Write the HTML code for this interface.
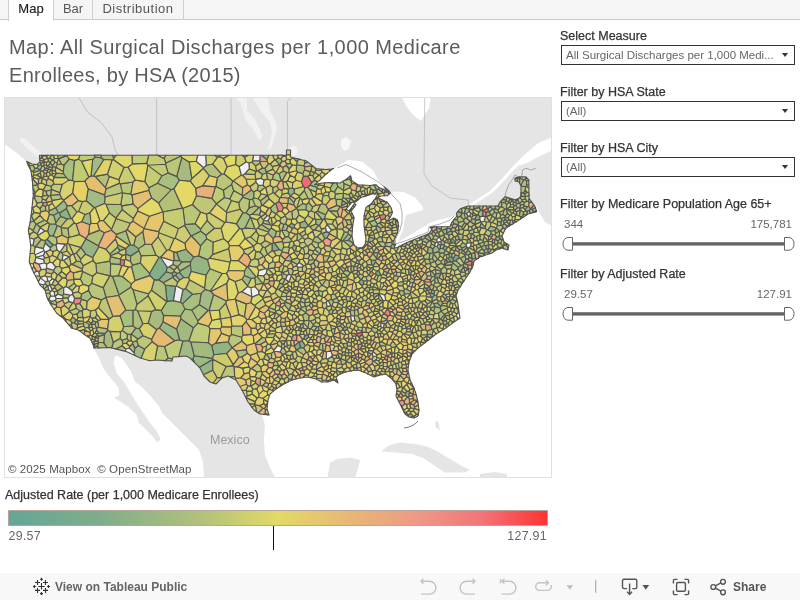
<!DOCTYPE html>
<html><head><meta charset="utf-8">
<style>
*{margin:0;padding:0;box-sizing:border-box}
html,body{width:800px;height:600px;overflow:hidden;background:#fff;font-family:"Liberation Sans",Arial,sans-serif}
.a{position:absolute;white-space:nowrap}
#tabs{position:absolute;left:0;top:0;width:800px;height:20px;background:#f5f5f5;border-bottom:1px solid #cbcbcb}
.tab{position:absolute;top:0;height:20px;border-right:1px solid #cfcfcf;font-size:13px;color:#555;line-height:18.8px;text-align:center}
#t1{left:8px;width:46px;background:#fff;border-left:1px solid #cfcfcf;height:21px;color:#222;-webkit-text-stroke:0.15px #222}
#t2{left:54px;width:39px}
#t3{left:93px;width:91px}
.title{left:9px;font-size:20px;letter-spacing:0.3px;color:#5c5c5c;line-height:28px}
.lbl{font-size:12.5px;color:#333;left:560px;-webkit-text-stroke:0.25px #333}
.dd{position:absolute;left:561px;width:234px;height:20px;border:1px solid #333;background:#fff}
.dd span{position:absolute;left:4px;top:2px;font-size:11.5px;color:#666;line-height:14px}
.dd i{position:absolute;right:6px;top:7px;width:0;height:0;border-left:3.5px solid transparent;border-right:3.5px solid transparent;border-top:4px solid #333}
.val{font-size:11.5px;color:#666}
#tb{position:absolute;left:0;top:573px;width:800px;height:27px;background:#f8f8f8}
</style></head><body>
<div id="tabs"></div>
<div class="tab" id="t1">Map</div>
<div class="tab" id="t2">Bar</div>
<div class="tab" id="t3" style="letter-spacing:0.5px">Distribution</div>

<div class="a title" style="top:33px;letter-spacing:0.41px">Map: All Surgical Discharges per 1,000 Medicare</div>
<div class="a title" style="top:61px">Enrollees, by HSA (2015)</div>

<svg class="a" style="left:0;top:0" width="800" height="600" viewBox="0 0 800 600">
<rect x="4" y="97" width="548" height="381" fill="#e5e5e5"/>
<polygon fill="#ffffff"  points="4,143.4 10,148 18,154 24,159 26.6,161.3 40,172 45,200 42,230 42,260 52,285 62,303 75,320 90,331 93.7,348.2 98.3,356.5 103.8,369.3 111,378.5 118.5,387.6 119.4,395 113.9,397.7 120.3,401.4 129.5,407.8 136.8,415 138.6,422.4 146,429.7 153.3,437 157,442.6 160.6,439.8 157,431.6 149.6,422.4 142.3,411.4 135,400.4 129.5,391.3 124,382 116.6,373 113.9,363.8 114.8,356.5 116.6,355.6 122,358.3 131,371 135,382 140.4,385.8 149.6,395 158.8,406 162.4,413.3 169.7,420.6 182.6,433.4 191.7,442.6 199,450 203,462 204,478 4,478"/>
<polygon fill="#ffffff"  points="552,226 545,222 540,214 536,206 520,215 500,232 480,252 455,275 440,310 405,340 398,380 380,365 340,362 300,368 262,392 262,415 265,425 264,440 265,455 270,467.5 275,478 552,478"/>
<polygon fill="#ffffff"  points="452,219 460,210 470,204 490,191 501.5,179 508,172 514,165 523.5,155.4 538,143.3 552,137.3 552,150.5 540,156 528,162.6 518,166 510,174 503.5,181.5 492,193 472,206 462,212 454,221"/>
<polygon fill="#ffffff"  points="402,97 431,97 429,108 421,121 413,115 406,106"/>
<polygon fill="#f1f1f1"  points="252.6,98 268,98 270,111 276.5,123 276.5,131 271,149 268,149 272,131 270,123 261,111"/>
<polygon fill="#f1f1f1"  points="235,98 247,98 247,111 255,119 260,130 262.4,136 261,139.5 258,139.5 257,136 253.7,130 245,119 243,111 240,102"/>
<polygon fill="#f1f1f1"  points="289.5,148 294,145 298,150 296,155 291,155"/>
<polygon fill="#f1f1f1"  points="21,137 25,139 33,146 41,153 41,158 36,156 28,149 20,141"/>
<polygon fill="#e5e5e5"  points="327.5,478 330,462.5 337.5,459 350,457.5 360,460 357.5,470 355,478"/>
<polygon fill="#e5e5e5"  points="382.5,450 390,445 400,442.5 415,444 425,446 435,450 447.5,457.5 460,465 470,470 465,472.5 445,472.5 435,466 425,459 412.5,454 395,452.5 382.5,451.5"/>
<polygon fill="#e5e5e5"  points="480,474 495,472 507,474 507,478 480,478"/>
<polygon fill="#e5e5e5"  points="435,422 438,421 440,430 436,428"/>
<polygon fill="#ffffff"  points="314.5,185 319,181 325,175 331,170 340,165 348,160 362,161.5 373,170.5 379,181 386,189 388,192 385,190 379,187.7 376,184.7 370,185.5 358,184.7 352,181 350.5,175.7 346,179.5 340,183 329.5,182.5 322,183"/>
<polygon fill="#ffffff"  points="354,203 361,197.5 372,194 378,194 375,199 371,204 366,207.5 364,216 364,225 365,232.5 366,239 365,245 362.5,247.5 357.5,248 354,245 352,236 352.5,227.5 354,217.5 351,211 356,205"/>
<polygon fill="#ffffff"  points="346,209 352,202 355,203 349,211"/>
<polygon fill="#ffffff"  points="387.5,195.6 392,191.7 403,191.7 415,197.5 423,207 423,210 406,215 404.5,221 403,230 399.5,238 397,244.5 394,244 394,240 397.5,232.5 398.75,226 397.5,220 393.75,218 390,220 387.5,221 390,217.5 392.5,212.5 391,207.5 387.5,202.5 382.5,200 377.5,197.5 381,196"/>
<polygon fill="#ffffff"  points="394,247 397,242.5 405,238 415,232 424,226.5 428,225 432,229 429,233.6 418,238 406,243 396,248"/>
<polygon fill="#ffffff"  points="427,224 438,220 450,217.5 456,213 457,216 452,222 450,226.7 440,226.7 429,227"/>
<polyline fill="none" stroke="#b4b4b4" stroke-width="0.7"  points="156.6,97 156.6,155"/>
<polyline fill="none" stroke="#b4b4b4" stroke-width="0.7"  points="231,97 231,155"/>
<polyline fill="none" stroke="#b4b4b4" stroke-width="0.7"  points="290.6,97.5 287.4,101.5 287.4,150"/>
<polyline fill="none" stroke="#b4b4b4" stroke-width="0.7" stroke-linejoin="round" points="424.6,97 424.6,119 424,174 432,186 450,198 468,200 469,206"/>
<polyline fill="none" stroke="#a8a8a8" stroke-width="0.6" stroke-linejoin="round" points="78.75,97.5 87.5,112 101.5,123 112,137 115.5,151 119,155"/>
<polyline fill="none" stroke="#8a8a8a" stroke-width="0.7" stroke-linejoin="round" points="337,168 346,164.5 362,172 379,182.5 388,190 393,196 400,203.5 402,212 402,222 400,230 396,238 395,244 405,241 418,236 428,232 429,227 440,224 450,220 455,215"/>
<polyline fill="none" stroke="#8a8a8a" stroke-width="0.7" stroke-linejoin="round" points="500,203.3 505,196.7 505.8,192.5 508.3,185.8 515,175 517.5,176.7 521.7,176.7 522.5,170 525.8,168.3 530.8,170 535.8,168.3"/>
<polygon fill="#f6f6f6"  points="341,140 346,137 351,141 349,149 344,151 341,146"/>
<g stroke="#525252" stroke-width="1.15" stroke-linejoin="round">
<path fill="#72a890" d="M456 260.6l3.4 -2.8l-.8 -2l-3.3 -1.1l-2.6 4l.8 2.7zM427.1 288.5l-2.8 -1.1l-1.1 1.4l.9 2.5l1.4 .4l1.6 -1.4zM434.9 275.3l-.4 1.4l.8 1.2l1.9 .4l2 -.5l2.1 -4.8l-.3 -.3l-4.9 1z"/>
<path fill="#78a890" d="M308.6 337.1l-.4 -2.1l-1 -.3l-2.2 .6l-1.5 3.7l2.2 .7zM376.3 271.1l-.9 2.5l.9 1.2l1.9 1l2.6 -.5l0 0l-2 -5.2zM344.6 326.9l-1.6 1.8l-.3 1.1l1.9 1.1l2.8 -1.1l.4 -2l-1.4 -1.3zM362 285.9l1.5 -1.6l.5 -3.1l-2.4 -1.8l-1.1 .3l-2 2.6zM412.1 271.4l-2.5 -2.9l-1.4 .8l.7 5.4l1.1 .1zM294.7 225.3l-3.1 -2.3l-3.3 2.9l4.2 2.6l2 -.8z"/>
<path fill="#78ae90" d="M445.1 259.5l-1 5.7l.1 .1l3.7 -3.2l-2 -2.7zM217.5 157.4l2.4 -.7l.2 -1.5l-5.8 0z"/>
<path fill="#7eae8a" d="M431.9 297.9l2.9 -2.7l-.6 -1l-3.1 -1.5l-1.3 .5l-.2 .3l1.6 3.9zM475.9 220.4l3.9 -.8l.3 -2.8l-2 -2.2l-1.1 .3l-.2 .2l-2 4zM445.9 250.5l1.7 -3.3l-3.1 -1.4l-1.8 2.4l2.6 2.5zM375.6 260.4l-4.7 -.6l.8 5.1l1.4 1.1l2.6 -4.1zM294.5 345.7l-.2 .5l2 4.1l.4 -.2l3.9 -2.4l-1.3 -5.7l-.5 -.1zM428.1 234.6l.1 0l.6 -.7l0 -.2l-1.3 .5zM167 301.6l6.5 -1l2.3 -14.2l-10.4 -1.4zM430.6 289.3l-1.3 -3l-.2 0l-2 2.2l0 1.8l1.4 .4zM45 240.5l.2 2.7l5.1 4.5l3 -2.7l-6.3 -5.7z"/>
<path fill="#84ae8a" d="M495.3 239.1l0 0l2.4 2.3l2.7 -2.5l-1.3 -2.5l-2.7 .2zM285.3 382.9l.2 .4l2.9 -1.5l-.1 -.1zM301.2 331.3l.2 -3.1l-1.6 -1l-.6 .2l-.7 2.8l2.3 1.4zM272 250.8l1.4 .6l6.2 -1.6l-5.2 -6.9l-1 -.2l-1.3 .9zM300.6 347.7l3.2 .3l1.7 -2.5l-3.6 -5.1l-2.6 1.6zM434.7 291.1l-2.1 -1.4l-.8 .2l-.7 2.8l3.1 1.5zM160.6 257.2l-1.6 .2l-9.4 15.9l.3 2.3l4.3 4.3l4.4 .2l7.6 -8.3l1.1 -4.6zM372.9 295.8l1.3 2.2l4.6 -3.5l.3 -.6l.1 -.7l0 -.2l-5.3 .6z"/>
<path fill="#8aae8a" d="M125.8 254.3l4.9 1.8l8.2 -5.3l-.2 -2.2l-5 -3.5l-3.1 -.3l-1.6 .5l-3.3 3.1l0 .1zM104.5 334.6l.6 -1.2l-6.7 -.7l-1.8 1.1l.6 1.8l1.9 .9z"/>
<path fill="#8ab484" d="M173.2 276.5l2.5 -.9l1.3 -2.4l-2.8 -1.7l-2.6 1.7zM59.5 213.1l1.2 3.4l6.6 2.6l3.9 -.6l-4.7 -9.9zM436.7 227.7l-.5 1.3l1.3 3.4l1.2 .1l2.8 -2.1l-.4 -1.2z"/>
<path fill="#8ab48a" d="M408.8 396.8l.7 -4.7l-.5 -1.2l-2 .2l-1.6 2.3l-.1 2l2.1 1.9l.8 .1zM34.9 168.2l-1.8 3.5l.3 1.1l6.9 -2.3l0 -.2l-2.9 -2.4zM514.1 220.4l-1.5 .1l.3 3.3l3 -1.7zM413.3 416l-2.6 -2.7l-2.4 2l-.1 1.1l.8 .6l1.8 .4zM489.2 248.5l-.6 -3.7l-.1 -.1l-2.9 1.1l.6 3l1.9 .4zM521 196.4l4.1 .3l.3 -.5l-.6 -2.3l-1.3 -1.1l-2.3 -.1l-.2 3.2l0 .1l0 0z"/>
<path fill="#90b484" d="M446.6 327.5l2.9 -2.1l-1.3 -1.8l-.7 -.1l-2.6 1zM451.9 262.1l.9 .3l.7 -1l-.8 -2.7l-.7 -.9l-2.5 -1l-1.7 1.6zM468.3 255l3 -1.4l-3.3 -4l-2.5 3.8l0 1.3zM432.7 249l-2.4 -2.1l-2.3 .5l-.6 5.4l0 .1l2.3 .6l3.6 -.5zM289.6 188.5l-1.2 .9l-.2 3.5l2.1 3.1l.2 -.1l3.9 -2.9l-.2 -4l-1.9 -1.2zM267 159.9l2 -4.7l-7.6 0zM183 289.4l-2.7 12.9l2.2 1.6l10.3 -9.7l-7.2 -5.6zM213.8 354.7l12.9 -1.2l5.5 -5.7l-3.9 -6l-12.5 1.3l-4.2 2.3zM527.4 192.5l-2.1 -2.4l-1.8 2.7l1.3 1.1zM304.9 220.8l-5.3 2.3l.6 4.3l5.2 .9l3.1 -2.5l0 -.1zM381.1 321.7l-.3 .3l.2 .4l3.2 1.9l1.8 -.6l1.7 -1.9l.1 -.8l-.7 -1zM324.7 238.6l2.2 -.6l2.5 -4.3l-.2 -1.1l-2.4 -1l-4.7 1.9zM446.4 233.7l2.3 1.6l3.5 -1.2l.4 -2.1l-1.3 -1.2l-4.6 2.3zM446.9 258.5l-1 .9l2 2.7l4 0l-4.1 -3.7zM496.3 227.8l0 0l-1.8 2.6l1.1 3.1l4.1 -2.2l.1 -.2zM447 228.4l-5.4 2.1l2.8 3.8l2 -.6l.3 -.6zM479 207.6l1.5 2.5l1.5 0l1.9 -4.1l-5 0z"/>
<path fill="#96b484" d="M457.9 217.3l2.8 -.9l1.5 -3.2l-.1 -.1l-4.1 -1.7l-1.6 2l-.1 .6l.7 2l0 0zM341.3 206.1l5.5 -2.9l-4.5 -3.1zM470.2 221.5l4.2 3l.5 0l1 -4.1l-1.1 -1.3l-2.8 -.4zM279.7 164.9l2.4 -3.5l-1 -2.6l-3 -.9l-3 2l4.5 5zM92.7 257.7l6.3 -11l-.5 -1l-12.6 -7l-5 8.7l0 .2l4.7 6.6zM425.3 236.7l2.8 -2.1l-.6 -.4l-3.2 1.3zM368.4 241.8l.1 .1l.7 .1l3.3 -.7l2.6 -2.6l-6.1 -2zM471.9 262.1l-.3 2.6l1.6 .2l.5 -2.6zM179.6 272.6l4.2 5l4.9 .2l2.5 -6.3l-.8 -6.8l-10.6 6.2zM190.4 264.7l.8 6.8l14.8 3.7l4.1 -6.4l-2.5 -9.2l-9 -3.7l-4.8 1.1l-3.2 4.6zM166.2 271.8l-7.6 8.3l4.7 2.7l9.5 -5.2l.4 -1.1l-1.6 -3.3zM428.2 234.6l-.1 0l-2.8 2.1l-.3 1.2l4.5 3.1l1.2 -.2l.4 -.4l.3 -.5zM190.6 261.6l3.2 -4.6l-7.9 -7.7l-9.4 2.8l3.1 8.6l2.3 1.4zM502 239.7l1.4 .5l-.6 -1.8zM534.6 211.7l.3 .5l1.8 -.5l-.5 -1.4zM432.8 335.7l-.6 -.9l-4.9 -.8l-.3 .6l.1 1.5l0 .1l3.1 1.9zM125.7 248.4l-7.7 -3.6l-.6 2.3l2.5 3.8l5.8 -2.4zM292.5 157.6l4.4 4.2l2 -2.7l-6.4 -1.6zM92.7 320.4l-1.4 3.2l.7 .6l2.8 .3l1.2 -2.6zM199.2 367.2l.8 .8l3.2 6.5l.4 .2l9.3 -4.5l-.3 -10.8zM452 253.6l-2.5 -.7l-.8 1.2l.8 2.7l2.5 1zM175.7 275.6l4.1 4.5l4 -2.5l-4.2 -5l-2.6 .6z"/>
<path fill="#9cb484" d="M294.3 244.7l-2.4 3.1l2.6 3.8l1.3 -.8l.8 -4.5zM374.8 193.9l2.2 -1.8l-.1 -2l-.5 -.2l-3.6 .2l0 2.7z"/>
<path fill="#9cba84" d="M463.5 266.4l-.4 -1.5l-2.1 .4l-2.9 2l-.5 2l2.9 2.6l.2 0l2.8 -4.5zM478.6 212.3l-.5 2.3l2 2.2l2.9 -.7l-.1 -5.5l-.9 -.5l-1.5 0zM280.4 379.4l1.8 -.8l-.4 -3.1l-2.6 -1.9l-1.6 1l.3 2.2zM351.6 236l-3.1 -2l-5.9 7l.8 .1l5.3 -1zM49.5 224l-1.9 7.2l2 4.7l3.8 0l3.9 -10.1l-1.9 -1.9zM48.4 211.7l.9 2.7l4.3 .8l4.7 -2.8l-2.6 -4.5l-.4 -.1l-6 3zM509.4 224.4l-.4 .3l-.2 .5l.5 .8l3.4 -2zM451.3 230.8l-.4 -1.8l-3.5 -1.3l-.4 .7l-.3 4.7zM348.7 194.5l1.8 3.5l.4 .3l.3 0l2.1 -1.5l.4 -.8l-2.7 -3.7zM461.8 249.3l.7 1l1.1 .3l3.7 -3.1l-.9 -1.2l-4.6 1.5zM420.7 248.2l-.7 -3.5l-2.9 -1.2l-.7 1l2.2 3.1l1.7 .7zM496.9 213.2l1.9 -.8l-.6 -2.4l-3.3 -1.4l-1.1 .8l.6 3zM433.9 303.6l.8 2.6l.4 .5l5.3 1.4l.5 -1.6l-3.5 -3.7zM432 301.6l4.7 -2.1l.8 -3l-1 -1l-1.7 -.3l-2.9 2.7l0 3.5zM348.7 240.1l-5.3 1l7 5.8l2.9 -2.2l-.2 -1.6zM163.2 321.8l-3.9 6.3l15.3 12.6l5.2 -.8l-3.2 -11zM453.7 285.9l3.9 -1.9l-.4 -2.7l-3.5 .4l-1 1.2l.1 2.4zM95.1 337.4l2.9 1l1.1 -1.9l-1.9 -.9l-2.3 1.5zM462.6 239l.9 -3.5l-.8 -1.2l-3.7 -.4l-1.1 .5l-.6 1l2.2 3.9l1.7 .7l.6 .1zM479.7 226.7l1.5 1.2l4.4 .9l-.3 -1.7l-4 -4.1zM430.7 227.2l.6 .9l3.4 -1.3l-3.9 .2zM458.9 230.1l4.3 -.9l-1.6 -2.4l-3.4 -1.6zM346.6 348.1l1.1 -1.8l-.6 -3.1l-4.5 .4l1.7 4.1l1.9 .5zM348.8 202.4l2.1 -4.1l-.4 -.3l-5.8 .2zM452.9 221.4l.8 2.5l4.3 .8l.7 -2.1l-1.6 -3.2l-3.2 .3l-.6 .7zM527.4 206.5l-2.2 3.3l.1 1.1l1.8 .5l2.2 -1l1.4 -1.6l0 0l-2 -2.6zM71.4 324.5l-2.5 .4l2.8 3.4l.9 .2zM529.3 210.4l.7 3.1l2.1 -.6l1.2 -1.9l-1.3 -1.6l-1.3 -.6zM517.9 200l-1.7 .5l-.5 1.9l1 1.6l2.7 -1zM432.7 249l.6 4l.1 .1l5.2 -1.2l.6 -2.4l-2.2 -3l-1.8 -.3zM486.2 248.8l-2.2 2l.3 2.4l3.8 -.7l0 -3.3zM471.8 258.4l.7 .9l3 -1l-.6 -6.1l-3.5 1.4zM283.5 286l0 -.9l-.8 -.9l-3 -1.3l-3.1 6.3l2.1 .3zM534.6 211.7l-1.3 -.7l-1.2 1.9l2.8 -.7zM81.7 221.8l8 2.9l1.4 -1.2l-1.1 -10.7l-5.1 1.7zM72.4 317.1l-2.1 3.1l1.5 3.1l2.2 -.5l2.7 -2.8zM439.2 249.5l-.6 2.4l1.2 1.1l3.8 .2l1.7 -2.5l-2.6 -2.5l-2.5 .5zM58.3 212.4l-4.7 2.8l2.2 7.7l4.9 -6.4l-1.2 -3.4zM212.6 359.4l0 -.1l0 -.9l-18.5 -2.7l-1.1 3.2l1.8 3.9l4.4 4.4zM505.3 217.1l3.1 1.1l1.3 -3.1l-2.5 -1.8l-2 2.7l0 .9zM484 254.6l-.9 1.4l1.9 -.7zM444.6 314.9l.7 .9l3.9 -.2l.7 -.7l-1.3 -2.9l-.3 -.1l-4 2.3zM457.4 301.5l-.9 -3.6l.2 3.4zM485.6 245.8l-1.4 -.5l-2.8 1.5l.5 2.1l2.1 1.9l2.2 -2zM67.2 205.5l-3.4 -5l-8.1 7.4l2.6 4.5l1.2 .7l7 -4.5zM318.5 225.6l1.1 -.2l3.7 -6l-1.6 -.4l-6 .4l0 4.6zM395.2 245.2l-2.7 -1l-2.2 2.7l.8 1.2l2.9 .6l.5 -1.5l-.5 -.2l1.1 -1.7zM476.8 215.1l.2 -.2l-3.8 -2.5l-1 1.2l.9 2.1zM501.8 239.7l.2 0l.8 -1.3l-.8 -2.4l.2 -.5l-2.9 .7l-.2 .2l1.3 2.5zM449.2 244.1l3.6 -1.4l-2.1 -2.7l-1.5 3.9zM193 358.9l-1.5 .6l3.3 3.3zM439.2 249.5l1 -.8l.6 -3.7l-2.6 -.7l-1.2 2.2z"/>
<path fill="#a2ba7e" d="M516.7 204l-1 -1.6l-2.4 0l-.3 1.8l1.4 1.6l1.5 -.2zM452.6 232l2.4 -.6l.7 -1.5l-.3 -1.8l-3 -.8l-1.5 1.7l.4 1.8zM468.4 238.9l-1 1.1l-.4 3.3l3.9 -.5l.2 -.2l-1.6 -3.6zM494.9 208.6l3.3 1.4l2 -2.8l-2.7 -1.2l-1.6 0zM417.5 241.2l-2.6 -1.8l-.6 .1l-1 .5l-1.6 2.2l1.5 2.4l3.1 0l.1 -.1l.7 -1zM358.1 275.6l1.9 -1.3l-1.1 -3.3l-.9 -.2l-1.7 3.2zM428.8 233.9l2.8 .1l1.6 -2.7l-1.6 -1.6l-2.6 3.9l-.2 .1zM353.7 270.7l.6 -4.5l-3.1 -.6l-.5 .4l.5 6.5l.7 0zM193.5 327.8l-12.6 -9.1l-4.3 10.2l3.2 11l3 1.4l6.2 -.6zM274.9 236.8l1.7 -5.4l-5.3 -3.3l-1.9 1.7l-1.2 2.2l-.1 1.4l5.1 5.2zM501.9 220.3l1.6 .8l1.5 -1.2l.3 -2.8l-.1 -.2l-4.1 1.6zM425 237.9l-3.1 2.1l.5 1l4.5 2l2.6 -2zM389.2 212.8l-1.6 2.4l2.2 2.5l.2 -.2l2.5 -5l-.2 -.6zM34.4 198.1l.9 -2.3l-.4 -1.8l-1.7 -.6l.1 1.6l-.4 3.7zM424.3 235.5l-3.3 1.3l.3 3l.6 .2l3.1 -2.1l.3 -1.2zM332.3 313.7l1.1 -3.2l-2.2 -1.3l-2.4 1.7l.6 3.3l2.3 0zM523.1 207.7l2.1 2.1l2.2 -3.3l-3.1 -.6zM459 233.9l-.1 -3.8l-3.2 -.2l-.7 1.5l2.9 3zM52.8 160.1l-3.1 -2.3l-2 .5l.6 3.1l1.8 1.1zM342.6 241l5.9 -7l-.7 -1.7l-3.5 -.5l-3.7 8.7l.9 .6zM341.2 266.5l-1.9 .8l4.1 4.7l2 -1.6l-.2 -1.6zM200.6 229l-5.4 -5.4l-10.3 .9l-.4 1.1l6.5 10.4l.4 0l9.4 -4.8zM208.5 342.8l-17.9 -1l3.5 13.9l18.5 2.7l1.2 -3.7l-2.2 -9.3zM445 299.1l1.4 -.7l.4 -1.7l-1.3 -2l-2.1 -.9l-1.2 2zM500.8 221.5l.1 3.7l1.4 .5l1.8 -1.7l.2 -.7l-.8 -2.2l-1.6 -.8zM442.3 302l-1.2 -1.5l-2.9 .7l-.8 1.6l3.5 3.7l1 -1.4l.6 -1.7zM376.4 189.9l.5 .2l1.3 -.8l1 -1.5l-.2 -.1l-3 -3l-1.8 .2zM50.1 163l-1.8 2.5l1 1.5l3.1 .5l.7 -.8l-.4 -1.2zM254 191.7l-2.8 -1.7l-8.4 6.1l0 1.1l6.8 2.6l2.9 -.6l1.5 -1.2zM465.5 253.4l-1.9 -2.8l-1.1 -.3l-1.2 2.4l3.8 2.3l.4 -.3zM251.4 278.5l-7 -3l-2.5 3.7l5.6 6.9zM489.4 212l-.8 -.5l-2.7 1.1l-.1 3.8l.9 .2l4 -1.7z"/>
<path fill="#a2ba84" d="M210.4 291l-5.4 -1.6l-3.9 3.9l-1.8 11.4l8.9 5.8l.9 0l4.6 -16l-2.7 -3zM376.2 228.9l1.9 3.7l.3 .1l2.5 -1.5l-.1 -2.9l-4 -2.7l-.5 .5zM466.5 213.6l2.6 -2l.5 -2.2l-.1 -.2l-2.9 -1l-.9 .6l-1.7 4.2l.2 .1zM144.8 349.2l-6.3 -3.7l-3.4 2.6l-1.1 4.7l.9 2.8l5.1 2.4l1.1 .3zM364.3 289.1l.1 .4l4.1 2.7l1.5 -2.4l-.4 -2l-2.8 -.6zM443.6 253.2l1.2 1.6l1.3 .3l2.6 -1l.8 -1.2l-.1 -.2l-3.5 -2.2l-.6 .2zM428.9 259.4l1.6 4.2l4.1 -2l-2 -2.9l-3.4 .5zM368.5 241.9l-.1 -.1l-2.7 -.8l-.7 3.8l1 .3l1.7 -.6zM504.1 224l-1.8 1.7l.7 2.3l2.5 1.1l.5 -1.1l.3 -.2l1 -2.2zM143.2 335.8l-3.7 -7.1l-3.8 -.6l-4.4 6l6.5 5.1zM134 352.8l1.1 -4.7l-2.6 -4.7l-2.9 3.1l-.4 1.7zM266.5 172l-1.5 -3.8l-2.6 -.3l-4.9 2.9l5 3.7l3.8 -1.5l.2 -.5zM442.7 240.4l-1.3 .1l-.7 .8l.7 3.2l2.8 .4l.7 -2.3l-.4 -1zM505 202.6l1.2 -1.8l-.2 -1l-3.7 -.2l-1.6 1.7l1 1.3zM527.4 214.3l-4.2 .5l-1.4 2.1l1.1 .5l4.5 -3zM392.1 226.7l-2.5 -2.7l-2.2 2.9l4.4 2.4l.6 -1.2zM254.7 278l1.2 -1.4l-8.2 -10.1l-.8 .3l-2.4 4.2l-.1 4.5l7 3zM193 358.9l1.1 -3.2l-3.5 -13.9l-1.6 -1.1l-6.2 .6l-4.1 15.3l7.3 -.6l4 2l1.5 1.5zM403.5 290.4l.9 3.8l6.1 -.7l.5 -1.2l-.2 -.4l-4.3 -3.2l-2 .4zM460.3 258.1l3.6 5.7l.3 -.2l1.9 -4.8l-1.4 -3zM101 157.8l-5.8 -.9l-2.5 2.4l-1.8 17l2.7 -.3l10.3 -16.5zM104.6 194.9l-16.5 -6.1l-1.9 12l8.1 6.9l.9 -.1l9.4 -4.2l.6 -6.4zM496.3 227.8l-5.7 -1.7l-3 3.7l3 1.7l3.9 -1.1zM468.9 257.7l2.9 .7l-.4 -4.8l-.1 0l-3 1.4zM532 209.4l1.3 1.6l1.3 .7l1.6 -1.4l-.9 -2.8z"/>
<path fill="#a8ba7e" d="M314.8 172.5l-4.2 -1.4l-.8 .5l-.1 3.5l3.1 .6zM527.1 201.2l-1.8 -2.5l-3.5 1l.1 1.6l2.5 1.3zM440.8 271.1l.4 -1.6l-4.4 -3.6l-1.7 1.8l-.2 1.5l.4 .5zM176.5 252.1l-2.9 -.2l.4 8.5l5.6 .3zM516.2 200.5l1.7 -.5l.7 -1.5l-3.4 1.4zM456.1 246.2l3.5 3.9l2.2 -.8l0 -1.5l-1.7 -2.1l-4 .2zM404.3 294.8l.1 -.6l-.9 -3.8l-3.7 .4l-1 2.1l2.6 3.1zM489 252.8l-.9 -.3l-3.8 .7l-.3 .7l0 .7l1 .7l4.7 -1.5zM377.4 223.7l-.6 1.9l4 2.7l3.1 -1.3l-4.1 -4.2zM463.2 229.2l.1 0l3.4 -5.3l-2.1 -1.2l-3 4.1zM346.8 307.4l-1 -.2l-.1 .1l.7 4.6l3.6 -.5l.5 -1.1l-.1 -.2zM286.5 230.2l1.7 -4.3l-2.5 -2.1l-1.9 .5l-1.8 6.2zM113.4 342.3l-3.3 -10.9l-2.2 -1.3l-2.8 3.3l-.6 1.2l-.8 8.2l3.3 4.8l3 -.1l1.8 .5zM179.4 180.3l10.9 1.1l1.6 -2.9l-2.7 -16.6l-7.4 -4.4l-5.1 18.9zM148.2 323.2l8.5 6.5l2.6 -1.6l3.9 -6.3l.4 -6.4l-2.4 -5l-5.4 -.8l-4.3 1.8z"/>
<path fill="#a8c07e" d="M451.2 268.6l.4 .4l3.1 1.9l2.9 -1.6l.5 -2l-5.3 -4.3l-.9 1.9zM54 177.4l12.3 .2l-2.6 -3.8l-7.1 -.7l-.3 .2zM317.2 236.6l-2.5 .4l-1.8 3.3l.1 1l5.4 2l4.2 -2.1zM40.3 170.3l1.9 -4.3l-1.3 -1.3l-2.7 .8l-.8 2.4zM389.6 224l2.5 2.7l1.4 -2.3l-1.1 -2.7l-2.3 1.2l-.5 1zM519.5 216.1l1.3 1.1l1 -.3l1.4 -2.1l.4 -2.7l-3.5 -2.4l-.2 .4zM506.4 209.1l.8 4.2l2.5 1.8l1.2 -.1l1.4 -1.9l-4.1 -3.5l-1.5 -.6l-.2 0zM520 208.5l3.1 -.8l1.2 -1.8l-.5 -1.4l-3.4 .1l-.6 3.7zM46.3 168.1l1.9 .6l1.1 -1.7l-1 -1.5l-1 .1zM185 309l-2.5 -5.1l-2.2 -1.6l-6.8 -1.7l-6.5 1l-.3 .2l-5.5 8.6l2.4 5l16.9 .8zM131.4 283.9l-8.7 -7.2l-4.2 -1.1l-6.1 .7l6.6 18.7l11.8 -7.8zM246.4 349.6l-10.6 1.4l2.8 6.3l3.4 -.3l5.3 -3.6zM120.4 259l-9.9 -2.4l-1 4.5l1.1 2.8l9.6 .7l.5 -5.1zM292.1 288.6l0 .2l5 1.8l1 -4l-3.7 -.1zM406.7 242.9l-.1 -.2l-.6 .3l-1.1 .5l1.6 .5zM354.1 201.6l-2.9 -3.3l-.3 0l-2.1 4.1l0 .1l.2 .2l2.2 .2l.8 -.9l1.9 .6zM87.2 301.3l4.8 -4.4l-3.4 -6.7l-7 3.9l-1 4.1l.9 1.2zM63.3 171.7l.4 2.1l2.6 3.8l2.3 2.5l4 .5l2 -20.2l-5.3 -1.4l-5.4 6.2zM149.6 273.3l-9.2 -10.4l-7.9 2.2l-1.1 1.4l3.6 14.1l14.9 -5zM185 309l6.8 1.3l7.5 -5.6l1.8 -11.4l-8.3 .9l-10.3 9.7zM497.6 221.9l-.6 2.8l.3 .8l3.6 -.3l-.1 -3.7zM292.7 165.2l-2.3 -2l-3.7 .7l-.6 1.6l3.2 3.5zM385.7 345.8l.6 -1.2l-4.8 -3l-1.7 .4l-.6 .6l.9 3.3l.2 .1zM429.6 293.5l.2 -.3l-1.3 -2.5l-1.4 -.4l-1.6 1.4l1.3 2.7zM130.6 244.8l-4.7 -14l-9.8 3.6l.1 1.8l12.8 9.1zM308.7 202.5l-2.4 2l-.4 5.2l2.8 2.2l2.8 -1l1.2 -4.1zM505.6 245l2.8 2.8l0 0l.6 -2.8l-2 -1.2zM500.2 207.2l1.7 -.3l-.2 -4.3l-1 -1.3l-.7 .7l-2 4l-.5 0zM484 253.9l-6.4 -1.5l0 0l1.5 3.5l3.1 .4l.9 -.3l.9 -1.4zM468.1 258.9l1.2 2.2l2.3 .3l.9 -2.1l-.7 -.9l-2.9 -.7zM309 260.2l-1.3 3.7l2.8 .9l3.3 -2.1l1.2 -2.7l-1 -.5zM302.4 315.2l1.7 5.8l4.6 -.8l.7 -4.5l-3.6 -3.1l-.1 0zM452.8 263l5.3 4.3l2.9 -2l-5 -4.7l-2.5 .8l-.7 1zM488.1 252.5l.9 .3l2.8 -3.4l-2.6 -.9l-1.1 .7zM455.2 243.4l.6 1.2l5.4 -4.6l-1.7 -.7l-3.3 .9l-.9 1.6zM191.4 236l9.2 9.9l6.1 -7.1l-.6 -3.5l-5.3 -4.1zM500.9 243.3l-2.9 -.7l-1.5 1.8l1.7 3l1.2 .5l3.3 -1.5l.2 -.4zM337.8 186.5l-1 -3.7l-2 0l-2.1 .9l-2.6 4.3l.8 2.9l3.6 1.4zM429.8 325.1l1.1 .9l3.6 -3.4l-1.7 -3.1l-2.8 2.6zM462.1 213.1l-.4 -4.7l-1.7 .6l-2 2.4zM179.8 270.9l10.6 -6.2l.2 -3.1l-8.7 .5l-4.5 4.6l-.1 .2zM76.9 314.1l1.1 3.5l4.8 -.2l-.5 -6.8l-2.5 .3zM123.6 326.7l9.5 -.7l0 -15.7l-7.4 -.3l-5.7 5.6zM361.6 279.4l2.1 -3l-1 -2.1l-2.7 0l-1.9 1.3l0 .7l2.4 3.4zM447.9 262.1l-3.7 3.2l.1 .3l7.6 -.7l.9 -1.9l0 -.6l-.9 -.3zM411.3 278.3l-2.9 2.5l2 1.7l2.5 .3l1 -.4l.6 -2.3l-.3 -.6zM318.5 183.9l-4 1.1l3.4 -3.1l-.1 -.3l-3.5 -1.3l-2.6 2.2l-1.6 2.8l6.7 2.2l1.9 -2.8zM262.8 283.5l-5.8 -7.3l-1.1 .4l-1.2 1.4l1 6.8zM424.4 342.9l-3.4 -1l-.8 .2l.6 3.8l3.2 -2.4zM310.2 274.9l.1 1.3l2.8 2.5l3 -2l-2.3 -2.8zM403.5 283.6l-.7 -2.3l-5 1.4l.1 2.9l5 .4zM245.1 228.1l5.3 -11.1l-.7 -1.7l-3.7 -2.5l-3.1 -.2l-6.6 11.3l3.2 4.5l2.1 .9zM285.1 259.3l0 1l6.4 1.1l.1 -.2l.4 -1.6l-2.4 -4.9zM379.4 250.8l-3.1 -3.3l-2.6 4.2l-.2 .9l4.3 .4l.7 -.3zM372.3 226.5l4 -.4l.5 -.5l.6 -1.9l-2.7 -3.6l-5.7 1.8zM466.1 258.8l-1.9 4.8l.7 .1l4.4 -2.6l-1.2 -2.2zM353.9 217.2l-1.7 -3.7l-2.3 .6l2.4 4.1l.4 -.1zM452.4 227.3l3 .8l2.7 -3.1l-.1 -.3l-4.3 -.8l-1.4 1.4zM452 238.6l3.3 3.2l.9 -1.6l-1.1 -3.6l-1.2 -.1zM438.3 313.2l1.2 6l.8 .1l4.3 -4.4l-.3 -.7l-3.2 -3.1zM132.8 342l-.3 1.4l2.6 4.7l3.4 -2.6l-1.8 -5zM338.4 302.9l-.1 0l-1.8 4.1l5.4 1.5l1.1 -1.5l-.7 -1.6zM284.7 289.4l-1.8 2.5l3.7 1.8l3 -2.3zM500.4 231l2.6 -3l-.7 -2.3l-1.4 -.5l-3.6 .3l-1 2.3l3.5 3.3zM437.5 232.4l-1.9 1l-.4 2l3.7 1.7l.3 -.1l.4 -.6l-.9 -3.9zM109.7 254.1l.7 1.6l7.8 -2.8l1.7 -2l-2.5 -3.8zM315.8 212.2l5.9 6.8l1.6 .4l1 -.3l.4 -.6l1 -3.8l-8.2 -3.6zM338.8 301.2l-1.9 -3.5l0 0l-4.5 2.3l1.1 2.2l4.8 .7l.1 0zM331.9 305.8l-.7 3.4l2.2 1.3l2.3 -1.2l0 -1.6l-3.7 -2zM276.3 213.9l2.1 -2.8l-2.5 -7.5l-1.4 .2l-4.2 4.2l1.2 3.2l4.5 2.8zM168 172.9l-6.1 2.8l-4.5 7.5l13.8 6.6l2.8 -.9l5.4 -8.6l-2.7 -3.9zM433.1 329.5l-1.4 -.5l-4.4 2l0 3l4.9 .8l1.1 -4.2zM371.6 328.8l-.1 1.6l3.3 2.5l1.7 -.4l1.6 -2.4l-.8 -1.6l-4.8 -1.4zM455.4 250.5l3.3 1.6l.9 -2l-3.5 -3.9zM474.3 232.2l-.5 -2.4l-1.6 -.4l-3.2 1.6l.5 2.3l1.5 .8l1.9 -.1zM285.3 301.9l-.5 1.1l-.2 2.1l4.1 4.9l.3 -.1l2.5 -4.5l-.3 -1zM452.8 242.7l2.4 .7l.1 -1.6l-3.3 -3.2l-1.5 .6l.2 .8zM452.7 282.9l-2.8 -.7l-1.4 1.3l1 2.3l2.5 0l.8 -.5zM429.7 253.5l-.5 5.7l3.4 -.5l.9 -4.7l-.1 -.9l-.1 -.1zM383.6 193.2l1.4 -1.1l.2 -2l-.2 -.1l-2.3 -.9l-.4 2.8l.4 .8zM515.9 205.6l-1.5 .2l-1 1.6l.5 2.6l.1 .2l.6 0l3.3 -2.4zM362.9 338.8l.8 -1.6l-1.5 -2.9l-3.2 2.9l.3 2.2zM301.7 297.4l-.6 .7l-.9 3.5l4.3 1.4l.2 -.2l1 -3.3zM468.4 273.6l-2.7 .1l-.9 2l1.5 1.8l2.2 -3.3zM481.2 246.7l-2.2 -3l-.3 -.2l-2.4 1.7l.5 3.5zM31.5 215.8l2.8 -3.4l-1.7 -4.6l-.6 -.2l-.3 2.4l-.7 5.6zM530.7 208.8l0 0l1.3 .6l3.3 -1.9l-.3 -.8l-1.3 -1.8zM302.8 203.4l-5.8 4.2l-.8 .9l1.8 1.7l7.9 -.5l.4 -5.2zM505 219.9l2.6 .8l1.4 -1.1l-.6 -1.4l-3.1 -1.1zM467.9 269.3l.5 -.4l-.7 -3.9l-2.8 -1.3l-.7 -.1l-.3 .2l-.8 1.1l.4 1.5zM433.3 231.3l-.1 0l-1.6 2.7l2 2.6l1.6 -1.2l.4 -2z"/>
<path fill="#aec07e" d="M435.2 235.4l-1.6 1.2l-1 2.4l3.9 1l2.4 -2.9zM523.6 179.9l-4 -2.1l0 5.5l1.2 2.4zM488.3 241.3l-.2 -.4l-.1 0l-4 1.1l.2 3.3l1.4 .5l2.9 -1.1zM348 301.4l2.2 0l.4 -4.4l-4.7 -.8l.3 3.3l1.4 1.7zM400.5 258.7l.4 -1.9l-2 -3.7l-2.5 -.6l-1.2 1.1l2.8 7.3zM126.3 343.2l2.5 -2.5l-1.7 -2.2l-5.1 1.8l1 3.5zM442 226.7l-2 0l-3.7 .1l.4 .9l4.4 1.5zM421.8 254.2l-2.7 -.9l-2.8 1.7l0 .6l1.5 1.3l5.5 -1.1zM370.6 268.1l-1.4 2.2l1.6 1.5l.9 -.2l1.8 -2.5l-.5 -1.7zM345.6 360.4l-4.5 -1.6l-.6 .2l-.1 .2l1 4.8l1.2 .9l3 -1.6l.8 -1.4l-.2 -.8zM193.5 327.8l4.5 -4.7l-.1 -2.1l-6.1 -10.7l-6.8 -1.3l-4.5 7.2l.4 2.5zM450.7 240l-.2 -.8l-1.1 -.5l-1.1 .5l-.7 3.6l1.6 1.1zM304.7 169.8l-.1 -2.9l-.7 -1.1l-7.1 -1l-.4 .4l0 5.5l1 1.4l5.3 1.6zM381.5 332.8l0 -.7l-2.1 -2l-1.3 0l-1.6 2.4l1.6 1.2l2.4 -.1zM431.3 228.1l-.6 -.9l-.6 -.2l-.1 0l1.3 1.3zM375.2 204.6l-1.6 -3.9l-2.6 3.3l-.1 .1zM294 202.8l1.7 -3.9l-5.2 -3l-.2 .1l-1 1.6zM473.1 215.7l-.9 -2.1l-1.5 .1l-1.1 2.3l2.2 1.7zM411.6 242.2l.1 0l1.6 -2.2l-3.4 1.4zM34.9 194l.4 -1.1l-2.4 -5.2l.3 5.7zM269.5 277.8l3.3 -.7l.5 -2.7l-4.6 .9zM35.6 246.9l5.7 -7.3l-3 -3.1l-4.2 2.6l-1.1 6.3l2.2 1.7zM479.1 255.9l-1.1 2.4l2 -1.3l2.2 -.7zM492 216.1l3.6 2.2l.5 0l.8 -5.1l-2.5 -.8l-2.9 2.9zM449.9 301l2.6 -1.8l.6 -1.9l-3 -1.7l-1 1.4zM358.9 260.6l-1.5 -.5l-1.9 2.7l.1 .4l3.8 .8zM419.8 317.7l.5 -1.2l-1.6 -4.2l-.7 -.3l-2.4 1.3l1.7 3.9l2.1 .8zM494.9 208.6l1 -2.6l-5.3 0l-.1 .8l2.2 2.3l1.1 .3zM294 205.1l0 -2.3l-4.7 -5.2l-1.1 .7l-.3 5.2zM502.7 246.4l-3.3 1.5l0 1l2.6 -.9l1.7 .6zM286.5 352.2l-2.6 -4.5l-2.2 .4l-1.4 3.8l2 2.7l2.9 -.7zM122.3 209.7l-.2 -3.8l-1.3 -1.4l-14.8 -.1l3.4 8.5l6.5 5.3zM442.7 248.2l1.8 -2.4l-.3 -.9l-2.8 -.4l-.6 .5l-.6 3.7zM433.5 254l4.2 5.3l.3 -.1l1.9 -2.9l-.1 -3.3l-1.2 -1.1l-5.2 1.2zM466.9 218.1l1.3 -2l-1.7 -2.5l-2.3 -.5l1.1 5.4zM373.5 252.6l-.5 .5l-.1 .6l3.9 5.2l1 -5.9zM437.6 242l-1.1 -2l-3.9 -1l-1.2 .9l-.3 .5l4.2 2.7zM429.8 314.3l-.6 -3l-2.4 -.3l-1.3 .8l2.3 3.8zM323.1 350.8l-.5 -7l-2.1 -.5l-1.7 3.9l.2 2.3zM506 199.8l1.2 -2.4l-1.6 -.5l-.8 .1l-2.5 2.6zM181.9 262.1l-2.3 -1.4l-5.6 -.3l-.7 .6l-.5 3.4l4.6 2.3zM377.4 203.8l-1 1.1l3.7 3.2l3.1 -1.2l0 -1.5l-2.5 -2.8zM172.8 277.6l4.9 4.8l2.1 -2.3l-4.1 -4.5l-2.5 .9zM474.9 224.5l-.5 0l-2.9 2.1l.7 2.8l1.6 .4l2.7 -2.7l-1.5 -2.5zM29.3 165.4l0 0l-.3 -2.9l-2.4 -1.2l1.4 3.7l.4 .7zM319.4 295.4l-1.1 -5l-3.9 1.3l-.3 1.5l2.5 3.4zM516.7 204l-.8 1.6l2 2.2l1.9 .5l.6 -3.7l-.8 -1.5l-.2 -.1zM412.6 254.1l1.9 -.8l.1 -.6l-1.9 -2.9l-1.4 0l-1.4 2.3zM260.9 210.5l-.9 -3.2l-1 .1l-6.9 6.9l7.5 .9zM448.3 239.2l-1.3 -.1l-2.5 2.5l.4 1l2.7 .2zM40.9 177.7l.6 -.1l-1 -5.1l-4 2.5zM357.1 184.9l.1 .3l3.8 2.3l1.6 -.8l.3 -1.7l-4.9 -.3l-.4 -.2zM516.8 211.7l-2.2 -1.5l-.6 0l-.9 2.6l3.3 2.5l.4 0zM266.2 354l3.6 4.9l1.7 -.6l.2 -5.2zM383.1 241.6l-1.3 -4.5l-2.3 -.5l-2.8 2.3l1.1 3.3zM521.2 192.7l2.3 .1l1.8 -2.7l.3 -3.3l-4.6 -.7l0 6.4zM57.8 294.2l4.9 1.5l.9 -1.9l.2 -6.2l-1.1 -.3l-5.2 3.7zM423.7 258.4l.7 1l4.5 0l.3 -.2l.5 -5.7l-2.3 -.6l-3.9 3zM433.6 311.2l1.5 -4.5l-.4 -.5l-4.2 2.1l.3 1.5zM518.4 177.9l.8 -.7l0 0l-.2 -.2l0 0l-4 1l0 1.2zM76.7 320l-2.7 2.8l3.5 2.2l.8 -.9l-.3 -3.5l-.8 -.7zM57.8 158.4l.9 .5l8 -3.3l-.1 -.4l-8.9 0zM261.6 224.6l-2.2 1.2l-1.9 2.5l10.7 3.7l1.2 -2.2zM48.2 168.7l.2 .4l2.6 1.3l.8 -.3l.6 -2.6l-3.1 -.5zM339 216.8l-1.6 -5.7l-8.3 -.5l7.7 6.8zM433.3 231.3l2.3 2.1l1.9 -1l-1.3 -3.4zM197.9 321l10.3 -10.5l-8.9 -5.8l-7.5 5.6zM332.7 183.7l2.1 -.9l-5.3 -.3l-.3 0zM139.5 328.7l3.4 -4.9l-5.2 -13l-2.3 -1.2l-2.3 .7l0 15.7l2.6 2.1zM356.6 250.5l.3 .1l3.2 -2.4l-.3 -.4l-2.3 .2l-1.7 -1.5zM407 391.1l-3.5 -3.6l-.7 .1l-1.2 3.9l3.8 1.9zM504.3 223.3l2.9 -1.3l.4 -1.3l-2.6 -.8l-1.5 1.2zM42.9 204.8l-3.2 3.7l1.4 3.4l4.8 -1.1l-.5 -4.3zM469.1 211.6l1.6 2.1l1.5 -.1l1 -1.2l0 -3l-3.6 0zM464.2 213.1l-.2 -.1l-1.8 .2l-1.5 3.2l2.9 3.4l1.7 -1.3zM364.2 215.3l-.2 .7l0 3.6l1.8 -.6l-.1 -2.9zM322 169.7l1.6 -.4l-1.7 -.1zM525.6 186.8l.6 -.2l.5 -1.1l-.2 -4.8l-1.3 -1.3l-1.6 .5l-2.8 5.8l.2 .3l0 .1zM174.2 271.5l.1 -1.5l-5.1 -3.3l-1.9 .5l-1.1 4.6l5.4 1.4zM440.4 308.1l-5.3 -1.4l-1.5 4.5l1.5 2.5l3.2 -.5l2.8 -2.1l0 -.1zM463.6 219.8l-.2 1.4l1.2 1.5l2.1 1.2l.7 .1l2.7 -2.5l-3.2 -3.4l-1.6 .4zM492.7 209.1l-2.2 -2.3l-2.8 1.8l.9 2.9l.8 .5zM325.5 174.2l0 .4l2 -1.7zM334.3 334.2l1 -5.9l-3.8 1l-.3 1.5l2.2 4.1zM372.8 190.1l3.6 -.2l-2.2 -5l-4.1 .6l-.5 1.6l1 1.7zM516.2 200.5l-1 -.6l-.2 .1l-1.6 -.6l-1 .9l0 .3l.9 1.8l2.4 0zM484 250.8l-2.1 -1.9l-4.3 3.5l6.4 1.5l.3 -.7z"/>
<path fill="#b4c078" d="M38.4 179.3l-.1 4.6l3.3 -.9l.8 -4.4l-.4 -.8l-.5 -.2l-.6 .1zM351.8 225l-1.3 -5.1l-5.1 -.2l2.2 4.8zM473.6 208.9l5.4 -1.3l-.1 -1.6l-5 0zM296.7 350.1l6.9 4.8l2.9 -2.6l-2.7 -4.3l-3.2 -.3zM141.3 255.9l-2.4 -5.1l-8.2 5.3l-.2 5.5l2 3.5l7.9 -2.2zM92 324.2l-.7 -.6l0 0l-1.9 1.1l-1 2.5l3.8 .3zM395.3 219.5l.6 5.2l1.2 1.3l1.3 -.4l.2 -.3l-.6 -2.8zM416.9 343.4l-3.4 -.5l-2.5 1.1l2 3l4.4 .7zM341.5 277.6l-.6 .8l-.2 .6l2.8 2.1l4 -1.4l.7 -1l-.5 -1.9zM441.4 240.5l1.3 -.1l1.7 -3.7l-.2 -2l-4.6 1.7l-.4 .6zM478.2 241.3l1.7 -1.7l.5 -5l-.4 -.2l-3.7 2l1.1 4.5zM499.1 236.4l.2 -.2l.4 -4.9l-4.1 2.2l-.3 1.7l1.1 1.4zM512.4 200.6l0 -.3l-2.7 -1.2l-1.2 2.7l.3 .8l1.1 .4zM285.6 279.3l1.8 -4l-5.3 -2.1l-.1 0l-.5 1.3l.9 3.8l2.6 1.1zM363.5 250.4l-1.2 1.8l2 3.2l2.9 -.3l.3 -2.1l-2.6 -2.6zM506.6 204.7l-1.6 -2.1l-3.3 0l.2 4.3l3.1 2.2l1.4 0l.1 -.1zM494.4 212.4l-.6 -3l-1.1 -.3l-3.3 2.9l1.3 2.9l.8 .4zM354.2 315.8l.4 -.2l-.1 -5.5l-4 .2l-.5 1.1l1.1 4.6zM278.8 365.9l-1.8 -4.3l-2.1 -.8l-1.5 2.3l.2 2.4l5 .4zM394.7 353.1l-.4 -.2l-2.3 .1l-.3 .2l.1 3.4l3 .8zM507.3 225.6l-1 2.2l3 -1.8l-.5 -.8zM434.9 275.3l-3.2 -4.3l-.9 0l-.1 .1l-.2 4.7l1.5 .8l2.5 .1zM300.7 308.4l.1 .8l4.9 3.4l.1 0l.8 -1.9l-.6 -4l-.8 -.7l-3.9 1.5zM148.9 187.7l-.2 2.6l2.9 7.7l6.9 5l12.7 -13.2l-13.8 -6.6zM369.1 298.4l-1.3 0l-2.2 2.4l.8 1.4l3.6 1.4l1.4 -.7l0 -2.6zM452.3 225.3l1.4 -1.4l-.8 -2.5l-.5 .2l-.4 .4l-1.2 2.8zM43.3 248.6l1.9 -5.4l-.2 -2.7l-3.7 -.9l-5.7 7.3zM421.2 331.3l1.3 -1.2l-2.4 -4.6l-1.9 .4l-.1 4.6zM103.7 342.8l-4.8 -.5l-.4 .5l-1.2 3.3l1.3 1.8l8.4 -.3zM515 179.2l0 1.8l1.9 .5l1.5 -3.6zM458.7 222.6l4.7 -1.4l.2 -1.4l-2.9 -3.4l-2.8 .9l-.8 2.1zM525.3 210.9l-1.7 1.2l-.4 2.7l4.2 -.5l-.3 -2.9zM115.6 348.9l9.8 2.5l.4 -2.4l-3.7 -3.2zM384.4 195.8l3.1 -.2l1.3 -1.2l-.2 -2.7l-.7 .1l.1 .2l-.2 -.2l-2.8 .3l-1.4 1.1zM505 209.1l-.4 .3l-2 5.2l2.6 1.4l2 -2.7l-.8 -4.2zM47.5 195.5l-1.5 -4.2l-2.8 -1.8l-.2 .1l-.3 6.5zM366.4 271.7l2.3 3.5l.4 0l1.7 -3.4l-1.6 -1.5l-1.7 .1zM331.2 299.2l-3.1 1.6l2.8 4.8l1 .2l.1 -.1l1.5 -3.5l-1.1 -2.2zM171.2 189.8l-12.7 13.2l4.3 8.7l.4 .3l19.4 -3.9l-8.6 -19.2zM434.3 286.1l-.7 -1.1l-2.1 -.5l-2.2 1.8l1.3 3l1.2 .6l.8 -.2zM392.8 278.6l1.6 2.3l2.2 .4l2.1 -4.4l-2.6 -1.3l-1.7 .2zM105.5 187.9l3.9 -11.3l-2 -2.5l-12.4 2.3zM459.4 286.4l-4.5 1.5l-.2 1.9l3.2 .4l.1 -.2l2.2 -3.2zM284 343.9l-1.9 0l-1.2 3.1l.8 1.1l2.2 -.4l1.3 -1.1zM291.7 241l-.7 -1.9l-2.5 -2.7l-3.4 .5l-2.5 2.6l-.5 1.9l1.1 1.5l6.6 -.6zM444.8 254.8l-1.2 -1.6l-3.8 -.2l.1 3.3l3.2 1.7zM317.5 211.1l8.2 3.6l2.7 -4.5l-.1 -1.1l-2.4 -4.1l-3.4 -1.5l-2.2 1.2zM442.8 320.6l-2.5 -1.3l-.8 -.1l-.1 .1l-.9 2.5l2.6 2.4l2.1 -.5l.1 -2.3zM254.9 228.8l-4 -11.2l-.5 -.6l-5.3 11.1zM62.7 295.7l.1 2.4l5.3 -.1l2.4 -2.8l-6.9 -1.4zM360.1 196.4l-.7 -.1l-1.3 .8l-.9 2.4l.9 .3l2.9 -2.3zM513.4 207.4l1 -1.6l-1.4 -1.6l-2.3 .3l-1 2.5zM442.3 273.3l1.3 6.4l1.2 -.2l1.7 -3.3l-.6 -2.8zM484.2 245.3l-.2 -3.3l-.3 -.2l-4.7 1.9l2.2 3l.2 .1zM504.6 209.4l-5.4 3.2l1.4 2.5l2 -.5zM354.7 320.5l2.6 2.1l2.2 -1.2l.5 -1.9l-2.1 -3.8l-3.3 -.1l-.4 .2zM298.1 233.3l-.6 .6l-.7 6.3l1.5 .4l4.3 -3l-.2 -1l-3 -2.9zM508.4 247.8l-1.2 1.9l.8 .3l.4 -2.2zM76.3 261.2l-4.5 3.2l10.4 4.6l1.3 -3.4l-3 -4.2zM449.3 245.2l6 .8l.7 -.2l-.2 -1.2l-.6 -1.2l-2.4 -.7l-3.6 1.4zM130.5 261.6l.2 -5.5l-4.9 -1.8l-.2 .3l0 4.8zM473.4 238.9l1.6 -2.5l-2.1 -2.4l-1.9 .1l-.2 4zM354.3 183.6l2.8 1.3l.5 -.4l-2.8 -1.8zM399.1 395.3l-2.7 -2l-.4 2.7l1.1 2.1l2.1 -1.6zM60.7 216.5l-4.9 6.4l-.4 1l1.9 1.9l3.4 1.2l6.6 -7.9zM500 217.6l-3.4 .9l1 3.4l3.2 -.4l1.1 -1.2l-.8 -1.8zM255.6 344.3l4.9 .3l5.5 -3.4l-.5 -3l-3.1 -.9l-7.4 6.4zM268.9 279.5l-4 -.4l-1.7 4.5l.3 .5l.6 .2l4.5 -.9l1 -2.7zM291.4 296.3l-.2 .1l-1.2 2.9l1.6 3.9l3.6 -3.2l-.4 -2.3zM145.1 244.2l-2.2 -12.8l-7.1 5.4l-2.1 8.3l5 3.5zM50.9 301.4l.1 2l5.5 1.9l.3 -2.3l-1.3 -2.8zM310.5 264.8l1.2 3.9l.1 .2l1.9 .3l2.1 -2l-2 -4.5zM291.6 261.2l5.6 3.4l2 -2.1l.7 -2.7l-2.5 -1.9l-5.4 1.7zM447.2 308.5l.9 -1.1l-1.2 -1.2l-5 -1.1l-1 1.4l-.5 1.6l.7 2.9zM48 286l1.8 -1l.3 -.3l-.7 -3.3l-1.6 -.7l-2.5 1.2l-.2 2.1l2.4 1.9zM424.4 260.1l1.6 4l4.4 -.4l.1 -.1l-1.6 -4.2l-4.5 0zM297.4 256.5l2.6 -3.5l-.5 -1.4l-3.7 -.8l-1.3 .8l-.5 .8zM118.6 295.5l.4 -.5l-6.6 -18.7l-2 -.7l-.7 .3l-6.5 11.7l2.8 9.9l0 0zM268.1 414.9l.9 .1l-.3 -1l-.8 .5zM342.1 199.2l-6.2 .2l.7 6l3.8 1.5l.5 0l.4 -.8l1 -6zM478.5 232.4l.5 .4l2.2 -4.9l-1.5 -1.2l-3.1 .4zM503.8 245.4l1.8 -.4l1.4 -1.2l-3 -1.8l0 -.1zM110.6 263.9l-1.1 -2.8l-13.7 2.4l.9 9.3l13 3.1l.7 -.3zM99.6 230.1l-11.1 4.3l-2.6 4.1l0 .2l12.6 7l6 -12.9zM52.4 167.5l-.6 2.6l.4 .4l2.9 .6l1.1 -3.6l-.4 -.5l-2.7 -.3zM323.2 255.7l.7 6.4l2.5 -.4l3.4 -5.6l-.2 -.3zM303.5 331.5l-2.3 -.2l-.4 .3l-1.2 3.2l4.4 -.5zM113.5 159.5l.3 -1.2l-1.3 -3.1l-11.5 0l0 2.6l2.9 1.7l8.2 .5zM61.1 227.5l.9 7.8l6.2 3l1 -.8l-1.1 -9.1zM450.5 248.9l.1 .4l4.1 1.8l.7 -.6l.7 -4.3l0 -.3l-.1 -.1l-.7 .2zM353.5 273.7l2.8 .3l1.7 -3.2l-.8 -.8l-3.5 .7l-1.8 1.8zM508.5 201.8l-2.3 -1l-1.2 1.8l1.6 2.1l2.2 -2.1zM57.5 291l5.2 -3.7l-4.2 -3.5l-3.5 2l-.5 2l3 3.2zM249.7 215.3l2.4 -1l6.9 -6.9l-3.7 -1.6l-6.2 2.1l-3.1 4.9zM456.2 240.2l3.3 -.9l-2.2 -3.9l-2.2 1.2zM354.5 310.1l.1 5.5l3.3 .1l1 -1.2l-1.2 -5l-2.9 .2zM384.1 271.1l-1.4 3.1l3.7 1.5l1 -3.1zM395.1 363.4l-1.8 -2.4l-2.2 -.3l-.8 .6l.7 3.7l1.4 .7z"/>
<path fill="#b4c07e" d="M443.2 323.7l.8 .6l.9 .2l2.6 -1l-1.3 -3.1l-2.9 1zM41.2 155.2l-1.8 0l.4 4.3l2.3 -2.3l.1 -.8zM158.6 280.1l-4.4 -.2l-2.8 10.3l15.3 11.6l.3 -.2l-1.6 -16.6l-2.1 -2.2zM33.1 171.7l1.8 -3.5l-1.7 -2.7l-3.9 -.1l0 0l.8 3.3l.7 1.3l.1 .6zM471 234.1l-1.5 -.8l-3 2.3l1.9 3.3l1.1 .1l1.3 -.9zM440.9 261.4l.5 2.1l2.7 1.7l1 -5.7l-1.6 -.6zM312.8 230.4l1.9 -.5l3.8 -4.3l-2.8 -1.6l-6 2.6zM370.6 286.6l-1 1.2l.4 2l2.9 -.2l.1 -2.5zM508.4 247.8l-2.8 -2.8l-1.8 .4l-.9 .6l-.2 .4l1 2.2l3.5 1.1zM520.4 204.6l3.4 -.1l.6 -1.9l-2.5 -1.3l-2.3 1.8zM98.4 332.7l6.7 .7l2.8 -3.3l-.4 -1.2l-8.7 -1.6l-2.2 .6l-.1 2.2zM338.2 353.1l-.7 1.3l2.4 4.2l.6 .4l.6 -.2l1.1 -3.4l-.7 -1.2zM283.3 171l-4.3 2.7l2.2 7.2l.9 .2l4.7 -8.5zM466.6 208.2l2.9 1l.5 -3.2l-2 0l-1.6 .6zM391.7 242l-5.8 .9l-.7 .5l-.1 2.7l5.2 .8l2.2 -2.7zM461.8 247.8l4.6 -1.5l-.3 -1.9l-3.4 -1.7l-2.6 3zM375.1 238.7l.2 -.1l-1.3 -3.8l-5.4 .8l.4 1.1zM438 259.2l-.3 .1l-2.7 2.4l1.8 3.7l4.6 -1.9l-.5 -2.1zM217.3 177.7l4.3 -3.5l-8.9 -10.2l-6.4 1.2l-2.7 2.4l-.2 .7l6 7.5zM341.5 354.2l.7 1.2l2.8 -.4l.7 -2.3l-.4 -1.1l-2.8 .3zM40.4 227.8l-.1 -.5l-3.8 -3.3l-.5 -.1l-2.9 6.6l.3 1.2l3.9 2.4zM289.7 321.3l.6 -.9l-3 -3.7l-2.3 1.6l.3 3.4zM452.9 303.7l1.7 -.1l1.7 -2.1l-3.8 -2.3l-2.6 1.8l0 0l-.1 .2l.9 1.6zM493.1 239.2l-1.3 2.6l.8 1.1l1.6 0l1.1 -3.8l0 0zM46.5 268.1l-.7 1l.5 3.6l5.4 1l2.2 -1.8l-.2 -1.7zM262.6 205.4l6.5 -6.4l-1.1 -3.5l-.4 -.2l-7.3 5.4l1.5 4.8z"/>
<path fill="#b4c678" d="M289.5 232.9l-3 -2.7l-4.5 .3l-.2 .2l3.3 6.2l3.4 -.5zM314.5 330.7l2.7 -3.8l-4.1 -1.3l-2.2 3l2.9 2.4zM265 240.6l-4.4 3.4l2.1 3l2.4 .7l6.3 -4.1zM252.8 160.8l-1 1.3l3.9 4l4.4 -2.8l.2 -1.8l-.5 -.8zM267.2 334.8l-.8 2.5l7.1 .5l1.7 -3l.2 -1.3l-6.9 .5zM83.4 323.8l.3 2.2l1.3 2l3.1 -.5l.3 -.3l1 -2.5l-3.4 -2.6l-2.2 .4zM284.2 265.9l-1.5 -1.5l-.4 0l-3.2 3.1l0 3.5l2.7 1.7zM132.9 289.5l4.1 15l11.3 -8.6l.3 -2.2zM441.2 269.5l-.4 1.6l.2 1.6l.3 .3l1 .3l3.6 .1l.4 -.3l.9 -3.7l-2.9 -3zM272.4 179.3l7.4 2.2l1.4 -.6l-2.2 -7.2l-3 -1.2l-.5 0l-2.2 2.5zM337.8 186.5l5.7 4.1l.7 -7.1l-1.3 -2.2l-2.9 1.7l-3.2 -.2zM429.6 307.3l2.7 -5.2l-.3 -.5l-.1 -.2l-.5 .1l-3.9 2.2l-1.1 2.4l.1 .2l.5 .5zM438.8 283l2 1.3l.5 -.4l1.6 -3.9l-3.7 -2.2l-2 .5zM44.3 220.2l-7.8 3.8l3.8 3.3l7.8 -4.5l-1 -1.6zM317.4 188.6l-.6 -1.1l-6.7 -2.2l-2.8 1.9l2.5 2.4l6.2 2.4zM257.2 190.3l2.8 1.4l5.2 -4.3l-2.2 -2l-4.7 -.3zM324.5 338.4l2.1 -2.5l-4.3 -2.1l-2 3.5l.8 1.2zM521.8 216.9l-1 .3l-.7 2.1l0 0l2.8 -1.9zM301.4 328.2l1.8 -.5l-.2 -4.4l-2.1 .9l-1.1 3zM198.6 255.9l9 3.7l2.2 -1.4l3 -3.8l.5 -12.2l-6.6 -3.4l-6.1 7.1zM352.7 218.1l1 1.1l.3 -1.7l-.1 -.3zM416.3 244.6l-3.1 0l-.6 .9l1.4 3.1l1 -.2zM350.4 272.8l-2.4 -2l-2.6 -.4l-2 1.6l-.1 1l4.4 3.7zM53.3 245l2.8 -.2l1.1 -1.4l-.8 -5.8l-3 -1.7l-3.8 0l-2.6 3.4zM318.5 246.9l-3.2 1.4l-.3 1.5l4.9 4.1l.2 -.1l1.2 -4.6zM88.1 320.7l-2.1 1.4l3.4 2.6l1.9 -1.1zM292.2 274.5l1.3 -3.6l-1.4 -2l-4 -.7l-.3 2.2l1.4 4.1l2 .7zM283.8 224.3l-3.1 -1.6l-2 3.6l1.5 4.5l.1 0l1.5 -.1l.2 -.2zM453.5 312l3.5 2l1.5 -1.2l-.2 -2.2l-1.4 -2.7l-.1 0l-2.4 .6zM433.9 303.6l-1.6 -1.5l-2.7 5.2l.9 1l4.2 -2.1zM168.1 358l-3 2.6l6.9 .4l.5 -2.1zM224.3 197.7l5.5 1.3l4 -8.3l-2.1 -6.3l-8.4 5.8zM469.2 273l.2 0l.6 -1l1.7 -3.5l-3.3 .4l-.5 .4l0 0zM448.4 246.9l2.1 2l4.8 -2.9l-6 -.8zM469.5 209.2l.1 .2l3.6 0l.2 -.1l.2 -.4l.3 -2.9l-3.9 0zM378.2 189.3l4.1 2.6l.4 -2.8l-3.5 -1.3zM520.1 197.6l.9 -1.2l0 -.4l-1.4 1.7zM431.3 243.9l-1 3l2.4 2.1l2.5 -2.8l-.3 -.6zM274.4 242.9l5.2 6.9l2.3 1.1l1.9 -4.2l-.6 -3.8l-1.1 -1.5z"/>
<path fill="#bac678" d="M41.6 202.2l1 1.2l4.3 -1.2l-.9 -2l-3.5 -1.3zM71.2 218.5l.7 .3l5.1 -6.8l-5.2 -6.4l-4.6 -.1l-.7 3.1zM395.2 245.2l.5 -.7l0 -.2l-1.7 -.3l0 -3.7l-1.9 .8l-.4 .9l.8 2.2l2.7 1zM290.9 329.2l2.5 .5l.3 -.1l-1 -3.9l-3.2 -.7l-.8 .8zM94 344.3l.5 -2.5l-2.7 -.1l0 .2l1.2 2.4zM133.1 326l-9.5 .7l-1.4 3.9l5.1 3.7l3.6 0l.4 -.2l4.4 -6zM510.7 220.2l-1.7 -.6l-1.4 1.1l-.4 1.3l1.8 2.7l.4 -.3zM348 342.1l-.6 .3l-.3 .8l.6 3.1l3.6 -.2l.1 -3.9zM449.9 273.7l1.1 1.1l2.6 .9l.8 -.4l.2 -.3l.1 -4.1l-3.1 -1.9zM355.7 305.3l-1.5 2.3l.6 2.1l2.9 -.2l1.8 -1.6zM298 210.2l-1.8 -1.7l0 0l-4.5 2.7l.9 7.7l3.4 .3l3.1 -4.1zM381 255.6l-.2 -.6l-2.3 -2.3l-.7 .3l-1 5.9l0 .2l1.2 -.1zM285.7 223.8l1.5 -4.8l-2.3 -3.1l-3.8 2l-1.5 3l1.1 1.8l3.1 1.6zM133 182l-12.7 1.9l2.1 8.9l.2 .2l8.3 1.1zM299.4 233.7l3 2.9l3.6 -2.7l-1.1 -3.6zM271.7 225.8l.7 -.7l-1 -7.3l-1.6 -.6l-1.9 3.4l2.3 4.1zM274.9 236.8l4.8 -.3l.6 -5.7l-.1 0l-3.6 .6zM177.4 266.7l-4.6 -2.3l-3.6 2.3l5.1 3.3l3 -3.1zM346.8 203.2l.9 .1l1.1 -.8l0 -.1l-4.1 -4.2l-1.5 -.5l-1.1 1.5l.2 .9zM379.3 265.7l-3.6 -3.8l-2.6 4.1l.1 .6l6.1 .1zM469.2 273l-.8 .6l.1 .6l.9 -1.2zM260.9 210.5l-1.3 4.7l1 1.7l.3 .1l4.7 -3.2l-.1 -.2zM399 326.2l.6 -3.3l-3.4 -.6l-1.5 .9l0 .3l.9 1.7l2.4 1.4zM479 207.6l-5.4 1.3l-.2 .4l5.2 3l1.9 -2.2zM287.2 377l1.5 2l3.1 .3l1.2 -4.8l-.4 -.9l-3.4 .9l-1.9 2.1zM285 279.4l-2.6 -1.1l-3.5 3l.8 1.6l3 1.3zM479.9 239.6l3.2 .9l1.4 -3.5l-.5 -2.7l-3.6 .3zM85.6 254.2l-4.7 -6.6l-4.8 5.4l4.6 6.4zM49.8 293.3l.8 -1.9l-2 -1.9l-3.6 .7l.8 2.9zM62 198.7l-2.1 -4.3l-8.9 .9l-.6 .7l1.8 4.6zM261.6 224.6l7.8 5.2l1.9 -1.7l.4 -2.3l-1.5 -1.1l-7.3 -1.6zM432 276.6l-1.8 3.4l.6 2l4.1 -2.9l.4 -1.2l-.8 -1.2zM156.1 255.3l-4.5 -11l-6.5 -.1l-6.4 4.4l.2 2.2l2.4 5.1zM53.6 215.2l-4.3 -.8l-2.2 6.8l1 1.6l1.4 1.2l5.9 -.1l.4 -1zM369.4 194l.7 .5l.3 -.1l2.4 -1.6l0 -2.7l-2.2 -1.3zM63.2 254.7l-1.3 -1.9l-1.7 -.9l-.5 0l-2.6 5.8l.1 .5l3.4 2.5l1.5 -.4zM164.6 346.5l-7.1 -.7l-2.6 14.3l1.1 -.1l9.1 .6l3 -2.6zM349.3 229.9l-1.5 2.4l.7 1.7l3.1 2l.4 -.1l.3 -4.5zM101.3 299.9l4.7 -2.4l-2.8 -9.9l-11.3 -4.3l-3.2 2.9l-.1 4l3.4 6.7zM260 252.1l3.7 4.4l.6 .2l3.3 -2.3l-2.5 -6.7l-2.4 -.7zM456.9 307.9l1.4 2.7l.5 -.2l-.5 -3.8zM435.1 283l-.2 -3.9l-4.1 2.9l-.1 .3l.8 2.2l2.1 .5zM350.5 186.3l-6.3 -2.8l-.7 7.1l.2 .2l6.6 -3.3zM444.6 314.9l-4.3 4.4l2.5 1.3l2.6 -4.4l-.1 -.4zM446.2 320.4l1.3 3.1l.7 .1l2.2 -3.1l-.3 -.9l-3.2 -.5zM432.8 335.7l-2.6 2.4l.2 .4l3.1 -2.5zM336.9 297.7l-1.8 -3.3l-2.2 -.3l-2 1l.3 4.1l1.2 .8zM387.6 215.2l-1.6 .4l-1.2 3.2l1.3 1.9l1.7 -.1l2 -2.9zM61.6 271.4l.3 -3.1l-2.5 -2l-3.9 .6l-1.8 3.3l.2 1.7l3.4 2.8l1.4 -.2zM280 341l2.1 2.9l1.9 0l2 -3.5zM351.6 236l-2.9 4.1l4.4 3l.3 -.7l-1.4 -6.4l0 -.1zM148.8 360.5l1.2 .3l3.4 -.5zM58.7 159.1l2.8 5.2l2.4 .9l5.4 -6.2l-2.6 -3.4l-8 3.3zM206.1 235.3l8.5 -7l-7.5 -8l-6.5 8.7l.2 2.2zM398.3 298.4l0 .1l.3 3.5l3.3 0l1.2 -1.9l-2.7 -2.3zM343.2 197.7l.2 -4.4l0 -.1l-8 .7l-.7 4.4l1.2 1.1l6.2 -.2zM327.2 288.2l2.1 -1.7l0 -5.9l-3.3 -1.1l-3.9 5.8zM273.1 169.4l-.4 -2.8l-2.5 -2.8l-1.6 -.2l-3.6 4.6l1.5 3.8zM229.5 336.5l-1.2 5.3l3.9 6l.1 0l9.7 -6.8l-.3 -3.7l-10.2 -2.9zM382.3 191.9l-4.1 -2.6l-1.3 .8l.1 2l1.9 2.2l3.8 -1.6zM460.7 271.9l-.2 0l-.5 2l1.4 3l3.4 -1.2l.9 -2l-.8 -1.4zM351.7 209.9l-1.6 .7l-1.2 2.8l1 .7l2.3 -.6l-1.2 -2.5l.9 -1.1zM326.3 344.9l-1.2 -1.6l-2.5 .5l.5 7l.1 .1l.9 .3l.9 0zM48.9 299.1l1.9 -3.2l-1 -2.6l-4 -.2l.9 3.6l1.2 2.5zM362.8 270.2l.9 1.5l2.7 0l1.1 -1.3l-.8 -3.5l-2.6 .9zM35.3 192.9l3.6 -3.8l-1.3 -4.4l-4.9 .9l.2 2.1zM370.1 194.5l-.7 -.5l-2.1 .1l-1.6 .9l-.1 0l-.1 1.1l4.6 -1.5zM33.8 221.1l0 -.3l-2.3 -5l-.5 -.2l-.9 6.7zM265.7 353.9l-2.1 4.8l4.8 2.4l1.4 -2.2l-3.6 -4.9zM383.6 362.6l-.9 -.8l-3 1.3l-1 1.7l.7 .9l3.6 0zM392.4 221.7l1.7 -2.6l-1.5 -.5l-2.6 1.4l-1.5 .6l1.6 2.3zM414.4 303.2l1.9 4.5l.9 .2l.8 -.4l2.7 -6.1l-1.4 -1.5zM71.9 290.8l4.6 -5l-2.3 -2.7l-5.9 4.6zM311.5 198.7l2.1 -1.6l-3.8 -7.5l-2.5 -2.4l-2.4 .4l-.6 2.9l3.9 7.9l1.2 .9zM334.2 362l0 -2.6l-2.3 -3.2l-4.4 3l.8 2l4.7 1.1zM491.4 233.6l-.8 -2.1l-3 -1.7l-1 .2l-2.1 3.9l3.9 2.4l.8 -.1zM412.4 320.4l1.1 .1l2 -2.9l-3.1 -2l-.4 0l-1.7 3.2zM367 340.7l-3.2 -.2l-.7 2.2l1.7 1.2l2.3 -1zM302.1 199.9l6.1 -1.5l-3.9 -7.9l-5.1 5.5l-.1 1l.8 1.3zM54.9 162.1l-2.2 3.4l.4 1.2l2.7 .3l1.8 -2.8l-.7 -1.2zM492 216.1l-2.6 5.6l1.3 1.1l1.6 -.4l3.3 -4.1zM96.6 327.9l2.2 -.6l-1 -6.1l-1.8 .7l-1.2 2.6l1.7 3.3zM434.6 261.6l.4 .1l2.7 -2.4l-4.2 -5.3l-.9 4.7zM223.3 190.2l8.4 -5.8l1.2 -3.4l-8.8 -7.3l-2.5 .5l-4.3 3.5l-1.4 8.9zM195.2 223.6l5.5 -11.3l-8.3 -7.8l-9.5 3.7l2 16.3zM98 341.4l-2.4 -.5l0 0l-1.1 .9l-.5 2.5l.4 .3l4.1 -1.8l.4 -.5zM529.3 210.4l-2.2 1l.3 2.9l0 .1l.6 -.4l2 -.5zM241.7 337.3l1.3 -2.2l-.6 -9.2l-10.4 .1l-.7 .9l.2 7.5zM322.8 291.6l-4.4 -1.3l-.1 .1l1.1 5l2.7 1.5zM438.2 244.3l2.6 .7l.6 -.5l-.7 -3.2l-2.7 .9zM365.7 216.1l.1 2.9l1.3 .8l4 -3.3l-3 -4.9zM76.2 308.2l-6.8 2.8l0 .5l3.3 3.2l4.2 -.6l2.9 -3.2zM405.5 247.3l-1.3 2.5l.2 .8l2.7 1.4l.7 -3.3zM501.8 239.7l-1.4 -.8l-2.7 2.5l.3 1.2l2.9 .7zM405.5 269.4l-1.2 -.7l-1.4 -.1l-1.8 2l-.4 1.6l.2 .7l5 .9zM289.6 248.2l-1 -1.2l-4.8 -.3l-1.9 4.2l.3 1.1l6.1 1.4zM327.7 268.2l1.1 4.3l2.5 .9l1.5 -1.7l-1 -5l-1.2 -.2zM131.4 341.1l-.5 -6.8l-3.6 0l-.2 4.2l1.7 2.2zM276.9 186.2l-4.2 1l.2 5.6l1.8 .7l4.2 -4.2zM361 191.5l-1 -.6l-2.4 .8l1.8 4.6l.7 .1l2.2 -2.3zM435.9 323.3l1.2 4.5l1.9 -.4l2.1 -3.2l-2.6 -2.4zM293.7 358.8l-1.3 -5.4l-2 2.3l-.4 3.9zM82.3 310.6l1.5 -1l-4 -6.2l-4.4 .9l.8 3.9l3.6 2.7zM119.6 183.1l-13.7 5.9l-1.3 5.9l.6 2.1l17.2 -4.2l-2.1 -8.9zM503.8 245.4l.2 -3.5l-.6 -1.7l-1.4 -.5l-.2 0l-.9 3.6l2 2.7zM447.2 269.4l4 -.8l.7 -3.7l-7.6 .7l0 .8zM366.4 368.9l2.1 3l3.8 -1.1l-3.3 -5zM458.3 310.6l.2 2.2l0 0l.6 -.2l-.1 -.6l-.2 -1.6zM414.5 321.2l1.3 4.1l.7 0l1.7 -5.2zM210.1 268.8l-4.1 6.4l-1.5 12.9l.5 1.3l5.4 1.6l12 -17.5zM474.1 240.8l3.3 .1l-1.1 -4.5l-1.3 0l-1.6 2.5zM246 212.8l3.1 -4.9l.5 -8.1l-6.8 -2.6l-4.2 5.4l1.4 6.7l2.9 3.3zM181.8 157.5l-.6 -1.5l-15.4 7l-.3 1.3l2.5 8.6l8.7 3.5zM318.7 326.6l.8 -.8l.2 -.3l-.4 -2.1l-3.2 -1.2l-3.1 2.3l.1 1.1l4.1 1.3zM35.3 195.8l-.9 2.3l2.5 5l4.7 -.9l.9 -3.3l-.6 -2.1zM225.9 303.2l.7 -2.3l-12.9 -6.4l-4.6 16l.4 .2l9.9 -.5zM91.9 283.3l.9 -7l-10.1 -4.9l-2.4 7.7l2.8 5.3l5.6 1.8zM434.5 322.6l-3.6 3.4l.8 3l1.4 .5l3.9 -1.6l.1 -.1l-1.2 -4.5zM298.7 307.8l-2.5 1.3l-.3 2.1l2.6 1.4l2.3 -3.4l-.1 -.8zM55.4 279.5l-.9 .1l-2.6 5l3.1 1.2l3.5 -2l-.2 -1.1zM395.9 224.7l-.6 -5.2l-.4 -.8l-.8 .4l-1.7 2.6l1.1 2.7zM475.2 251.8l2.4 .6l0 0l4.3 -3.5l-.5 -2.1l-.2 -.1l-4.4 2l-1.6 3zM317.9 330.9l.9 -1l-.1 -3.3l-1.5 .3l-2.7 3.8zM268.7 307.5l-.3 1.8l1.3 2.5l5.3 .9l.5 -.1l.1 0l.1 -1.4l-.7 -1.6zM53 251.7l4.1 -1.7l-1 -5.2l-2.8 .2l-3 2.7l-.3 2zM385 192.1l2.8 -.3l-2.6 -1.7zM487.4 208.5l.3 .1l2.8 -1.8l.1 -.8l-4.9 0zM329.7 171.1l1.3 -1.1l2.6 -1.4l-2.6 .4l-2.1 .2zM381.1 246.2l3.3 .9l.7 -1l.1 -2.7l-2.1 -1.8l-5.3 .6l0 .3zM299.2 275.6l-.7 -2.8l-4.1 2.1l1.8 1.8zM122.1 345.8l.9 -2l-1 -3.5l-1.7 -2.1l-6.9 4.1l-1.6 5.7l3.8 .9zM371.5 227.4l.8 -.9l-3.3 -4.6l-.4 -.1l-3 5.3l.3 .4zM130.8 287.2l-11.8 7.8l-.4 .5l7.1 14.5l7.4 .3l2.3 -.7l1.6 -5.1l-4.1 -15zM471.5 226.6l-2.8 -.2l-.7 3.7l1 .9l3.2 -1.6zM310.2 321l2.8 3.5l3.1 -2.3l-1 -2.9zM496.5 244.4l1.5 -1.8l-.3 -1.2l-2.4 -2.3l-1.1 3.8l1.7 1.5z"/>
<path fill="#c0c678" d="M313.8 262.7l2 4.5l2 -.2l1.6 -4.8l-3.7 -2.4l-.7 .2zM350.5 198l-1.8 -3.5l-5.3 -1.2l-.2 4.4l1.5 .5zM395.1 347l1.3 -.8l.1 -.6l-3.7 -4.6l-2.8 4.2l1.7 2.4zM394 248.7l2.4 3.7l2.3 -5.7l-2.7 1.3l-1.5 -.8zM291.7 211.2l-2.3 .3l-4.3 3.4l-.2 1l2.3 3.1l4.2 .6l1.2 -.7zM450.1 319.6l.3 .9l2 1.2l2.2 -.4l-.9 -4.3l-3.3 1.8zM220.8 377.3l-.6 .3l.9 1.3l.9 -.9l2.7 -.9zM262.9 408.4l-3.1 -2.8l-4.6 -.9l0 .3l1.3 6.7l1.9 1.2zM261 367l-3.7 -3.2l-6 4.7l5.5 3.5l4.6 -.7zM267.8 387.8l.8 -4.3l-3.1 -1.1l-2.9 3.1zM106 297.5l0 0l-4.7 2.4l-3 7.8l10.8 11.3l3.9 -2.6zM471.6 264.7l-.2 .3l.4 3.5l1.2 -2.5l.2 -1.1zM306.8 245.8l1.1 .2l3.7 -2.4l1.4 -2.3l-.1 -1l-4.5 -2.5l-3.9 1.7l-.1 2.7zM515.9 222.1l.1 -.1l4.1 -2.7l0 0l-5.2 .4l-.8 .7zM181.2 155.2l-15.3 0l-1.9 3.2l1.8 4.6l15.4 -7zM426.5 278.6l1.1 -2.6l-1.9 -2.7l-.7 -.4l-.5 0l-3.3 4.8l-.2 1.6l.6 .8l2.4 1.1zM310.9 328.6l2.2 -3l-.1 -1.1l-2.8 -3.5l-1.1 -.5l-1.2 7.5l.1 .1l2.1 .6zM255.3 205.8l-2.8 -6.6l-2.9 .6l-.5 8.1zM382.7 274.2l-1.9 1.1l0 0l.8 2.1l4.7 1.5l.6 -1.5l-.5 -1.7zM136.7 340.5l1.8 5l6.3 3.7l7.6 -7.5l-.7 -2.4l-8.5 -3.5l-5.4 3.4zM429.3 268.5l-2.4 -.1l-1.9 4.5l.7 .4l5 -2.2l.1 -.1zM263.5 220.8l-.1 -.8l-2.5 -3l-.3 -.1l-3.4 2.9l2.2 6l2.2 -1.2l1.3 -1.5zM445.4 316.2l1.5 2.9l3.2 .5l.3 -.8l-1.2 -3.2l-3.9 .2zM418 307.5l-.8 .4l.8 4.1l.7 .3l1.7 -.7l1.5 -3zM37.6 184.7l.1 -.2l-4.6 -5.3l-.8 1.1l.2 1.4l.2 3.9zM298 281.8l2.9 -3l-.4 -1.9l-1.3 -1.3l-3 1.1l-.6 4.4zM354.2 368l2.5 .2l.1 -4.7l-4.9 2.3l0 .2zM457.1 219.4l.8 -2.1l-.9 -1.3l-3.1 3.7zM268.6 163.6l-1.6 -2.3l-6.7 .2l-.2 1.8l2.3 4.6l2.6 .3zM360.3 267.6l1.1 2.2l1.4 .4l1.3 -2.4l-2.2 -3.3l-.9 .2zM234.7 376.6l-.5 -9.7l-1 -1.3l-7.1 1l-5.3 10.7l3.9 -.2l3.3 -1.1l1.7 .8zM71.8 323.3l-.4 1.2l1.2 4l2.9 .8l1.3 -.1l.6 -1.1l.1 -3.1l-3.5 -2.2zM346.8 203.2l-5.5 2.9l-.4 .8l.9 .9l5.6 -1.7l.3 -2.8zM53.7 155.8l-2.4 -.6l-1.6 2.6l3.1 2.3l.8 -.2l.9 -1.4zM361.9 264.5l3.1 -3.1l-2.1 -2.3l-.8 -.2l-3.2 1.7l.5 3.4l0 .1l1.6 .6zM78.3 324.1l5.1 -.3l.4 -1.3l-.6 -1.1l-5.2 -.8zM286.6 346.5l2.5 3l2.3 -4.2l-.5 -.5l-3.6 .6zM274 318.2l2 .7l3.6 -3.6l-4 -2.7l-.1 0zM309 260.2l5 -.7l-2.8 -4.1l-1.6 -.4l-1.5 3.8zM185.6 288.6l7.2 5.6l8.3 -.9l3.9 -3.9l-.5 -1.3l-14.9 -8.4zM421.5 324.2l-1.4 1.3l2.4 4.6l3.3 -.3l-.3 -5l-.8 -1.2zM441.6 230.5l-.1 -.1l-2.8 2.1l.9 3.9l4.6 -1.7l.2 -.4zM463.6 250.6l1.9 2.8l2.5 -3.8l-.1 -1.7l-.6 -.4zM494.2 242.9l-1.6 0l-1.1 2.2l1.5 1.9l2.9 -2.6zM461.6 226.8l3 -4.1l-1.2 -1.5l-4.7 1.4l-.7 2.1l.1 .3l.1 .2zM265.1 247.7l2.5 6.7l.1 0l4.3 -3.6l.1 -7.2l-.7 0zM260 207.3l1.8 -1.8l-1.5 -4.8l-2.1 -2l-4.2 -.7l-1.5 1.2l2.8 6.6l3.7 1.6zM60.7 227l-3.4 -1.2l-3.9 10.1l3 1.7l5.6 -2.3l-.9 -7.8zM449.8 301.2l.1 -.2l-3.5 -2.6l-1.4 .7l-.3 1.3l3.3 1.5zM449.9 282.2l-.6 -2.5l-3.5 .4l1.1 3.2l1.6 .2zM495.6 233.5l-1.1 -3.1l-3.9 1.1l.8 2.1l1.4 1.2l2.5 .4zM353.1 243.1l.2 1.6l.7 .3l-.6 -2.6zM476.3 258.7l-.8 -.4l-3 1l-.9 2.1l.3 .7l1.8 .2l.3 -1.3l2.4 -1.6zM345.8 226.8l-2 .3l-1.5 2l2 2.7l3.5 .5l1.5 -2.4l.1 -.4zM434.9 279.1l.2 3.9l3.7 0l-1.6 -4.7l-1.9 -.4zM306.8 269l-1.2 -3.9l-2.2 .7l-.9 1.1l-.1 4.3l2.7 1.4l.3 0zM94.1 333.4l-2.3 2.5l.2 .2l2.9 1l2.3 -1.5l-.6 -1.8l-1.8 -.6zM116 218.5l-4.5 10.9l0 .9l4.6 4.1l9.8 -3.6l1.4 -1.3l3.1 -6.3zM335.3 328.3l1.2 -1.3l-6.4 -2.3l1.4 4.6zM424.6 283.6l-.3 3.8l2.8 1.1l2 -2.2zM437.2 289.7l-.2 -2.3l-2.7 -1.3l-1.7 3.6l2.1 1.4zM313 241.3l-1.4 2.3l3.7 4.7l3.2 -1.4l-.1 -3.6zM288.6 247l1 1.2l2.3 -.4l2.4 -3.1l-.9 -2.9l-1.7 -.8l-1.9 1.3zM322.1 233.5l4.7 -1.9l-1.4 -3.9l-3.9 1.4l-.8 2.7l.5 1.2zM519.2 177.2l0 0l.4 .6l4 2.1l1.6 -.5l.6 -2.1l-.7 -.4l-3.1 -.2l-2.6 .3zM362.7 326.8l-.3 .4l-.5 4.2l.3 .9l0 .1l4.3 -.1l-.5 -4.4zM260 252.1l-4.1 -.7l-1.4 7.3l3.6 .9l5.6 -3.1zM506 199.8l.2 1l2.3 1l1.2 -2.7l-.6 -1.1l-1.9 -.6zM309.8 171.6l-5.1 -1.8l-2 3.9l.8 2.6l4.3 .1l1.9 -1.3zM33.1 230.5l2.9 -6.6l-2.2 -2.8l-3.7 1.2l-.1 .7l-1.2 5.1zM526.5 180.7l.2 4.8l2.1 -1.2l0 -3.7zM301.5 248.1l1.7 -.2l3.6 -2.1l-2.4 -3.6l-4.3 .6l-.9 3.4zM331.8 249.3l.1 -.8l-2.1 -2.5l-4.5 -.6l-1.6 2.4l2.6 3.8l3.7 0zM305.2 306l.8 .7l3.4 -1.2l1.4 -2.8l-.7 -.8l-5.4 .9l-.2 .2zM48.5 178.4l-2 2.2l0 4.5l4.8 1.1l2.8 -2.2l-1.2 -3.3zM398.4 225.6l-1.3 .4l-.6 1l.8 3.2l.5 .6l.9 -4.8zM216.5 204.1l0 -.4l-4.6 -5.3l-15.4 -2.7l-4.1 8.8l8.3 7.8l5.8 2l3.2 -1.4zM329.1 210.6l8.3 .5l3 -4.2l-3.8 -1.5l-8.3 3.7l.1 1.1zM337.9 274.4l-.2 -.1l-5.5 2.2l4 1.8l1.8 -2.7zM452.4 227.3l-.1 -2l-1.5 -.5l-.8 1.9l-2.9 0l.3 1l3.5 1.3zM165.4 285l10.4 1.4l.6 -.3l1.3 -3.7l-4.9 -4.8l-9.5 5.2zM312 166.1l-1.4 5l4.2 1.4l.3 -.1l.7 -2.4l-.6 -2.1l-2.7 -2.1zM317.9 255.5l2 -1.6l-4.9 -4.1l-1.7 1.1l0 2.5zM528.6 195.7l.4 .4l-.1 -2.1zM355.6 257.2l.7 -.6l-.5 -5.5l-1.4 .2l-1.7 2.1l2.7 3.8zM337.2 229.3l5.1 -.2l1.5 -2l-1.3 -5.5l-4.8 3.7l-1.1 3.3zM46.5 185.1l-.5 .2l-2.8 4.2l2.8 1.8l5.3 -1.3l.2 -.4l-.2 -3.4zM446.2 320.4l.7 -1.3l-1.5 -2.9l-2.6 4.4l.5 .8zM454.7 289.8l-1.1 1.2l0 .2l2.9 2.3l.3 0l1.1 -3.3zM404.9 243.5l-2.3 1.2l-.5 1.3l3.2 .6l1.3 -2.2l-.1 -.4zM98 338.4l0 3l.9 .9l4.8 .5l.8 -8.2l-5.4 1.9zM266.3 173l1.2 6.1l2.9 1.5l2 -1.3l.9 -4.3l-6.8 -2.5zM392.1 233.6l-.3 .7l3.4 3l2.1 -4.4zM526.7 185.5l-.5 1.1l2.7 1.5l-.1 -3.8zM377.6 302.1l.9 3l.2 .1l4.6 -4l.1 -.3l-.1 -.1l-2.8 -.4zM367.4 281l3 -.1l1.4 -2.4l-.7 -1.9l-2 -1.4l-.4 0l-2.7 1.6l1 3.9zM349 202.7l1.1 1.6l1.1 -1.4zM307.9 328l1.2 -7.5l-.4 -.3l-4.6 .8l-.1 0l-.5 1.8zM381.9 201.2l4.7 .9l-4.1 -2.1l-.2 -.1zM311.2 255.4l2.1 -2l0 -2.5l-4.2 -1.3l-1.2 3.8l1.7 1.6zM423.3 338.6l3.8 -2.5l-.1 -1.5l-5.9 .2l-.9 1.2l2.4 2.5zM453.7 281.7l-1.6 -3.1l-2.4 .7l-.4 .4l.6 2.5l2.8 .7zM420.3 239.9l1 -.1l-.3 -3l-2.3 .9zM289.3 169l-3.2 -3.5l-3.6 1.9l.8 3.6l3.5 1.6l1.9 -.1zM304.8 162.9l-.9 2.9l.7 1.1l7.4 -.8l.5 -.3l-4.7 -3.7zM79.5 330.9l4.6 3.4l.8 -4l-.2 -.9zM285.3 301.6l-5 -3.5l-1 2.3l1.6 3.4l3.9 -.8l.5 -1.1zM380.8 275.3l-2.6 .5l-1.5 4.6l.8 1.2l2.3 0l1.8 -4.2zM434.8 295.2l1.7 .3l2.3 -4.3l-1.6 -1.5l-2.5 1.4l-.5 3.1z"/>
<path fill="#c0cc72" d="M356.3 330.9l1.8 -1.2l0 -2.7l-2.2 -1.6l-.7 .3l-1.7 3.6zM47.5 285.9l-2.4 -1.9l-2 .7l.5 3.9l.6 .6zM452.1 278.6l1.5 -2.9l-2.6 -.9l-2.3 2.1l1 2.4zM449.4 252.7l.1 .2l2.5 .7l2 -.5l.7 -2l-4.1 -1.8zM310.8 281.6l-.6 .1l-1.5 1.1l-.1 1.2l1.1 1.7l4.4 -.7l.6 -.7l0 0zM68.7 266.6l.4 .1l2 -2.2l-1.5 -7.7l-.3 0l-6 3.6zM302.4 271.2l.1 -4.3l-4.7 .4l-.1 2.9l1.1 1.3zM270.2 224.7l-2.3 -4.1l-4.4 .2l-.6 2.3zM336.8 324.8l.1 2.1l.3 .1l3.2 -1.1l1.2 -1.9l-1.8 -1.8zM524.3 205.9l3.1 .6l1.3 -.3l.5 -3.8l-.9 -.9l-1.2 -.3l-2.7 1.4l-.6 1.9zM366.8 287.2l2.8 .6l1 -1.2l-.4 -1.8l-2.9 .2zM508.2 209.6l5.7 .4l-.5 -2.6l-3.7 -.4l-3 2zM366.4 302.2l-1.1 3.4l3.7 .4l1 -2.4zM352.1 183.8l-2.2 -4.7l-4.6 .8l-2.4 1.4l1.3 2.2l6.3 2.8zM361.9 331.4l.5 -4.2l-4.3 -.2l0 2.7zM333.7 258.3l-3.9 -2.2l-3.4 5.6l1.8 .6l5.9 -1.9zM55.8 167l.4 .5l7.1 4.2l.6 -6.5l-2.4 -.9l-3.9 -.1zM231.7 184.4l2.1 6.3l8.6 4.7l.3 -7.6l-9.4 -6.9l-.4 .1zM292.6 363.3l3 5.7l0 -.1l2.9 -6.2l-2.3 -1.6zM410.8 291.9l.8 -5.1l-3.1 -.6l-.5 .2l-1.5 2.3zM418.1 415.4l.5 -2.7l-1.3 1.5zM78.4 159.1l3.3 2.3l11 -2.1l2.5 -2.4l-1.1 -1.7l-14.3 0zM396.5 227l.6 -1l-1.2 -1.3l-2.4 -.3l-1.4 2.3l.3 1.4zM320.7 315l-2 -2.1l-4.8 2.4l1.8 2.8l3.6 -.5zM326.4 358.5l-3.9 .5l-2.7 3l.9 1.2l6.8 -.2l.8 -1.8l-.8 -2zM74.6 160.4l-2 20.2l1.7 1l10.6 -.4l4.1 -4.2l-7.3 -15.6l-3.3 -2.3zM255 174.5l1 -3.1l-6.7 -2.7l-4.7 5.4zM366.5 295.6l-2.4 -.2l-2 2l1.3 3.1l2.2 .3l2.2 -2.4zM345.9 296.2l-1.5 -.5l-2.7 1.8l-.1 2.1l1.2 .5l3.4 -.6l-.3 -3.3zM379.9 216.9l0 -1.2l-.8 -.8l-5 2.3l.7 2.7zM369.6 344.1l2 1.9l2.8 -4.4l-.8 -1.1l-1.9 -.2zM387.2 234l-1.7 -3.1l-.1 0l-2.3 .8l-.5 4.3zM391.1 262.3l2.8 -2.6l-1.8 -4l-3.9 3.4l2.1 3.2zM329.8 256.1l3.9 2.2l2.8 -3.8l-4.7 -5.2l-1.8 2.3l-.4 4.2zM449.4 238.7l-.7 -3.4l-2.3 -1.6l-2 .6l-.2 .4l.2 2l2.6 2.4l1.3 .1zM274.3 268.1l.8 -.9l.3 -4.6l-2.4 -1.2l-4.1 2.3l-.7 4.8zM438.8 291.2l1.8 .1l1.3 -4.4l-1.2 -2.1l-3.7 2.6l.2 2.3zM373.7 286.6l-.7 .5l-.1 2.5l.4 .4l5.6 -.3l-.3 -.4zM282 273.2l.1 0l5.7 -2.8l.3 -2.2l-1 -1.6l-2.9 -.7l-2.4 6.8zM211.9 198.4l4.6 5.3l7.8 -6l-1 -7.5l-7.4 -3.6l-.5 .3zM317.2 236.6l5.4 4.6l.4 0l1.7 -2.6l-2.6 -5.1l-.9 -.5zM446.9 306.2l1.2 1.2l.9 -.1l1.7 -4.5l-.9 -1.6l-1.8 .7l-1.2 1.4zM321.5 229.1l-1.9 -3.7l-1.1 .2l-3.8 4.3l6 1.9zM45.2 168.5l-1.6 -2.5l-1.4 0l-1.9 4.3l0 .2l.6 .7l1.7 .1l2.3 -1.8zM505.2 216.9l0 -.9l-2.6 -1.4l-2 .5l-.6 2.5l1.1 .9z"/>
<path fill="#c0cc78" d="M432.6 239l1 -2.4l-2 -2.6l-2.8 -.1l-.6 .7l3.2 5.3zM352.1 226.3l-2.7 3.2l-.1 .4l3 1.5l.2 -3.9l.1 -.4zM343.7 190.8l-.2 -.2l-5.7 -4.1l-3.3 5.8l.9 1.6l8 -.7zM132.1 194.9l-1.2 -.8l-8.3 -1.1l-1.8 11.5l1.3 1.4l11.2 -1.8zM305.2 306l-.7 -3l-4.3 -1.4l-.8 .5l1.9 5.4zM466.5 235.6l3 -2.3l-.5 -2.3l-1 -.9l-4.1 0l-1.2 4.2l.8 1.2zM408.6 245l1.5 1.9l2.5 -1.4l.6 -.9l-1.5 -2.4l-.1 0zM319 280.6l2.5 4.7l.6 0l3.9 -5.8l-.4 -.4l-6.5 1.4zM122 340.3l5.1 -1.8l.2 -4.2l-5.1 -3.7l-1.7 1.2l-.2 6.4zM210 328.6l-1.4 -2.3l-10.6 -3.2l-4.5 4.7l-4.5 12.9l1.6 1.1l17.9 1zM290.3 196l-2.1 -3.1l-6.1 1.4l-1.4 3.2l7.5 .8l1.1 -.7zM478.7 243.5l.3 .2l4.7 -1.9l-.6 -1.3l-3.2 -.9l-1.7 1.7zM177 273.2l2.6 -.6l.2 -1.7l-2.5 -4l-3 3.1l-.1 1.5zM409.2 410.3l-3.5 2.1l2.6 2.9l2.4 -2l.2 -1.4zM244.2 253l3.8 2.1l6.3 -5.5l-.7 -3.3l-.2 -.1l-10.1 3.4zM452 238.6l1.9 -2.1l-1.7 -2.4l-3.5 1.2l.7 3.4l1.1 .5zM436.8 265.4l-1.8 -3.7l-.4 -.1l-4.1 2l-.1 .1l.5 2.3l4.2 1.7l1.7 -1.8zM120.2 264.6l-9.6 -.7l-.2 11.7l2 .7l6.1 -.7l3.3 -9.8zM474.4 224.5l-4.2 -3l-.1 0l-2.7 2.5l1.3 2.4l2.8 .2zM350.9 356.8l1.2 4.3l1.5 -.3l1.1 -2.5l-3.5 -1.7zM406.7 315.3l-.6 -.3l-1.7 1.3l.7 3.1l.7 .6l2.9 -1.3zM307.9 253.4l1.2 -3.8l-1.2 -3.6l-1.1 -.2l-3.6 2.1l1.6 6.3zM182.8 341.3l-3 -1.4l-5.2 .8l-10 5.8l3.5 11.5l4.4 .9l.5 -1.9l5.7 -.4zM51.3 186.2l.2 3.4l8.4 3.1l2.5 -8.3l-8.3 -.4zM353 205.7l-1.6 2.1l.3 2.1l.2 0l2.5 -3l-1.2 -1.3zM462.7 242.7l3.4 1.7l.9 -1.1l.4 -3.3l-4.8 -1l-.8 1.1zM92 336.1l.1 2.6l3.5 2.2l0 0l-.5 -3.5l-.2 -.3zM413.2 394.7l-.1 -.3l-3.6 -2.3l-.7 4.7l3.8 -1.2zM231.6 200.7l-1.8 -1.7l-5.5 -1.3l-7.8 6l0 .4l9.7 8zM405.3 246.6l-3.2 -.6l-1.4 .5l1 2.3l2.5 1l1.3 -2.5zM385.5 372l-.1 -1.5l-2.1 -2.4l-1.7 .9l.2 2.3l3.5 .9zM461.1 277.8l-3 1.7l-.3 .9l3.7 2.3l2.2 -1.8zM491.4 233.6l-2.2 2.6l2.3 1.4l1.3 -2.8zM50.4 196l.6 -.7l.3 -5.3l-5.3 1.3l1.5 4.2l1.4 .5zM452.9 303.7l-2.2 -.9l-1.7 4.5l1.9 .9l1.6 -.3zM412.2 332.6l2.3 5.1l1 .4l1.7 -.1l1.4 -1.6l-2.7 -4.4zM148.9 155.2l-17 0l.4 8.9l14.5 -.7zM459.4 257.8l-3.4 2.8l5 4.7l2.1 -.4l.8 -1.1l-3.6 -5.7z"/>
<path fill="#c6cc72" d="M467.9 269.3l0 0l-4.4 -2.9l0 1l1.6 4.1zM401.3 381.9l-4.1 -.7l-.4 .2l.1 .6l3.1 5l1.8 0zM387.6 210.4l1.6 2.4l3.1 -.9l-1.3 -4.4l-1.4 -2l-1.8 1.9zM297.2 264.6l-5.6 -3.4l-.1 .2l-.5 1l2.3 4.7l3.8 -1.2zM310.8 302.7l-1.4 2.8l2.2 2.9l1.7 -2.5l-1.8 -3.2zM376.9 198.4l.2 -.5l-1 -.7l-1.1 1.8l-.7 .9zM365.8 188.5l-3.2 -1.8l-1.6 .8l-1 3.4l1 .6l3.3 -.8zM309.3 334.2l.8 -5.5l-2.1 -.6l-1.9 1.2l-.3 .5l1.4 4.9l1 .3zM29.3 165.4l-.9 .3l1.7 3zM491.6 238.3l-3.2 2l-.3 .6l.2 .4l3.5 .5l1.3 -2.6zM250.6 236.8l-5.4 1.7l8.2 7.7l.2 .1l3.5 -3.2l-.1 -.4zM485.2 216.6l-1 4.7l2.2 1l2.9 -.7l-2.6 -5l-.9 -.2zM528.6 195.7l-3.2 .5l-.3 .5l.2 2l1.8 2.5l1.2 .3l.9 -2.9l-.2 -.3l0 -2.2zM420.9 264.2l3.8 2.1l.3 -.1l1 -2.1l-1.6 -4zM371.2 229.9l1.1 1.5l.5 .1l3.4 -2.6l.1 -2.8l-4 .4l-.8 .9zM59.9 194.4l0 -1.7l-8.4 -3.1l-.2 .4l-.3 5.3zM382.1 268.7l1.5 1.1l3.9 -1.8l-.9 -2.9l-1.2 -.5l-.3 0zM161.9 175.7l-14.1 -10.3l-3 16.2l4.1 6.1l8.5 -4.5zM320.7 231.8l-6 -1.9l-1.9 .5l-.2 .9l2.1 5.7l2.5 -.4l4 -3.6zM433.9 315.1l1.2 -1.4l-1.5 -2.5l-2.8 -1.4l-1.6 1.5l.6 3zM359.4 196.3l-1.8 -4.6l-.9 -.1l-1.8 3.6l3.2 1.9zM378.8 294.5l-.3 4.1l2 1.8l2.8 .4l-4.2 -6.9zM402.1 329l4.2 -.9l.1 -.7l-1.5 -3.1l-2.2 .9l-1.1 1.6zM402.5 364.7l-1.4 -2.4l-1.8 -.3l-1.1 .9l.9 5.4l2.6 -.6zM365.4 317.2l-3 -4.1l-3.5 1.4l-1 1.2l2.1 3.8l4.9 -1.4zM418.6 247.6l-2.2 -3.1l-.1 .1l-1.3 3.8l.9 .6zM292.6 373.6l1.7 -3.7l-4.8 -2.1l-3.3 .5l-.2 .4l3.2 5.8zM393 368.6l-.6 -2.9l-1.4 -.7l-3.2 1.7l1.7 2zM373 361.2l-1.1 2.6l2.8 2.8l3.8 -1.8l-4.4 -3.7zM95 346.7l-.6 -2.1l-.4 -.3l-1 0l.3 .7l.7 3l.3 0zM396.1 275.6l2.6 1.3l1.6 -.6l.6 -3.4l-.2 -.7l-3.9 -.1zM461.8 249.3l-2.2 .8l-.9 2l.6 1.3l2 -.7l1.2 -2.4zM400.2 375.7l-.3 .1l-2.7 5.4l4.1 .7l2.6 -1.5l0 -1.2zM40.6 277.9l.1 -.5l-1.2 -1.6l-4 .2l2.9 5.7zM67.1 251.2l-.3 -7.4l-1.5 .6l-5.1 7.5l1.7 .9zM374.7 220.1l.1 -.2l-.7 -2.7l-.3 -.4l-2.7 -.3l-4 3.3l1.5 2l.4 .1zM286.7 163.9l3.7 -.7l-.2 -3.4l-3.5 -.8l-1.7 2.4zM302.4 236.6l.2 1l1.9 1.9l3.9 -1.7l-.5 -3l-1.9 -.9zM296.2 361.1l2.3 1.6l2.2 -.4l1.5 -4.8l-4.8 -1.8l-2 3.7zM261.4 371.3l-4.6 .7l-1.6 4.6l1.5 1.8l3.6 -.1l1.9 -4l-.1 -2.3zM51.3 155.2l2.4 .6l.4 -.6l-2.8 0zM441.1 311.1l3.2 3.1l4 -2.3l-1.1 -3.4l-6.1 2.5zM292.4 353.4l.6 -1.3l-3.6 -1.5l-2.9 1.6l-1.3 1.7l1.3 1.2l3.9 .6zM43.2 177l3.8 -1l-.8 -2.5l-2 -.6zM449.5 256.8l-.8 -2.7l-2.6 1l.8 3.4l.9 -.1zM311.7 309.2l-.1 -.8l-2.2 -2.9l-3.4 1.2l.6 4zM293.7 329.6l1.1 .3l2.2 -3.3l-1.2 -3.1l-3.1 2.2zM320.7 363.2l-.9 -1.2l-.7 -.1l-.3 .2l-2 2.3l-.6 4.9l.3 .3l5.6 -3.1zM345.4 270.4l2.6 .4l0 -4.2l-1 -.3l-1.8 2.5zM426.9 243l-4.5 -2l-.2 2.2l.6 1.2l3.3 1.3zM317 303l1.2 -1.9l-2 -2.6l-2.4 .1l-1.3 3.7zM336.9 370.3l-.7 1.1l1.5 4.3l2.3 -1.7l.4 -.1l-.8 -2zM414.9 308.3l1.4 -.6l-1.9 -4.5l-1.5 -.1l-.4 .2l-.4 4zM350.1 258.9l-1.5 -3.4l-1.7 -.8l-1.4 .3l-1.8 5.4zM355.5 262.8l-4.6 -2.8l-.4 1.2l.7 4.4l3.1 .6l.3 -.1l1 -2.9zM86.6 308.9l.6 -7.6l-5.7 -1.9l-1.7 4l4 6.2zM258.8 235.2l-2.7 -4.3l-5.5 5.9l6.4 5.9zM137.9 210.9l.1 -2.3l-4.7 -4.5l-11.2 1.8l.2 3.8l11.1 8.9zM72.5 294.4l2.2 4l5.9 -.2l1 -4.1l-3.3 -2.3l-5.5 1.1zM146.8 163.4l1 1.9l17.7 -1l.3 -1.3l-1.8 -4.6l-6.3 -3.2l-8.8 0zM297.4 355.7l-1.8 -4.5l-2.6 .9l-.6 1.3l1.3 5.4l1.7 .6zM284.8 322.3l.5 -.6l-.3 -3.4l-3.6 -.3l-1.1 3.7l.5 .5zM475 236.4l1.3 0l3.7 -2l-1 -1.6l-.5 -.4l-4.2 -.2l-1.4 1.8zM411.4 325.4l-1.5 3.4l2 3.5l.1 .1l1.9 -6.2zM426.9 320.2l3.4 -1.4l-2.6 -2.9l-1.6 1l-.2 .6zM458.1 225l-2.7 3.1l.3 1.8l3.2 .2l0 0l-.7 -4.9zM471.4 265l-3.7 0l.7 3.9l3.3 -.4l.1 0zM435.3 243.1l-4.2 -2.7l-.4 .4l.6 3.1l3.6 1.7zM282.8 181.6l.9 6.8l4.7 1l1.2 -.9l-3.7 -6.9zM265.4 405.1l.3 1.1l1.6 .1l.4 -3.5zM41.6 202.2l-4.7 .9l-.6 2.7l3.4 2.7l3.2 -3.7l-.3 -1.4zM288.7 379l-1.5 -2l-3.4 1.9l1.1 3.9l.4 .1l3 -1.2zM422.5 303.8l3.9 2.3l1.1 -2.4l-2.8 -3.1l-3.8 .9zM323.5 330.1l-4 -4.3l-.8 .8l.1 3.3l3.4 1.8zM517.9 200l1.5 3l.2 .1l2.3 -1.8l-.1 -1.6l-1.7 -2.1l-.5 .1l-.6 .6l-.4 .2zM53.6 159.9l-.8 .2l-2.7 2.4l0 .5l2.6 2.5l2.2 -3.4zM514 210.2l-.1 -.2l-5.7 -.4l4.1 3.5l.8 -.3zM365.6 227.1l-1.4 -.3l.5 3.8l1.5 -1.4l-.3 -1.7zM366.9 347.3l1.6 -3.2l-1.4 -1.2l-2.3 1l0 2.5l1 1.2zM374 234.8l.4 -1l-1.6 -2.3l-.5 -.1l-3.8 4l.1 .2zM514.6 210.2l2.2 1.5l3.1 -1.6l.2 -.4l-.1 -1.2l-.2 -.2l-1.9 -.5zM465.1 255l-.4 .8l1.4 3l2 .1l.8 -1.2l-.6 -2.7l-2.8 -.3zM294.4 193l4.8 3l5.1 -5.5l.6 -2.9l-1.4 -1.1l-9.3 2.5zM168 172.9l-2.5 -8.6l-17.7 1l0 .1l14.1 10.3zM379.2 342.6l-2.7 .2l-2.3 6.2l0 0l2.5 .2l3.4 -3.3zM486.6 230l1 -.2l3 -3.7l.1 -3.3l-1.3 -1.1l-.1 -.1l-2.9 .7l-1.1 4.8l.3 1.7zM281.9 250.9l-2.3 -1.1l-6.2 1.6l2.9 4.1l3.4 .4l.9 -.9l1.6 -3zM395.5 363.6l.8 5l1.2 .6l.8 -.3l.8 -.6l-.9 -5.4zM396.3 368.6l-3 .2l-.7 2.6l2.1 3.3l1.8 -.6l1 -4.9zM95.6 309.7l-5.1 1.3l-.4 5.2l.1 .5l1.9 1.7l3.4 -.5l1.4 -3.6zM347 249.5l3.1 -1.5l.3 -1.1l-7 -5.8l-.8 -.1l-1.1 .1l.5 6.8zM407.6 359.8l1.2 3.5l0 0l.2 -1.3l.8 -2.2zM376.8 259.1l0 -.2l-3.9 -5.2l-3.3 4.2l-.1 1.2l1.4 .7l4.7 .6zM396.9 382l-.1 -.6l-3 -.5l-.1 .3l2.3 2.8l.2 1.4zM238.6 202.6l4.2 -5.4l0 -1.1l-.4 -.7l-8.6 -4.7l-4 8.3l1.8 1.7zM33.8 220.8l0 .3l2.2 2.8l.5 .1l7.8 -3.8l-4.2 -4.9zM296.9 161.8l-.1 3l7.1 1l.9 -2.9l-.5 -2.5l-1.8 -.4l-3.6 -.9zM346 288.2l-.2 -.3l-3.4 -1l-3.7 4.4l0 .3l1.3 1.6l3.1 .5zM363.7 337.2l-.8 1.6l.9 1.7l3.2 .2l.6 -.8l-.7 -2.9zM437 287.4l3.7 -2.6l.1 -.5l-2 -1.3l-3.7 0l-1.5 2l.7 1.1zM352.1 226.3l.2 -.8l-.5 -.5l-4.2 -.5l-1.8 2.3l3.6 2.7zM44.3 161.9l-.5 -.5l-.1 .1l-2.8 2.2l0 1l1.3 1.3l1.4 0l.4 -.5zM408.7 318.7l-2.9 1.3l-.7 3l.2 .6l3.4 -.2l.9 -4.5zM184.5 225.6l.4 -1.1l-2 -16.3l-.3 -.1l-19.4 3.9l.4 9.3l14.8 7.4zM435.3 269.7l-.4 -.5l-3.2 1.8l3.2 4.3l1.2 -1.6zM270.1 331.1l5.4 -.2l-.1 -1.9l-4.6 -2.9l-2 2.6zM461.3 252.7l-2 .7l-.7 2.4l.8 2l.9 .3l4.4 -2.3l.4 -.8zM401.3 316.3l.1 -.1l.5 -4.3l-4.8 .2l-1.1 2.5zM267.9 414.5l.8 -.5l-1.5 -4.5l-2 .2l.1 4zM250.9 260.2l-2.5 5.7l8.6 1.5l2.4 -2.8l-1.3 -5l-3.6 -.9zM292.1 288.8l0 -.2l-.7 -1.5l-3.2 -1.5l-.8 1.7l3 3.6zM323 195.5l5.6 .3l.8 -3.7l-3.6 -.4l-3.1 2.7z"/>
<path fill="#cccc6c" d="M345.4 219.7l5.1 .2l1.8 -1.7l-2.4 -4.1l-1 -.7l-.8 .2l-4.7 4.9l.1 .2zM355.5 303.6l-4 -1.1l-.4 2.8l.4 .7l2.7 1.6l1.5 -2.3zM421.5 324.2l3.2 -.6l0 -.1l-2 -4.6l-2.9 -1.2l-.4 .3l-.4 1.4zM309.3 334.2l-1.1 .8l.4 2.1l1.8 1.5l3.2 -3.8zM212.8 254.4l-3 3.8l20.1 4l1.1 -1.7l-2.2 -12zM268.1 233.4l.1 -1.4l-10.7 -3.7l-1.4 1.1l0 1.5l2.7 4.3l5.7 1.1zM474.4 250.6l.8 1.1l1.6 -3l-.5 -3.5l-2 -.3l-1.1 1.4zM384 328.5l2.4 -1.4l-.4 -3.4l-1.8 .6l-1 3.5zM328.6 195.8l-5.6 -.3l-1.1 6.3l.6 1.7l3.4 1.5l4.6 -5.6zM367.2 327.4l-1.2 .5l.5 4.4l1.9 .8l3.1 -2.7l.1 -1.6zM351.3 356.4l.3 -3.6l-2.8 -.3l-.6 .5l.4 2.7l1.8 1.1l.5 0l.3 -.2zM279.9 165.3l-3.9 7.2l3 1.2l4.3 -2.7l-.8 -3.6zM363.4 300.5l-1.3 -3.1l-.8 -.2l-3.8 2.7l.3 .8l4 1.4zM295.2 300l4 2.1l.2 0l.8 -.5l.9 -3.5l-4.8 -1.9l-1.5 1.5zM220.3 318.6l.4 .4l10.2 -1.7l.2 -.3l-5.2 -13.8l-6.5 7zM464.8 275.7l-3.4 1.2l-.3 .9l2.6 3.1l.3 .1l2 -3l.3 -.5zM315 249.8l.3 -1.5l-3.7 -4.7l-3.7 2.4l1.2 3.6l4.2 1.3zM332.4 224.2l1.7 -4.3l-9.4 -1.4l-.4 .6l2.7 4.9zM235.5 164.5l3.6 2.2l7.1 -4.7l-1.6 -4.8l-2.3 -2l-6.2 0zM304.8 254.2l-1.6 -6.3l-1.7 .2l-2 3.5l.5 1.4l4 1.9zM359.4 264l-3.8 -.8l-1 2.9l2.1 .9l2.7 -2.9zM404.2 307.8l0 1.1l3.8 0l1.5 -1.2l-1 -3.2zM469 247.7l-1.1 .2l.1 1.7l3.3 4l.1 0l3.5 -1.4l.3 -.4l0 -.1l-.8 -1.1zM385.4 264.6l.4 -4.6l-2.9 0l-1.5 .9l0 2l3.7 1.7zM364 281.2l3 -.5l-1 -3.9l-2.3 -.4l-2.1 3zM344.8 335.2l1 -.8l-1.2 -3.5l-1.9 -1.1l-2.9 1.8l-.2 .5l.3 .4zM303.8 348l2.7 4.3l1 .2l1.6 -.8l1.1 -5.6l-2.7 -1.8l-2 1.2zM242.9 212.6l-2.9 -3.3l-13.4 3.4l-.8 9.3l10.5 1.9zM493.7 249.8l.6 1.5l1.7 -1.3l3.4 -1.1l0 -1l-1.2 -.5zM357.5 299.9l3.8 -2.7l-2.5 -2.8l-1.8 .2l-1 3.8zM519.5 216.1l.4 -6l-3.1 1.6l0 3.6zM383.8 214.3l-.6 -2.3l-3.6 -1.3l-1.6 1.4l1.1 2.8l.8 .8zM375.9 299.8l-1.7 -1.4l-2.8 1.9l0 2.6l1.9 1.2l2.9 -2.8zM353.3 196.8l-2.1 1.5l2.9 3.3l2.6 -1.4l.2 -.5zM289.5 232.9l1.1 -.7l1.9 -3.7l-4.2 -2.6l-.1 0l-1.7 4.3zM217.2 377.6l-4.3 -7.4l-9.3 4.5l.2 .9l.2 .4l6 6l3.2 1.1zM50.5 175l1.2 -.1l.7 -1.1l-.2 -3.3l-.4 -.4l-.8 .3l-1.9 1.8zM400.8 392.2l.8 -.7l1.2 -3.9l-1 -.6l-1.8 0l-3.2 1.7l0 0l.2 1.3l-.1 .9zM71.2 218.5l-3.9 .6l-6.6 7.9l.4 .5l7 .9l6.3 -5.6l-2.5 -4zM346.4 361.9l4.1 1.2l1.6 -2l-1.2 -4.3l-.5 0l-4.2 4.3zM399.7 343l.7 -.1l1 -1.4l.7 -2.4l-.5 -2.5l-2.7 .4l-1.4 2.8zM323.7 247.8l1.6 -2.4l-2.3 -4.2l-.4 0l-4.2 2.1l.1 3.6l2.8 2.3zM490.7 214.9l-4 1.7l2.6 5l.1 .1l2.6 -5.6l-.5 -.8zM314.4 179.5l4.4 -4.5l-3.7 -2.6l-.3 .1l-2 3.2zM349.9 179.1l.9 -2.4l-.3 -1l-4.5 3.8l-.7 .4zM362.2 287.3l2.1 1.8l2.5 -1.9l.5 -2.2l-.5 -1l-3.3 .3l-1.5 1.6zM217.2 377.6l-4 5.5l2.8 .9l5.1 -5.1l-.9 -1.3zM64.2 305.5l4.5 3.6l4.2 -6.6l-3.9 -.9l-4.6 2.1zM452.7 258.7l2.6 -4l-1.3 -1.6l-2 .5l0 4.2zM402.9 286l-5 -.4l-1.1 1.9l3 3.3l3.7 -.4l1 -1.3zM373.3 304.1l.9 1.7l.6 .4l3.7 -1.1l-.9 -3l-1.4 -.8zM427.5 303.7l3.9 -2.2l-5.2 -2.2l-1.5 1.3zM303.5 258.2l4.6 .6l1.5 -3.8l-1.7 -1.6l-3.1 .8l-.8 .7zM300.4 370.7l2.7 -.5l-.5 -3.3l-4.2 2.3zM65.9 278.1l.6 -2.9l-4.9 -3.8l-2.9 3.1l3.6 3.6zM233.3 364.6l-6.6 -11.1l-12.9 1.2l-1.2 3.7l0 .9l13.5 7.3l7.1 -1zM68.3 287.7l5.9 -4.6l-.5 -3.6l-6.4 .7l-1.5 6.6zM500.2 207.2l-2 2.8l.6 2.4l.4 .2l5.4 -3.2l.4 -.3l-3.1 -2.2zM429.5 241l-2.6 2l-.8 2.7l.1 .4l1.8 1.3l2.3 -.5l1 -3l-.6 -3.1zM403.3 310.7l1.9 1.9l3.8 -.9l-1 -2.8l-3.8 0l-.8 1.2zM343.3 273l.1 -1l-4.1 -4.7l-.2 -.1l.6 6.5l1.9 .3zM523.6 212.1l1.7 -1.2l-.1 -1.1l-2.1 -2.1l-3.1 .8l.1 1.2zM309.1 320.5l1.1 .5l4.9 -1.7l.6 -1.2l-1.8 -2.8l-1.4 -.8l-3.1 1.2l-.7 4.5zM322.5 380.2l-.8 -2.2l-4.9 .4l-.4 .8l5.4 2.7zM373.5 246.1l1.8 -.3l.2 -.7l-3 -3.8l-3.3 .7zM116.5 155.2l-4 0l1.3 3.1zM313.3 305.9l4 .3l-.3 -3.2l-4.5 -.7l-1 .4zM285.6 279.3l-.6 .1l-2.3 4.8l.8 .9l4.2 -1.7l.9 -1.6z"/>
<path fill="#cccc72" d="M371.8 247.3l-.1 .6l2 3.8l2.6 -4.2l0 -.2l-1 -1.5l-1.8 .3zM155.8 309.6l-7.5 -13.7l-11.3 8.6l-1.6 5.1l2.3 1.2l13.8 .6zM339.8 321.9l.9 -2.3l-.3 -.3l-3.8 -1.2l.6 2.9zM272.9 192.8l-4.9 2.7l1.1 3.5l5.4 4.8l1.4 -.2l2.8 -1.9l1.1 -3.5l-5.1 -4.7zM300.9 290l-2.9 .9l3.5 3.3l1.1 .4l.3 -.3l.1 -2.1zM135.3 180l-7.2 -12.8l-4.1 .1l-5.2 12.4l.8 3.4l.7 .8l12.7 -1.9zM90.5 330.8l-.8 1.7l.6 2.8l1.5 .6l2.3 -2.5l-1.4 -3.7zM174.3 238.6l-15.4 -5.9l-.9 4.1l8.8 13.7l2.6 -.8zM294.8 311.5l-5.8 -1.6l-.3 .1l-1.2 1.8l.2 .6l4.5 2.9l2 -1zM325.5 174.2l-3.6 -2.2l-2.4 3l2 3.5l3.5 -3.5l.5 -.4zM377.4 203.8l3.3 -1.2l.2 -.5l-2.4 -4.1l-.7 -.3l-.7 .2l-.2 .5zM326.7 290.1l.5 -1.9l-5.1 -2.9l-.6 0l-2.7 2.5l-.4 2.5l4.4 1.3zM384.1 329.4l3.3 3.4l1.9 -1.4l.6 -3.8l-3.5 -.5l-2.4 1.4zM343.5 281.1l-1.3 5.5l.2 .3l3.4 1l1.6 -2.4l.1 -5.8zM309.2 273.8l-3.7 -1.1l-.2 6.2l3.6 -.9l1.4 -1.8l-.1 -1.3zM299.6 374.9l-.7 -.3l-3.5 1.9l.6 2.5l4 -1l.4 0zM221.2 228.4l3.7 -5.9l-15.2 -9.6l-3.2 1.4l.6 6l7.5 8zM406.7 242.9l-.2 1.1l.1 .4l2 .6l3 -2.8l-1.7 -.8l-2.1 .9zM278 155.2l-5.6 0l2.2 4.7l.5 0l3 -2zM462.1 213.1l.1 .1l1.8 -.2l1.7 -4.2l-2.7 -.9l-1.3 .5zM44.4 263l2.4 1.3l3.1 -2l-.6 -5.2l-4.9 .9l-.9 1.6zM489.2 236.2l-.8 .1l0 4l3.2 -2l-.1 -.7zM403.1 300.1l1.4 -.2l1.2 -2.3l-1.4 -2.8l-2.9 1.2l-1 1.8zM311.5 210.9l-2.8 1l-.9 3.5l5.7 3.8l1.1 -.2l0 -6.6zM404.4 250.6l-1.8 2l2.4 2.8l2.2 -3.2l-.1 -.2zM280.7 203l2.6 4.7l3.5 .2l1 -4.4zM238.6 202.6l-7 -1.9l-5.4 11.4l.4 .6l13.4 -3.4zM212.6 359.3l0 .1l.3 10.8l4.3 7.4l3 0l.6 -.3l5.3 -10.7zM411.9 298l-1.4 -4.3l-3.5 3.9l2.4 1.7zM364.9 250.4l2.6 2.6l2.6 -1.2l-.9 -2.4l-1.4 -.8zM137.7 310.8l5.2 13l5.3 -.6l3.3 -11.8zM340.8 249.8l-.3 3.7l5 1.5l1.4 -.3l.1 -5.2l-5 -1.6zM377.5 281.6l-.8 -1.2l-2.7 -1.6l-2.2 -.3l-1.4 2.4l.8 1.9l3.1 1.3l2.1 -.9zM281.4 326.4l1.3 5.9l.7 0l3.2 -3.7l.3 -2.1l-.8 -.4zM48.3 176.9l-1.3 -.9l-3.8 1l-1.2 .8l.4 .8l4.1 2l2 -2.2zM444.3 265.6l-.1 -.3l-.1 -.1l-2.7 -1.7l-4.6 1.9l0 .5l4.4 3.6l3.1 -3.1zM257.5 170.8l-1 .1l-.5 .5l-1 3.1l.7 4.5l.3 .4l5.1 -1l1.4 -3.9zM299.1 197l-3.4 1.9l-1.7 3.9l0 2.3l2.2 3.4l0 0l.8 -.9l2.9 -9.3zM270.5 296.4l1.6 3.6l.3 .3l6.1 -3.5l-3.4 -4.1l-3.7 1.6zM268 195.5l4.9 -2.7l-.2 -5.6l-2.6 -2l-4.5 2.3l2 7.8l0 0zM387.7 316.3l-3.2 -2.6l-.5 0l-2.5 2.1l.4 1.2l5.1 2.8zM264.5 408.5l.7 1.2l2 -.2l-.2 -.5l.3 -2.7l-1.6 -.1zM361.8 302.1l-4 -1.4l-1.1 2.2l4.6 3.2zM95.2 156.9l5.8 .9l0 -2.6l-6.9 0zM364.4 359.9l1.1 2l4.4 -3.2l-1 -1.7l-1 -.5l-2 .2zM250 186.5l1.2 3.5l2.8 1.7l3.2 -1.4l1.1 -5.2l-2.3 -3.1zM133.7 245.1l2.1 -8.3l-8.5 -7.3l-1.4 1.3l4.7 14zM337.2 311.2l-1.5 -1.9l-2.3 1.2l-1.1 3.2l4.9 -.7zM371.2 282.8l-1 2l.4 1.8l2.4 .5l.7 -.5l.6 -2.5zM383.3 368.1l.3 -1.6l-.6 -.8l-3.6 0l-.1 2.3l2.3 1zM437 327.9l-3.9 1.6l.2 1.1l2.9 3.3l2.6 -1.6zM336.3 228.6l.3 0l1.1 -3.3l-2.1 -6.2l-1.5 .8l-1.7 4.3zM33.4 231.7l-3.4 2.6l-.6 2.2l.3 1.5l4.4 1.1l4.2 -2.6l-.2 -1.3l-.8 -1.1zM369.5 259.1l-3.5 2.5l1.3 3l4.4 .3l-.8 -5.1zM470.1 221.5l.1 0l1.8 -2.8l-.2 -1l-2.2 -1.7l-1.4 .1l-1.3 2zM456.5 297.9l-.1 -.4l-2.3 -.9l-1 .7l-.6 1.9l3.8 2.3l.4 -.2zM454.1 296.4l2.4 -2.9l-2.9 -2.3l-.7 2.5zM275.7 311.2l-.1 1.4l4 2.7l.5 .1l2.9 -2.8l-3.8 -2.9zM325.7 329.4l1.3 -4.6l-7.3 .7l-.2 .3l4 4.3zM493.7 249.8l-.7 -.6l-1.2 .2l-2.8 3.4l.7 1l2.3 -.8l2.3 -1.7zM206.1 235.3l.6 3.5l6.6 3.4l10.5 -3.5l-2.6 -10.3l-6.6 -.1zM166.8 250.5l-8.8 -13.7l-6.4 7.5l4.5 11l2.9 2.1l1.6 -.2l.2 -.1zM420.2 342.1l-1.6 -.5l-1.7 1.8l.5 4.3l.5 .4l.1 -.1l2.8 -2.1zM414.5 270.2l-2.3 -4.1l-.9 -.1l-.9 .5l-.8 2l2.5 2.9l1.9 -.2zM304 321l-4.4 -.9l-2.5 2.9l3.8 1.2l2.1 -.9l.5 -.5zM414.9 239.4l2.6 1.8l2.8 -1.3l-1.6 -2.2l-.7 .3l-3.1 1.3zM266.2 290.7l-3.5 6.8l.2 .4l7.6 -1.5l.9 -2.1l-3.9 -4.3zM92.8 276.3l3.9 -3.5l-.9 -9.3l-2.8 -3l-9.5 5.1l-1.3 3.4l0 1.6l.5 .8zM315 260l.7 -.2l2.2 -4.3l-4.6 -2.1l-2.1 2l2.8 4.1zM506.7 209l3 -2l1 -2.5l-.8 -1.5l-1.1 -.4l-2.2 2.1l-.1 4.3zM341.1 358.8l4.5 1.6l.3 -4.5l-.9 -.9l-2.8 .4zM276.3 327.9l4.8 -1.7l-.3 -4l-.5 -.5l-2.7 0l-1.3 1.3zM293.4 241.8l3.4 -1.6l.7 -6.3l-1.8 .2l-4.7 5l.7 1.9zM273.4 302.7l-4.7 4.7l0 .1l6.3 2.1l1.3 -4.3l-.9 -1.7zM410 247.9l.1 -1l-1.5 -1.9l-2 -.6l-1.3 2.2l.2 .7l2.3 1.4zM431.2 297.4l-1.6 -3.9l-2.8 .9l-.6 1.6l.3 .7zM309.7 175.1l-1.9 1.3l3.9 6.1l2.6 -2.2l.1 -.8l-1.6 -3.8zM115.4 238.9l-9.6 10.2l3.9 5l7.7 -7l.6 -2.3zM319.5 175l2.4 -3l-.1 -1.8l-6 -.2l-.7 2.4l3.7 2.6zM77 212l1.6 -.5l3.9 -9.9l-4.1 -1.1l-6.6 5.1zM445.5 294.7l3.7 -1l.4 -3l-4 -.5l-2.2 3.2l0 .4zM47.1 204.8l-1.7 1.7l.5 4.3l2.5 .9l.9 -.9l-.3 -5.3zM383.2 205.4l0 1.5l0 .1l4.6 .4l1.8 -1.9l-2.1 -3l-.5 -.2zM80.7 259.4l-4.6 -6.4l-2.5 1.1l2.7 7.1l4.2 .2zM406.7 258.8l1.4 1.4l.9 -.3l2.8 -3.5l-.1 -.2l-2.4 -.8l-2.7 2.6zM392.1 230.8l-.4 -1.1l-6.2 1.2l1.7 3.1l2.2 1.6l2.4 -1.3l.3 -.7zM381.5 357.1l-.5 1.2l0 .2l1.6 2.1l2.2 -1.5l0 -1.7zM122.4 192.8l-17.2 4.2l-.6 6.4l1.4 1l14.8 .1l1.8 -11.5zM453.7 281.7l3.5 -.4l.6 -.9l.3 -.9l-3.7 -4.2l-.8 .4l-1.5 2.9zM68.1 228.4l1.1 9.1l10.4 -2.9l-3.3 -10.6l-1.9 -1.2zM460 273.9l-5.4 1.1l-.2 .3l3.7 4.2l3 -1.7l.3 -.9zM175.2 238.2l9.7 5.2l6.1 -7.4l-6.5 -10.4l-6.1 3.1zM364.7 230.6l.3 1.9l.4 2.8l2.5 -.3l-.4 -4l-1.3 -1.8zM525.3 198.7l-.2 -2l-4.1 -.3l-.9 1.2l1.7 2.1zM492.6 242.9l-.8 -1.1l-3.5 -.5l.2 3.4l.1 .1l2.9 .3zM305.7 299.5l-1 3.3l5.4 -.9l-1.3 -4.6zM31.7 176l.6 4.3l.8 -1.1l.4 -1.7l-.3 -1.5zM280.6 255l-.9 .9l-.7 5.9l3.3 2.6l.4 0l2.4 -4.1l0 -1zM255.5 307.1l3.5 2.2l6.7 -4l-.5 -2.5l-2.3 -3.9l-8.4 6.5zM264.5 236.3l-5.7 -1.1l-1.8 7.5l.1 .4l3.5 .9l4.4 -3.4zM267.6 195.3l-6.6 -1.6l-2.8 5l2.1 2l7.3 -5.4zM333.1 335.7l-1.7 1.1l.1 3.8l2.9 2.2l.7 -.4l.7 -1.7l-2.4 -4.7zM80.9 247.6l0 -.2l-12 -3.4l4.4 10.1l.3 0l2.5 -1.1zM122.3 209.7l-6.4 8.5l.1 .3l14.4 4.7l2.6 -1.9l.4 -2.7zM374.4 233.8l3.7 -1.2l-1.9 -3.7l-3.4 2.6zM442.9 329l.4 .6l.1 0l2.6 -1.6l.6 -.5l-1.7 -3l-.9 -.2zM54.5 158.5l-.9 1.4l1.3 2.2l2 .9l1.8 -3.9l0 -.2l-.9 -.5zM430.9 266l-.5 -2.3l-4.4 .4l-1 2.1l1.9 2.2l2.4 .1zM57.6 164.2l3.9 .1l-2.8 -5.2l-1.8 3.9zM349.7 368.4l.1 2l1.4 .5l2.5 -.4l.5 -2.5l-2.3 -2zM492.3 222.4l4.7 2.3l.6 -2.8l-1 -3.4l-.5 -.2l-.5 0zM488 240.9l-3.5 -3.9l-1.4 3.5l.6 1.3l.3 .2zM174.3 238.6l.9 -.4l3.2 -9.5l-14.8 -7.4l-5 10.3l.3 1.1zM424.7 323.6l.8 1.2l4.3 .3l.2 -3l-3.3 -.7l-2 2.1zM361.9 343.2l-2.9 -3.5l-1.7 1l-.1 3l.9 1l3.4 -.8zM271.7 353.1l-.2 5.2l3.2 1.2l1.4 -2.1l-1.9 -6.1l0 -.1zM125.8 254.3l-.1 -5.8l-5.8 2.4l-1.7 2l4.1 2.7l3.3 -1zM311.5 362.3l.1 -.5l-3.7 -2.2l-.6 .3l-.9 2.8l1 1.9l1.5 0zM41.9 196.8l.6 2.1l3.5 1.3l2.9 -4.2l-1.4 -.5l-4.8 .6zM411.2 325.2l-.5 -.1l-4.3 2.3l-.1 .7l.5 .7l3.1 0l1.5 -3.4zM352.7 218.1l-.4 .1l-1.8 1.7l1.3 5.1l.5 .5l.5 -.1l.9 -6.2zM279 382.3l0 0l1.4 -2.9l-2.5 -2.6l-3.7 2.7l.1 .7zM386.1 220.7l-.3 2.1l3.8 1.1l.5 -1l-1.6 -2.3l-1 .4l.3 -.4zM312.7 206.8l-1.2 4.1l3.1 1.5l1.2 -.2l1.7 -1.1l2.8 -6.4l-4.2 .2zM358.9 271l2.5 -1.2l-1.1 -2.2l-3.1 .2l0 2.2l.8 .8zM282.9 291.9l-.3 .1l-1.4 4.6l5.3 -.4l.1 -2.5zM318.4 290.3l.4 -2.5l-4.1 -3.5l-.6 .7l-1.4 5.3l1.7 1.4l3.9 -1.3zM368.1 211.5l.9 -.6l.7 -1.1l-.4 -3.3l-1.2 -.5l-2.1 1.5l-.6 2.6zM256.1 229.4l-1.2 -.6l-9.8 -.7l-3.5 1.2l3.5 9.2l.1 0l5.4 -1.7l5.5 -5.9zM361.6 307.2l1.1 .6l2.6 -2.2l1.1 -3.4l-.8 -1.4l-2.2 -.3l-1.6 1.6l-.5 4zM336.2 289.6l-3.1 1.6l-.2 2.9l2.2 .3l3.6 -2.8l0 -.3zM120.5 331.8l-10.4 -.4l3.3 10.9l6.9 -4.1zM414.7 287.8l1.2 -3.8l-2 -1.6l-1 .4l-.9 3.8zM278.7 289.5l-2.1 -.3l-.2 0l-1.3 3.5l3.4 4.1l1.7 .9l1 -1.1l1.4 -4.6zM507.2 222l-2.9 1.3l-.2 .7l3.2 1.6l1.5 -.4l.2 -.5zM92.2 327.5l-3.8 -.3l-.3 .3l2.4 3.3l2.2 -1.1l.7 -1.1zM90 212.8l4.3 -5.1l-8.1 -6.9l-3.7 .8l-3.9 9.9l6.3 3zM62.3 278.1l-3.6 -3.6l-1.4 .2l-1.9 4.8l2.9 3.2zM424.7 323.5l2 -2.1l.2 -1.2l-1 -2.7l-3.2 1.4zM52.4 173.8l-.7 1.1l2.3 2.5l0 0l2.3 -4.1zM407.2 252.2l-2.2 3.2l0 .5l1.6 2.1l2.7 -2.6l-.6 -2.8zM280.9 347l1.2 -3.1l-2.1 -2.9l-.4 -.2l-1.9 1.3l-.4 1.1l.5 2.2zM300.8 309.2l-2.3 3.4l.9 2.3l3 .3l3.3 -2.6zM275.1 159.9l-.5 0l-4.4 3.9l2.5 2.8l6.9 -1.7zM322.7 303l-.5 4.5l1.9 1.1l1.8 -.3l1.2 -1.7l-.7 -4.1zM383.1 241.6l2.1 1.8l.7 -.5l1.8 -5l-5.7 -.9l-.2 .1zM267.1 269.2l-.9 4.1l2.5 2l4.6 -.9l.1 -.2l-5.3 -5.6zM336.2 278.3l-4 -1.8l-.2 0l-2.3 3.8l4.7 1.4l2.2 -.9l.7 -.8zM418.8 297.2l-6.5 -5l-1.3 .1l-.5 1.2l0 .2l1.4 4.3l.1 .1l6.7 -.6zM331.4 230.1l-2.2 2.5l.2 1.1l7.6 4.4l.2 0l0 -8.8l-.6 -.7l-.3 0zM447.4 227.7l-.3 -1l-5.1 0l-.9 2.5l.4 1.2l.1 .1l5.4 -2.1zM374.4 208.3l1.4 -3.2l-.6 -.5l-4.3 -.5l-.5 .3l-1.1 2.1l.4 3.3zM381.5 219.9l-1.6 -3l-5.1 3l-.1 .2l2.7 3.6l2.4 -.9l.7 -.7zM465.7 208.8l.9 -.6l-.2 -1.6l-3.4 1.3zM458.9 230.1l.1 3.8l3.7 .4l1.2 -4.2l-.6 -.9l-.1 0l-4.3 .9zM313.5 219.2l-5.7 -3.8l-3 3.2l.1 2.2l3.6 4.9zM470.9 242.8l-.1 3.5l2.4 0l1.1 -1.4l-1.3 -2.5l-1.9 .2z"/>
<path fill="#ccd26c" d="M401.7 367.7l-2.6 .6l-.8 .6l3.4 4.5l1.5 -2.1l-.5 -2.8zM510.7 204.5l2.3 -.3l.3 -1.8l-.9 -1.8l-2.5 2.4zM34.2 253.5l1 -6.4l-2.2 -1.7l-2.4 -.5l.2 1.8l-.7 6.8zM284.8 288l-1.3 -2l-4.8 3.5l3.9 2.5l.3 -.1l1.8 -2.5zM94.4 344.6l.6 2.1l2.3 -.6l1.2 -3.3zM335.5 371.8l.7 -.4l.7 -1.1l.1 -1.3l-.5 -.8l-4.8 -.7l-1.3 1.3l.9 2.2zM265.6 213.8l-4.7 3.2l2.5 3l4 -4.2zM289 309.9l5.8 1.6l1.1 -.3l.3 -2.1l-2.1 -3.1l-2.6 -.6zM286.5 296.3l0 -.1l-5.3 .4l-1 1.1l.1 .4l5 3.5l1.4 -2.1zM427.7 315.9l2.6 2.9l2.5 .7l.6 -1.1l.5 -3.3l-4.1 -.8l-2 1.3zM48.6 289.5l-.6 -3.5l-.5 -.1l-3.3 3.3l.8 .8l0 .2zM38.2 165.5l-.8 -1.3l-.4 .3l-3 -.3l-.8 1.3l1.7 2.7l2.5 -.3z"/>
<path fill="#d2d26c" d="M350.9 260l4.6 2.8l1.9 -2.7l-1.8 -2.9l-.2 0l-4.5 2.5zM374 213.9l2.5 -2.1l-2.1 -3.5l-4.7 1.5l-.7 1.1zM354.4 251.3l-4.2 -3l.5 5.3l2 -.2zM370.1 185.5l-.1 0l-7.1 -.5l-.3 1.7l3.2 1.8l1.2 0l2.6 -1.4zM414.2 416.1l.2 1.7l3.6 -1.8l.1 -.6l-.8 -1.2l-.9 .1zM260 191.7l-2.8 -1.4l-3.2 1.4l0 6.3l4.2 .7l2.8 -5zM375 370.1l-2.5 .8l-.3 3.5l2.8 1.4l1 -1.2l.4 -3.8zM453.1 297.3l1 -.7l0 -.2l-1.2 -2.7l-2.9 1.1l.1 .8zM370.3 308.5l-.8 -.4l-3.6 2l2.6 3.4l3.6 -1.9zM369.3 206.5l1.1 -2.1l-2.3 1.6zM340.7 259.6l-.6 -5.8l-3.6 .7l-2.8 3.8l.4 2.1l1.9 2.3zM273.9 339.4l3.8 2.7l1.9 -1.3l.2 -1.8l-4.6 -4.2l-1.7 3zM389 252.5l.9 .1l1.2 -4.5l-.8 -1.2l-5.2 -.8l-.7 1l0 .3zM293.8 282.1l1.5 -1l-4 -5.5l-2.3 6.1l2.7 .8zM331.5 329.3l-1.4 -4.6l-1.5 -1.7l-1.6 1.8l-1.3 4.6l1.1 1.3l4.4 .1zM311.5 198.7l-2.1 .6l-.7 3.2l4 4.3l3.4 -1.9zM336.4 355.2l-.1 2.7l3.6 .7l-2.4 -4.2zM357.2 185.2l-1.3 5.8l.8 .6l.9 .1l2.4 -.8l1 -3.4zM394.7 323.5l-4.2 2.8l-.3 1l4.1 1.7l1.3 -3.8zM331.4 230.1l4.9 -1.5l-3.9 -4.4l-5.4 -.2l0 .6zM364.9 318.1l-4.9 1.4l-.5 1.9l3.5 3.3l3.5 -2.2zM454.7 270.9l-.1 4.1l5.4 -1.1l.5 -2l-2.9 -2.6zM528.9 192.7l0 -4.6l-2.7 -1.5l-.6 .2l-.3 3.3l2.1 2.4zM265.5 382.4l-.2 -1.5l-4.8 -2.3l-.5 6.9l1.8 .3l.8 -.3zM39.8 159.5l0 .8l3.9 1.2l.1 -.1l.1 -1.5l-1.8 -2.7zM481.1 221.9l-1.3 -2.3l-3.9 .8l-1 4.1l.1 .1zM364.1 267.8l2.6 -.9l.5 -.7l.1 -1.6l-1.3 -3l-1 -.2l-3.1 3.1zM335.4 193.9l-.9 -1.6l-3.6 -1.4l-1.5 1.2l-.8 3.7l1.9 3.6l4.2 -1.1zM378.9 194.3l-1.9 -2.2l-2.2 1.8l0 .1l3.2 0l-1.9 3.2l1 .7l.7 -.2l-.3 -.2l1.1 -.5zM421.1 334.8l5.9 -.2l.3 -.6l0 -3l-1.5 -1.2l-3.3 .3l-1.3 1.2zM49.3 257.1l0 -.1l-3.3 -5.3l-1 -.2l-1.7 3.9l1.1 2.6zM263.2 283.6l1.7 -4.5l-1.2 -3.3l-5.7 -.4l-1 .8l5.8 7.3zM286.5 340.1l-.5 .3l-2 3.5l1.2 2.7l1.4 -.1l.7 -1.1l-.5 -5.1zM293.8 319.8l2.1 3.4l1.2 -.2l2.5 -2.9l-1.9 -3.4l-.2 0zM67.6 243.1l1.3 .9l12 3.4l5 -8.7l0 -.2l-6.3 -3.9l-10.4 2.9l-1 .8zM442.5 303.4l-.6 1.7l5 1.1l-.1 -2.9zM46.2 173.5l.8 2.5l1.3 .9l2.2 -1.9l-1.4 -2.8l-1.5 -.2zM408.4 280.8l-1.2 -2.8l-4.4 1.5l.1 1.8l5.2 -.3zM297.2 304.8l-3.1 1.2l2.1 3.1l2.5 -1.3zM247.5 286.1l-5.6 -6.9l-6.9 2.3l3.3 11.5l3.6 -1.3l5.7 -5.1zM272.4 225.1l.5 -.2l4.1 -3.9l-2.8 -3.9l-2.8 .7zM411 344l2.5 -1.1l2 -4.8l-1 -.4l-3.1 1l-.4 5.3zM46.5 180.6l-4.1 -2l-.8 4.4l4.4 2.3l.5 -.2zM496.1 218.3l.5 .2l3.4 -.9l.6 -2.5l-1.4 -2.5l-.4 -.2l-1.9 .8zM297 207.6l5.8 -4.2l-.7 -3.5l-2.2 -1.6zM235.5 299.6l3.4 15.3l5.6 2l1.9 -13zM276.7 369.6l3.3 2l1.9 -1.4l-2.8 -4.3l-.3 0l-.2 0zM358.1 276.3l0 -.7l-1.8 -1.6l-2.8 -.3l.8 5.3zM300.7 362.3l.2 .2l5.5 .2l.9 -2.8l-5 -2.5l-.1 .1zM80.3 279.1l2.4 -7.7l-.5 -.8l-8.9 2.3l.5 6.5zM381.5 310.5l3.1 -2.6l-1.6 -1.3l-3.1 .2l-.5 3l.1 .3zM449.9 290.5l-1.1 -3.8l-2.5 .1l-1.1 1.7l.4 1.7l4 .5zM383.2 206.9l-3.1 1.2l-.5 2.6l3.6 1.3l1.1 -1.7l-1.1 -3.3zM372.5 327.1l4.8 1.4l1.2 -1.9l-1.1 -1.5l-3.4 -.2l-1.5 2.1zM246.5 397.8l-.2 -.2l-.5 0l.9 1.8zM303.1 370.2l.8 .8l3.1 -2.2l-.8 -2.1l-3.5 0l-.1 .2zM339.4 280l1.3 -1l.2 -.6l-2.9 -2.8l-1.8 2.7l1.1 1.7zM387.6 356.4l3.1 1.4l1.1 -1.2l-.1 -3.4l-.1 .1l-4.5 2.4zM460.2 286.8l1.2 -1.9l.1 -2.2l-3.7 -2.3l-.6 .9l.4 2.7l1.8 2.4zM73.3 254.1l-4.4 -10.1l-1.3 -.9l-.8 .7l.3 7.4l3.7 4zM387.7 366.6l-.4 -.4l-3.7 .3l-.3 1.6l2.1 2.4zM251 287.8l3.8 -1.1l.9 -1.9l-1 -6.8l-3.3 .5l-3.9 7.6l.1 .5zM418.2 260.7l2.3 3.6l.4 -.1l3.5 -4.1l0 -.7l-.7 -1l-5.4 2.3zM131.3 334.1l-.4 .2l.5 6.8l1.4 .9l3.9 -1.5l1.1 -1.3zM422.4 241l-.5 -1l-.6 -.2l-1 .1l-2.8 1.3l-.4 2.3l2.9 1.2l2.2 -1.5zM423 309l3.5 -2.7l-.1 -.2l-3.9 -2.3l-.6 4.8zM109.4 212.9l-6.1 7.7l8.2 8.8l4.5 -10.9l-.1 -.3zM360.3 364l-1.4 -1.2l-1.1 -.3l-.3 .2l-.7 .8l-.1 4.7l.4 .3l3.8 -1.2l.2 -.3zM394.4 275.8l1.7 -.2l.7 -3.5l-.9 -.7l-3.1 2.1zM304.9 220.8l-.1 -2.2l-5.7 -3.5l-3.1 4.1l1.5 3.2l2.1 .7zM396.4 252.4l0 .1l2.5 .6l.6 -.3l2.2 -4l-1 -2.3l-1.1 -.3l-.9 .5zM336.6 280.8l1.1 4.3l2.6 .3l-.9 -5.4l-2.1 0zM103.2 287.6l6.5 -11.7l-13 -3.1l-3.9 3.5l-.9 7zM36.5 175l4 -2.5l.4 -1.3l-.6 -.7l-6.9 2.3l.1 2.5zM344.3 231.8l-2 -2.7l-5.1 .2l0 8.8l3.4 2.4l0 0zM313.7 339.3l-1.1 .7l.2 2.5l1.3 1.6l3.1 -2l-.9 -2.4zM318.2 333.3l-.3 -2.4l-3.4 -.2l-.7 .3l.3 3.7l2.6 .7zM376.7 317.7l4.3 -2l-2.2 -3.1l-3.9 2.5zM430.5 275.8l.2 -4.7l-5 2.2l1.9 2.7zM357.7 361l.1 1.5l1.1 .3l3.2 -3.7l-.8 -1.5l-2.1 0zM372.1 320.3l1.9 3.8l3.6 -3.5l-1 -1.9zM313.8 298.6l2.4 -.1l.4 -1.9l-2.5 -3.4l-2.9 3.3zM337 369l4.9 -1.6l.7 -2.5l-1.2 -.9l-5 -.1l.1 4.3zM61.8 315.8l-2.2 -.3l2.6 2l.5 -1zM365.7 195l-1.4 -4.3l-3.3 .8l1.3 2.6l3.3 .9zM320.9 189.5l3.4 -3.3l-.1 -.4l-5.5 -1.1l-1.9 2.8l.6 1.1zM403.1 334.2l.6 0l.9 -.4l2 -2.2l.2 -2.8l-.5 -.7l-4.2 .9l-1 2.6zM353.2 205.6l1.2 1.3l1.6 -1.9l-1.4 -1.4l-1.3 1.6zM405.5 269.4l2.7 -.1l1.4 -.8l.8 -2l-3.7 -2.2l-2.4 4.4zM379.3 368l-2.2 2.7l2.7 1.7l2 -1.1l-.2 -2.3zM347.7 276.7l-4.4 -3.7l-1.7 1l-.1 3.6l6.2 -.8zM255.1 404.1l.2 -2.5l-8.8 -3.8l.2 1.6l1.3 2.6l1.5 2zM280.8 384.2l-1.8 -1.9l0 0l-3.1 2.9l.4 2.5l.6 .7l3.2 -2zM88.1 320.7l3.2 2.9l0 0l1.4 -3.2l-.6 -2l-1.9 -1.7zM399.3 362l1.8 .3l1.6 -1.5l-.4 -4.3l-1 .2l-3.1 2.3zM54.3 291.8l.4 4.5l.5 .2l2.6 -2.3l-.3 -3.2l0 0zM445.2 288.5l-3.3 -1.6l-1.3 4.4l2.8 2.1l2.2 -3.2zM228.1 242.4l-4.3 -3.7l-10.5 3.5l-.5 12.2l16 -5.9l.9 -2.7zM368.6 292.5l-.1 -.3l-4.1 -2.7l-1.4 2.6l1.1 3.3l2.4 .2zM357.8 300.7l-.3 -.8l-1.5 -1.5l-1 .2l-3.7 3.4l.2 .5l4 1.1l1.2 -.7zM280 306.2l-3.7 -.9l-1.3 4.3l.7 1.6l3.5 -1.5l1.2 -2.9zM397.3 230.2l-5.2 .6l0 2.8l5.2 -.7l.2 -.4l.3 -1.7zM281.1 217.9l-4.8 -4l-.3 .1l-1.8 3.1l2.8 3.9l2.6 -.1zM379.6 289.9l-.2 .1l-.2 3l0 .2l5.6 2l2.1 -2.3l-.2 -1.9l-.8 -1.1l-4.8 -.4zM394.9 218.7l.4 .8l2.7 3l-.5 -2.5l-2.5 -1.3zM40.1 213.4l-5.8 -1l-2.8 3.4l2.3 5l6.3 -5.5zM73.4 302.3l-.5 .2l-4.2 6.6l.7 1.9l6.8 -2.8l-.8 -3.9zM405.2 360.8l-2.5 0l-1.6 1.5l1.4 2.4l3.5 -.2zM95.6 340.9l2.4 .5l0 -3l-2.9 -1zM274.7 193.5l5.1 4.7l.9 -.7l1.4 -3.2l-.2 -3.9l-3 -1.1zM96.6 333.8l1.8 -1.1l-1.9 -2.6l-1.7 3.1zM327.3 381.6l-.1 -.4l-1 -.9l-3.7 -.1l-.7 1.7l.2 .1l5.1 0zM344.8 210l3.3 3.6l.8 -.2l1.2 -2.8l-.4 -.5l-.7 .9l-2.6 -1.8zM395.6 308.8l.5 .1l1.8 -1.7l.3 -1.6l-.6 -2l-1.8 -.4l-2.7 1.9l0 .8zM446.8 296.7l2.3 .3l1 -1.4l-.1 -.8l-.8 -1.1l-3.7 1zM47.3 171.2l1.1 -2.1l-.2 -.4l-1.9 -.6l-1.1 .4l-.3 1zM452.5 307.9l-1.6 .3l-.1 2.9l1.4 1.3l1.3 -.4l.9 -3.5zM250.8 386l2.3 3.3l3.8 -.4l2.1 -3.2l-3.3 -2.7zM388.9 371.4l.6 -2.7l-1.7 -2l-.1 -.1l-2.3 3.9l.1 1.5zM331.3 273.4l.7 3.1l.2 0l5.5 -2.2l-2 -3.1l-2.9 .5zM346.9 323.6l-2.2 -2l-2.4 2.3l2.3 3l1.8 -.4zM373.3 311.9l-1.2 -.3l-3.6 1.9l-.5 2.6l2.4 1.3l4 -2.6zM109.7 254.1l-3.9 -5l-6.8 -2.4l-6.3 11l.3 2.8l2.8 3l13.7 -2.4l1 -4.5l-.1 -.9zM412.4 315.6l2.8 -2.4l-1.6 -2.2l-1.9 .2l-1.4 1.4l0 .8l1.7 2.2zM279.8 181.5l-7.4 -2.2l-2 1.3l-.3 4.6l2.6 2l4.2 -1zM435.1 267.7l-4.2 -1.7l-1.6 2.5l1.5 2.5l.9 0l3.2 -1.8zM407.1 252l.1 .2l1.5 .4l1.2 -.5l1.4 -2.3l-1.3 -1.9l-2.2 .8zM367.8 248.6l1.4 .8l2.5 -1.5l.1 -.6l-4 -2.4zM351.1 316l-1.1 -4.6l-3.6 .5l-1.4 2l.5 2.2l.6 .8l1.2 .2l3.4 -.8zM262.5 174.5l-1.4 3.9l2.8 1.7l3.6 -1l-1.2 -6.1zM270.4 345.1l6.9 -1.9l.4 -1.1l-3.8 -2.7l-4 5.2zM261.9 264.8l-2.5 -.2l-2.4 2.8l1.7 3.2l6.8 -1.9zM39.5 275.8l1.2 1.6l4.3 -1.7l1.3 -3l-.5 -3.6l-4.6 .4l-2.5 2.5zM414 271.2l-1.9 .2l-2.1 3.4l0 0l3 .5l2.7 -1.8zM408.7 323.4l-3.4 .2l-.4 .7l1.5 3.1l4.3 -2.3zM336.6 318.1l3.8 1.2l.3 -3.2l-1.7 -1.5l-.9 -.1l-1.8 3.2zM491.5 245.1l-2.9 -.3l.6 3.7l2.6 .9l1.2 -.2l0 -2.2zM290.9 329.2l-1.9 1.7l.3 2.3l1.8 -.1l2.3 -3.4zM341.9 308.5l-.2 .6l.7 3l2.6 1.8l1.4 -2l-.7 -4.6l-2.7 -.3zM259.4 225.8l-2.2 -6l-6.3 -2.2l4 11.2l1.2 .6l1.4 -1.1zM122.2 330.6l1.4 -3.9l-3.6 -11.1l-7 .8l-3.9 2.6l-.3 .4l-1.3 9.5l.4 1.2l2.2 1.3l10.4 .4zM412 298.1l.9 5l1.5 .1l4.9 -3.3l-.6 -2.4zM341.5 241.1l-.9 -.6l0 0l-7.7 7.6l7.9 1.7l1.2 -1.9zM255.2 405l-3.2 2.3l2 2.7l2.5 1.7zM206.3 165.2l6.4 -1.2l4.8 -6.6l-3.2 -2.2l-8.7 0zM302.9 294.3l-.3 .3l-.9 2.8l4 2.1l3.1 -2.2l.1 -.4l-1.5 -2zM148.6 293.7l-.3 2.2l7.5 13.7l5.4 .8l5.5 -8.6l-15.3 -11.6zM406.5 376.6l3.1 2.2l.2 0l-1.3 -6.2l-.3 .1l-1.6 2.2zM322 169.7l-.1 -.5l-5.9 -.7l-.8 -.6l.6 2.1l6 .2zM328.8 310.9l-2.9 -2.6l-1.8 .3l-1 5.9l3.9 2.2l2.4 -2.5zM354.2 307.6l-2.7 -1.6l-1.1 4.1l.1 .2l4 -.2l.3 -.4zM339 267.2l-3.3 4l2 3.1l.2 .1l1.8 -.7l-.6 -6.5zM403.4 261.6l.4 -1.5l-3.3 -1.4l-2.5 2.2l0 .1l1.5 2.9zM92.1 318.4l.6 2l3.3 1.5l1.8 -.7l.7 -.7l-3 -2.6zM274.3 268.1l-6.1 .4l-.1 .1l5.3 5.6l1.4 -.4l1.1 -2.4zM521.2 192.7l-.2 -.2l0 3.4zM124 167.3l-10.5 -7.8l-1.4 .5l-4.7 14.1l2 2.5l9.4 3.1zM283.7 188.4l-1.8 2l.2 3.9l6.1 -1.4l.2 -3.5zM316.5 369.6l-.3 -.3l-4.3 -.5l-1.9 2.1l0 .8l4.4 1.9l1.9 -.7l.4 -2.8zM298.3 240.6l1.8 2.2l4.3 -.6l.1 -2.7l-1.9 -1.9zM379.9 306.8l-1.2 -1.6l-.2 -.1l-3.7 1.1l.4 2.1l4.2 1.5z"/>
<path fill="#d8d26c" d="M153.4 360.3l1.5 -.2l2.6 -14.3l-5.1 -4.1l-7.6 7.5l-3.7 9.1l7.7 2.2zM382.1 268.7l-2 -.4l-1.3 1.8l2 5.2l1.9 -1.1l1.4 -3.1l-.5 -1.3zM411.3 249.8l1.4 0l1.3 -1.2l-1.4 -3.1l-2.5 1.4l-.1 1zM440.8 296.9l-3.3 -.4l-.8 3l1.5 1.7l2.9 -.7zM413.3 411l3.1 3.3l.9 -.1l1.3 -1.5l.4 -2.6l-4.5 -1.9l-.3 .3zM288.2 225.9l.1 0l3.3 -2.9l-.2 -3.4l-4.2 -.6l-1.5 4.8zM382 237l.6 -1l.5 -4.3l-2.2 -.5l-2.5 1.5l1.1 3.9l2.3 .5zM400.7 246.5l1.4 -.5l.5 -1.3l-3 1.5zM411.4 338.7l3.1 -1l-2.3 -5.1l0 0l-2.6 3l0 1.9zM407.1 408l2 1.6l1.4 -1.8l-.4 -3.9l-.4 -.4l-3.2 .8zM336.8 324.8l3 -2.6l0 -.3l-2.6 -.9l-1.5 1.9zM387.7 361.6l-.4 -1l-2.5 -1.5l-2.2 1.5l.1 1.2l.9 .8l3.3 0zM391.8 234.3l-2.4 1.3l-.2 .8l2.9 4.7l1.9 -.8l0 -.3l1.2 -2.7zM282.3 362l-.3 1.8l3.8 3.5l1.5 -5.2l-3.6 -.6zM69.4 311.5l0 -.5l-.7 -1.9l-4.5 -3.6l-3.6 2.2l1.2 8.1l.9 .7l.3 .1zM118.8 179.7l-9.4 -3.1l-3.9 11.3l.4 1.1l13.7 -5.9zM287.7 358.8l-1.2 -3.7l-1.3 -1.2l-2.9 .7l0 .1l2.7 4.1zM46.9 202.2l.2 2.6l1.9 .7l3.4 -2l-.4 -2.4zM351.6 295.8l-1 1.2l-.4 4.4l1.1 .6l3.7 -3.4zM44.8 231.1l2.8 .1l1.9 -7.2l-1.4 -1.2l-7.8 4.5l.1 .5zM279.1 271l-3.2 .4l-1.1 2.4l2.6 2.1l4.1 -1.4l.5 -1.3l-.2 -.5zM371.1 216.5l2.7 .3l.2 -2.9l-5 -3l-.9 .6l0 .1zM286.6 328.6l-3.2 3.7l4.3 2.3l1.6 -1.4l-.3 -2.3zM382.6 350.8l3.3 -1l-.2 -4l-5.4 .2zM356.7 191.6l-.8 -.6l-4.2 -1.3l-.7 2.6l2.7 3.7l1.2 -.8zM260.7 289.7l-2 1.2l0 3.3l4 3.3l3.5 -6.8zM151.7 339.3l5 -9.6l-8.5 -6.5l-5.3 .6l-3.4 4.9l3.7 7.1zM71.4 324.5l.4 -1.2l-1.5 -3.1l-4.6 -1.2l.1 2.3l3.1 3.6zM284.9 215.9l.2 -1l-3.1 -3.5l-3.6 -.3l-2.1 2.8l4.8 4zM251.8 162.1l-2.9 .9l.4 5.7l6.7 2.7l.5 -.5l-.8 -4.8zM531.8 202.2l-2.6 -3.6l-.9 2.9l.9 .9zM456.8 307.9l-2.2 -4.3l-1.7 .1l-.4 4.2l1.9 .6zM297.8 267.3l-.7 -1.4l-3.8 1.2l-1.2 1.8l1.4 2l4.2 -.7zM48.3 161.4l-1.9 .9l.1 2.7l.8 .6l1 -.1l1.8 -2.5l0 -.5zM344.3 347.7l-1.7 -4.1l-1.8 -1.2l-1.7 2l-.2 .6l3.5 3.3zM311.9 368.8l4.3 .5l.6 -4.9l-3.5 .5l-1.5 2.9zM415.6 313.3l-.4 -.1l-2.8 2.4l3.1 2l1.8 -.4zM404.4 316.3l-3 -.1l-.1 .1l-.5 2.7l.1 .2l4.2 .2zM447.6 242.8l-2.7 -.2l-.7 2.3l.3 .9l3.1 1.4l.8 -.3l.9 -1.7l-.1 -1.1l0 -.2zM257.1 243.1l-3.5 3.2l.7 3.3l1.6 1.8l4.1 .7l2.7 -5.1l-2.1 -3zM392.5 320.4l-4.7 .6l-.1 .8l2.8 4.5l4.2 -2.8l0 -.3zM395.4 358.3l-2.1 2.7l1.8 2.4l.4 .2l2.7 -.7l1.1 -.9l-1.1 -3l-1.2 -.7zM343 307l2.7 .3l.1 -.1l2.2 -5.8l-.4 -.2l-4.2 2.1l-1.1 2.1zM301.4 181.8l2.1 -5.5l-.8 -2.6l-5.3 -1.6l-2.7 5.3l1.2 2.9zM422.2 243.2l-2.2 1.5l.7 3.5l.5 .1l1.6 -3.9zM395.8 335l.1 .4l3 1.6l2.7 -.4l1.5 -2.4l-2 -2.6l-3 -.5zM371 295.7l-1.9 2.7l2.3 1.9l2.8 -1.9l0 -.4l-1.3 -2.2zM308.2 292.2l-3 -3.5l-2.2 3.5l-.1 2.1l4.5 .6zM458.3 306.6l-.3 -2.6l-.6 -2.5l-.7 -.2l-.4 .2l-1.7 2.1l2.2 4.3l.1 0zM314.7 284.3l0 0l4.1 3.5l2.7 -2.5l-2.5 -4.7l-3.1 1.8zM59.9 192.7l0 1.7l2.1 4.3l1.8 1.6l8.9 -7.1l1.6 -11.6l-1.7 -1l-4 -.5l-6.2 4.3zM286.8 172.6l-4.7 8.5l.7 .5l3.1 0l1.9 -.6l2.4 -5.8l-1.3 -2.6l-.2 -.1zM62.6 298.5l-6.6 0l-.5 1.7l1.3 2.8l5.9 -2.7zM363.8 340.5l-.9 -1.7l-3.6 .6l-.3 .3l2.9 3.5l1.2 -.5zM271.4 217.8l2.8 -.7l1.8 -3.1l-4.5 -2.8l-2.5 5l.8 1zM347.6 301.2l-1.4 -1.7l-3.4 .6l.6 3.2zM480.4 234.6l3.6 -.3l.5 -.4l2.1 -3.9l-1 -1.2l-4.4 -.9l-2.2 4.9l1 1.6zM30 234.3l3.4 -2.6l-.3 -1.2l-4.3 -2.4l-.5 1.9l.6 3.7zM247.3 185l2.7 1.5l6 -4.5l0 -2.6l-.3 -.4l-9.5 .4zM35.2 254.7l-1 -1.2l-4.1 0l-.9 8.2l.8 2l3.1 0l1.6 -1.3l1.3 -5l0 -.1zM402.6 252.6l-3.1 .2l-.6 .3l2 3.7l4.1 -.9l0 -.5zM86.6 308.9l-2.8 .7l-1.5 1l.5 6.8l.5 .8l6.8 -2l.4 -5.2zM314.6 219l1.1 .4l6 -.4l-5.9 -6.8l-1.2 .2zM294.3 369.9l-1.7 3.7l.4 .9l2.4 2l3.5 -1.9l-4 -4.9zM246.2 179.4l9.5 -.4l-.7 -4.5l-10.4 -.4l-2.1 1.2zM374.1 311.2l1.1 -2.9l-.4 -2.1l-.6 -.4l-3.9 2.7l1.8 3.1l1.2 .3zM417.4 347.7l-4.4 -.7l-1.2 3.2l.4 1.3l3.3 -1l2.4 -2.4zM314.7 196.9l7.2 4.9l1.1 -6.3l-.3 -1.1l-1 -.9l-5.3 .5zM400.6 405.1l1.2 2.4l.2 -.2l.2 -1.2zM271.5 347.6l-1.1 -2.5l-.5 -.5l-2.1 -.8l-1.6 2.2l-.3 5.2zM286.6 155l3.9 -.4l0 -4.6l-4 0l0 4.7zM336.9 297.7l2.9 -1.7l.2 -2.8l-1.3 -1.6l-3.6 2.8l1.8 3.3zM313.1 278.7l0 .1l2.8 3.6l3.1 -1.8l.1 -.1l-1 -3.6l-2 -.2zM415.2 313.2l.4 .1l2.4 -1.3l-.8 -4.1l-.9 -.2l-1.4 .6l-1.3 2.7zM343.7 190.8l-.3 2.4l0 .1l5.3 1.2l2.3 -2.2l.7 -2.6l-1.4 -2.2zM359.2 255.7l2.9 3.2l.8 .2l1.4 -3.7l-2 -3.2l-1.9 .7zM149.6 273.3l9.4 -15.9l-2.9 -2.1l-14.8 .6l-.9 7zM340.7 316.1l-.3 3.2l.3 .3l3.8 0l1.6 -2.7l-.6 -.8zM363 324.7l-3.5 -3.3l-2.2 1.2l-1.4 2.8l2.2 1.6l4.3 .2l.3 -.4zM463.3 229.2l.6 .9l4.1 0l.7 -3.7l-1.3 -2.4l-.7 -.1zM424.5 283.6l-.3 -2l-.2 -.4l-2.4 -1.1l-3.4 4.3l1.2 2.8zM374.2 298l0 .4l1.7 1.4l2.6 -1.2l.3 -4.1zM375.3 238.6l1.4 .3l2.8 -2.3l-1.1 -3.9l-.3 -.1l-3.7 1.2l-.4 1zM513.1 212.8l-.8 .3l-1.4 1.9l1.5 2l3.1 -.9l.9 -.8zM363.5 284.3l3.3 -.3l.6 -3l-.4 -.3l-3 .5zM190.3 181.4l5.5 7.1l6.9 -2.6l6.7 -10.1l-6 -7.5l-11.5 10.2zM368.9 350.6l-.1 -2.5l-1.9 -.8l-1.1 .3l-.4 .8l.3 3.3l1.8 .5zM387.6 308.4l-.1 0l.1 .3l2.4 3.2l2.3 -.3l1.4 -2l-4.1 -1.5zM54.1 184l8.3 .4l6.2 -4.3l-2.3 -2.5l-12.3 -.2l0 0l-1.1 3.3zM367.9 356.5l1 .5l2.6 -3.3l-3.9 -1.3zM325.4 370.3l-1.1 0l-.9 1.6l-.3 2l4.5 2.5l.4 -.1l1.4 -3.5zM77.5 325l-.1 3.1l6.3 -2.1l-.3 -2.2l-5.1 .3zM358.6 353.1l-3.3 1.9l.8 2l2.4 -.1l.1 -3.8zM294.2 189l9.3 -2.5l-2.1 -4.7l-5.5 -1.5l-3.2 2.3l-.4 5.2zM373 292.4l-4.2 .3l2.2 3l1.9 .1l1 -2.2zM246.7 391.1l.4 5l5.3 -1.9l-.3 -3.2zM377.1 370.7l-.7 .1l-.4 3.8l2.6 .9l.2 -.1l.7 -.3l.6 -1.3l-.3 -1.4zM387.3 366.2l.4 .4l.1 .1l3.2 -1.7l-.7 -3.7l-2.6 .3l-.8 1zM457.6 284l-3.9 1.9l1.2 2l4.5 -1.5zM360.1 248.2l2.6 .5l-.3 -1.2l-2.6 .3zM319.7 274.4l-.9 -2.1l-4 -.9l-1 2.5l2.3 2.8l2 .2l1.5 -2.1zM299.6 334.8l1.2 -3.2l-2.3 -1.4l-2.8 .7l.6 4l.6 .4l2.5 -.2zM323.6 269.5l1 -2.3l-.5 -1.1l-5.5 1.6l.9 2.6zM255.9 251.4l-1.6 -1.8l-6.3 5.5l2.9 5.1l3.6 -1.5zM285.3 382.9l-.4 -.1l-2.5 1.5l.3 .5l1.3 -.8l1.5 -.7zM357.7 309.5l1.2 5l3.5 -1.4l1.4 -3.5l-1.1 -1.8l-1.1 -.6l-2.1 .7zM354.8 344.4l2.4 -.7l.1 -3l-1.6 -.8l-.1 0l-3 2zM122.3 255.6l-4.1 -2.7l-7.8 2.8l.1 .9l9.9 2.4zM380.5 222.1l-.7 .7l4.1 4.2l1.2 .2l.2 -3.9zM327 316.7l-3.9 -2.2l-2.4 .5l-1.4 2.6l1.3 3.2l6.7 -.3zM299.4 302.1l-.2 0l-2 2.7l1.5 3l2 .6l.6 -.9zM323.7 247.8l-2.4 1.4l-1.2 4.6l2.8 1.5l3.4 -3.7zM362.7 248.7l-2.6 -.5l-3.2 2.4l3.5 2.3l1.9 -.7l1.2 -1.8l-.6 -1.5zM261.7 351.5l-4.1 .4l-.8 1.1l3.1 6.5l2.6 -.1l1.1 -.7l2.1 -4.8l-.7 -1zM426.2 299.3l5.2 2.2l.5 -.1l0 -3.5l-.7 -.5l-4.7 -.7zM351.2 350l.9 -3.4l-.8 -.5l-3.6 .2l-1.1 1.8l1.9 1.6zM353.6 280.8l.7 1.3l1.5 .7l2.7 -.5l2 -2.6l-2.4 -3.4l-3.8 2.7zM351.6 321.6l-.7 1.4l.3 .5l4 2.2l.7 -.3l1.4 -2.8l-2.6 -2.1zM90.5 330.8l-2.4 -3.3l-3.1 .5l-.3 1.4l.2 .9l4.8 2.2zM280.3 321.7l1.1 -3.7l-1.3 -2.6l-.5 -.1l-3.6 3.6l1.6 2.8zM393.1 305.9l0 -.8l-4.4 -4.2l-.6 .2l-.5 7.3l2 -.3zM227.2 166.7l-3.6 -8.2l-3.7 -1.8l-2.4 .7l-4.8 6.6l8.9 10.2l2.5 -.5zM83.5 265.6l9.5 -5.1l-.3 -2.8l-7.1 -3.5l-4.9 5.2l-.2 2zM425.5 311.8l-.8 0l-1.3 1.4l-.4 1.3l3.1 2.4l1.6 -1l.1 -.3zM179.8 280.1l-2.1 2.3l-1.3 3.7l6.6 3.3l2.6 -.8l4 -8.9l-.9 -1.9l-4.9 -.2zM353.5 273.7l-1.6 -1.2l-.7 0l-.8 .3l-2.7 3.9l0 .1l.5 1.9l5.4 2.1l.7 -1.8zM380.7 336.6l2.4 .4l1.3 -2.4l-2.9 -1.8l-1 .8zM350.9 323l-1.4 -.2l-2.6 .8l-.5 2.9l1.4 1.3l1.8 -.3l1.6 -4zM358.1 197.1l-3.2 -1.9l-1.2 .8l-.4 .8l3.6 2.9l.3 -.2zM78 317.6l-1.1 -3.5l-4.2 .6l-.3 2.4l4.3 2.9l.5 -.1zM376 359.9l.9 -2.3l-.2 -1.6l-3.5 .5l-1.3 3.2l1.1 1.5l1.1 -.1zM36.8 271.1l-3.2 -4.8l-1.4 2.9l1.7 3.7zM525.4 196.2l3.2 -.5l.3 -1.7l0 -1.3l-1.5 -.2l-2.6 1.4zM242.1 390.3l3.7 7.3l.5 0l.8 -1.5l-.4 -5l-.7 -.8zM264.3 364.6l-1.8 -5.2l-2.6 .1l-2.5 3l-.1 1.3l3.7 3.2zM278.1 157.9l3 .9l1.8 -2.6l-.7 -1l-4.2 0zM250.4 217l.5 .6l6.3 2.2l3.4 -2.9l-1 -1.7l-7.5 -.9l-2.4 1zM430.8 309.8l-.3 -1.5l-.9 -1l-2.6 -.5l-.2 4.2l2.4 .3zM315.7 318.1l-.6 1.2l1 2.9l3.2 1.2l1.3 -2.6l-1.3 -3.2zM373.3 290l-.3 2.4l.9 1.2l5.3 -.6l.2 -3l-.5 -.3zM448.5 283.5l-1.6 -.2l-1.1 1.3l.5 2.2l2.5 -.1l.7 -.9zM49.1 172.2l1.9 -1.8l-2.6 -1.3l-1.1 2.1l.3 .8zM408.1 281l-5.2 .3l-.1 0l.7 2.3l3.1 .4zM338.6 350.2l-1 1.2l.6 1.7l3.3 1.1l1 -2.3l-1.2 -2.1zM415.9 332l2.7 4.4l1.6 -.4l.9 -1.2l.1 -3.5l-3.1 -.8l-1.9 1.1zM300.1 242.8l-1.8 -2.2l-1.5 -.4l-3.4 1.6l.9 2.9l2.3 1.6l2.6 -.1zM421.7 271l-.1 -1.8l-2.4 -2.1l-2 2.5l1.8 2.8zM314 334.7l-.4 .1l-3.2 3.8l.1 .3l2.1 1.1l1.1 -.7zM448.7 276.9l-2.2 -.7l-1.7 3.3l1 .6l3.5 -.4l.4 -.4zM356.1 357l-.5 .9l2.1 3.1l1.5 -3.4l-.7 -.7zM295.7 234.1l-5.1 -1.9l-1.1 .7l-1 3.5l2.5 2.7zM374.3 284.1l-.6 2.5l4.9 2.7l-2.2 -6.1zM397.7 330.6l.4 .5l3 .5l1 -2.6l-.5 -2.2l-2.6 -.6l-1 .4zM282.1 273.2l5.3 2.1l1.8 -.8l-1.4 -4.1zM416.5 325.3l1.7 .6l1.9 -.4l1.4 -1.3l-2.5 -4.8l-.8 .7zM352.8 329.7l-3.2 -2.2l-1.8 .3l-.4 2l2.2 3.5l1.6 -.3zM290.6 341l1.3 -.7l.1 -2.8l-4.2 -2.3l-1.4 4.2l.1 .7l.3 .2zM383 306.6l.3 -5.4l-4.6 4l1.2 1.6zM350.1 210.6l1.6 -.7l-.3 -2.1l-1.7 2.3zM356.6 288.6l-3.5 2.9l3.9 3.1l1.8 -.2l1 -1.4l-1 -4.1zM305 335.3l2.2 -.6l-1.4 -4.9l-2.3 1.7l.5 2.8z"/>
<path fill="#d8d86c" d="M56.6 173.1l-1.5 -2l-2.9 -.6l.2 3.3l3.9 -.5zM336.8 217.4l-7.7 -6.8l-.7 -.4l-2.7 4.5l-1 3.8l9.4 1.4l1.5 -.8zM247.8 385.9l-1.8 4.4l.7 .8l5.4 -.1l1 -1.7l-2.3 -3.3l-.3 -.1zM426.7 321.4l3.3 .7l2.8 -2.6l0 0l-2.5 -.7l-3.4 1.4zM316.3 372.9l-1.9 .7l-.8 2.4l2.9 1.2l.9 -2.9zM305.3 278.9l.2 -6.2l-.1 -.1l-.3 0l-4.6 4.3l.4 1.9l3.8 .8zM316.8 378.4l-.3 -1.2l-2.9 -1.2l-3 1.6l5.4 1.4l.4 .2zM375 375.8l-2.8 -1.4l-1.3 1l3.1 1.6l1 -.3zM438.2 301.2l-1.5 -1.7l-4.7 2.1l.3 .5l1.6 1.5l3.5 -.8zM443.3 329.6l-.4 -.6l-3.9 -1.6l-1.9 .4l-.1 .1l1.8 4.4l4.4 -2.6zM348.8 352.5l2.8 .3l.9 -1.1l-1.3 -1.7l-2.7 -.3zM322.4 297.5l2.2 -.1l3.6 -3.7l-1.5 -3.6l-3.9 1.5l-.7 5.3zM396.6 267.6l4.5 3l1.8 -2l-1.6 -3.2l-1.7 -1.5l-3 3.3zM305.4 228.3l-.5 2l1.1 3.6l1.9 .9l4.7 -3.5l.2 -.9l-3.1 -3.8l-1.2 -.8zM244 373.9l5.2 -1.2l1.4 -4.2l-1.8 -1.6l-6.3 1.2zM304.9 280.3l-.2 -.7l-3.8 -.8l-2.9 3l.9 1.9l4.6 .8zM271.4 294.3l3.7 -1.6l1.3 -3.5l-3.2 -2.9l-1.8 .1l-3.9 3.3l0 .3zM311.2 351.7l3.6 3.8l.8 .3l.2 0l.9 -1l.5 -4.3l-3 -1zM441.1 324.2l-2.1 3.2l3.9 1.6l1.1 -4.7l-.8 -.6zM299.8 327.2l1.1 -3l-3.8 -1.2l-1.2 .2l-.1 .3l1.2 3.1l2.2 .8zM52.4 255.4l4.7 2.3l2.6 -5.8l-2.6 -1.9l-4.1 1.7zM397.6 353.2l1 -1.1l.7 -2.6l-2.9 -3.3l-1.3 .8l-.8 5.9l.4 .2zM376.5 211.8l1.5 .3l1.6 -1.4l.5 -2.6l-3.7 -3.2l-.6 .2l-1.4 3.2zM53.7 155.8l.8 2.7l3.3 -.1l-.1 -3.2l-3.6 0zM365.7 351.7l-.3 -3.3l-5.5 .9l4.2 3.5zM398.7 292.9l-5.5 -.4l-1.1 2.7l0 .1l4.9 1.2zM269.7 311.8l-1.3 -2.5l-4.1 3.9l1.8 4l3.1 -.7zM410 383.8l3.8 4.3l.2 0l0 -.1l-2.6 -5.2zM274 370.3l2.7 -.7l1.9 -3.7l-5 -.4l-1.5 2.4l1.1 2zM379.3 266.7l-6.1 -.1l-.2 .8l.5 1.7l2.8 2l2.5 -1l1.3 -1.8zM395.4 315.1l-3.1 -3.5l-2.3 .3l-.2 3.3l3.9 1.3l1.3 -.7zM333.1 350.3l4.5 1.1l1 -1.2l-.5 -4.3l-3.3 .6zM426.2 246.1l-.1 -.4l-3.3 -1.3l-1.6 3.9l.7 .4l1.2 0zM378.5 364.8l.2 0l1 -1.7l-1 -2.4l-2.7 -.8l-1.9 1.2zM43.8 161.4l.5 .5l2.1 .4l1.9 -.9l-.6 -3.1l-.3 -.2l-3.5 1.8zM406.7 367l-.8 1.1l1.3 3.8l1 .8l.3 -.1l-.5 -2.6l.3 -2.8zM401.8 407.5l.2 .5l2 4l.3 -.1l-.3 -2l-2 -2.6zM57.3 274.7l-3.4 -2.8l-2.2 1.8l-.7 3.1l1.2 2.2l2.3 .6l.9 -.1zM279.1 267.5l-4 -.3l-.8 .9l1.6 3.3l3.2 -.4zM451.6 314.4l2.3 2.3l2.4 -1l.7 -1.7l-3.5 -2l-1.3 .4zM304.8 218.6l3 -3.2l.9 -3.5l-2.8 -2.2l-7.9 .5l1.1 4.9zM255.9 276.6l1.1 -.4l1 -.8l.7 -4.8l-1.7 -3.2l-8.6 -1.5l-.7 .6zM59.4 266.3l1.2 -5.6l-3.4 -2.5l-4.7 4.7l3 4zM211.9 320.3l-3.3 6l1.4 2.3l10.2 .2l1.8 -2l-1.3 -7.8l-.4 -.4zM512.6 220.5l1.5 -.1l.8 -.7l.6 -3.6l-3.1 .9l-.5 3zM226.7 283.4l2.4 -5l-2.4 -5l-4.3 .1l-12 17.5l.6 .5zM272.2 318.9l-2.9 -2.4l-.1 0l-3.1 .7l-.3 .6l1.2 5.3l1.4 .4l3.7 -3.6zM344.1 370.6l-.1 -1.1l-2.1 -2.1l-4.9 1.6l-.1 1.3l2.7 1.6l3.5 -.3zM308.9 296.9l2.3 -.4l2.9 -3.3l.3 -1.5l-1.7 -1.4l-1.3 -.2l-3.2 2.1l-.8 2.7zM395.6 325.2l-1.3 3.8l.4 .9l3 .7l.3 -4zM512.4 217l-1.5 -2l-1.2 .1l-1.3 3.1l.6 1.4l1.7 .6l1.2 -.2zM279 382.3l1.8 1.9l1.6 .1l2.5 -1.5l-1.1 -3.9l-1.6 -.3l-1.8 .8zM254.5 305.4l8.4 -6.5l0 -1l-.2 -.4l-4 -3.3l-6.7 2.8l-1.4 5.8z"/>
<path fill="#ded866" d="M306.2 264.4l-.6 .7l1.2 3.9l4.9 -.3l-1.2 -3.9l-2.8 -.9zM287.3 362.1l-1.5 5.2l.4 1l3.3 -.5l1.2 -4.9l-1.5 -1.9zM420.4 311.6l-1.7 .7l1.6 4.2l2.7 -2l.4 -1.3zM349.9 179.1l2.2 4.7l2.2 -.2l.5 -.9l-2.8 -1.7l-1.2 -4.3zM415.8 265.3l-.3 -.3l-3.3 1.1l2.3 4.1l1 -.7zM405.7 412.4l-.7 -.1l-.2 1.3l.2 .4l3.2 2.4l.1 -1.1zM296.8 164.8l.1 -3l-4.4 -4.2l-2.3 2.2l.2 3.4l2.3 2l3.7 0zM443.1 258l-3.2 -1.7l-1.9 2.9l2.9 2.2l2.6 -2.5zM413.7 399.3l-1.1 -3.7l-3.8 1.2l-.6 .6l.9 1.4zM291.4 287.1l.7 1.5l2.3 -2.1l-.6 -4.4l-2.1 .4zM287.7 312.4l-.4 4.3l3 3.7l2.9 -.8l-1 -4.3zM264.3 328.4l-3.4 -.8l-3.3 3l.1 2.6l1.7 .8l5.6 -4.4zM279.2 309.7l3.8 2.9l2 -.9l-3.3 -4.6l-1.3 -.3zM426.2 296l-6.5 -.3l-.9 1.5l-.1 .3l.6 2.4l1.4 1.5l.2 .1l3.8 -.9l1.5 -1.3l.3 -2.6zM317.5 336.5l-.8 -1.1l-2.6 -.7l-.1 0l-.3 4.6l2.6 .4zM268.7 389.4l-1.5 2.6l.5 2.9l1.4 .6l.4 0l.5 -1.5l3.2 -2.6l-.9 -1.2l-3.2 -.9zM275.4 329l.1 1.9l.5 1.3l5.8 .8l.9 -.7l-1.3 -5.9l-.3 -.2l-4.8 1.7zM391.8 229.3l-.1 .4l.4 1.1l5.2 -.6l-.8 -3.2l-4.1 1.1zM401.9 311.9l-.5 4.3l3 .1l1.7 -1.3l-.9 -2.4l-1.9 -1.9zM406.9 275l-1 -1.2l-5 -.9l-.6 3.4l1.6 1.2zM418.2 260.7l-2.3 .7l-.4 3.6l.3 .3l3.1 1.2l1.6 -2.2zM385.9 289.9l.8 1.1l6.4 -1.9l.2 -.7l-2.4 -3l-2.6 .5l-1.4 1.1zM313.6 376l.8 -2.4l-4.4 -1.9l-1.9 3.7l.8 1.8l1.7 .4zM244.6 157.2l1.6 4.8l2.7 1l2.9 -.9l1 -1.3l.8 -5.6l-5.5 0zM49 205.5l.3 5.3l6 -3l-2.9 -4.3zM270.3 208l4.2 -4.2l-5.4 -4.8l-6.5 6.4l6.1 2.7zM381.9 317l-.4 -1.2l-.5 -.1l-4.3 2l-.1 1l1 1.9l1.9 1.2l1.3 .2l.3 -.3zM410.3 312.6l1.4 -1.4l-1 -3.2l-1.2 -.3l-1.5 1.2l1 2.8zM49.6 235.9l-2 -4.7l-2.8 -.1l-6.7 4.1l.2 1.3l3 3.1l3.7 .9l2 -1.2zM51 303.4l-.4 .7l3.6 5.4l2.8 -2.7l-.5 -1.5zM307.5 344.3l.5 -1.9l-2.3 -2.7l-2.2 -.7l-.9 .3l-.7 1.1l3.6 5.1zM402.2 400.2l-.6 -2.7l-2.4 -1l-2.1 1.6l1.6 3.4zM420.5 279.2l.5 .1l.2 -1.6l-2.5 -4.8l-2.3 .9l.1 2zM203.4 168.3l.2 -.7l-7.3 -6.4l-7.1 .7l2.7 16.6zM356.6 250.5l-.8 .6l.5 5.5l2.9 -.9l1.2 -2.8l-3.5 -2.3zM333.8 380.1l.2 -.1l.1 0l2.9 -.1l-1 -2.9l.3 -.2l-2.4 -.3l-1.3 3.5l.1 .1zM413.3 260.6l1 -.3l-.2 -2.1l-2.3 -1.8l-2.8 3.5zM256.9 388.9l-3.8 .4l-1 1.7l.3 3.2l4.8 4.1l1.6 -1l.3 -3.2zM238.4 260.6l-7.4 -.1l-1.1 1.7l-1.6 8.3l16.2 .5l2.4 -4.2zM415.7 289.5l2.4 .3l1.3 -1.6l0 -1l-1.2 -2.8l-2.3 -.4l-1.2 3.8zM387.7 237.9l1.5 -1.5l.2 -.8l-2.2 -1.6l-4.6 2l-.6 1zM500.4 231l-.6 .1l-.1 .2l-.4 4.9l2.9 -.7l1.2 -2.4zM90.9 176.3l1.8 -17l-11 2.1l7.3 15.6zM385.2 374.1l.8 -.1l2.6 2.2l1.6 -.3l-.3 -3.8l-1 -.7l-3.4 .6l-.2 .2zM289.6 254.7l2.4 4.9l5.4 -1.7l0 -1.4l-3.4 -4.1l-4.4 2.3zM65.8 286.8l1.5 -6.6l-1.4 -2.1l-3.6 0l-4 4.6l.2 1.1l4.2 3.5l1.1 .3zM426.8 294.4l-1.3 -2.7l-1.4 -.4l-4.2 3.3l-.2 1.1l6.5 .3zM386.2 350l4.9 -1.5l.6 -.9l-1.7 -2.4l-3.6 -.7l-.1 .1l-.6 1.2l.2 4zM181.2 156l.6 1.5l7.4 4.4l7.1 -.7l1.6 -6l-16.7 0zM285 161.4l1.7 -2.4l-.8 -3l-3 .2l-1.8 2.6l1 2.6zM444.4 236.7l-1.7 3.7l1.8 1.2l2.5 -2.5zM270.8 326.1l4.6 2.9l.9 -1.1l0 -4.9l-2.5 -.4l-3 3.5zM294.4 274.9l4.1 -2.1l.3 -1.3l-1.1 -1.3l-4.2 .7l-1.3 3.6zM274 318.2l1.5 -5.6l-.5 .1l-5.7 3.8l2.9 2.4zM239.5 228.4l-11.4 14l1.6 3.4l9.6 -.3l5.8 -7l-3.5 -9.2zM66.5 275.2l3.9 -4l-1.3 -4.5l-.4 -.1l-6.8 1.7l-.3 3.1zM52.4 203.5l2.9 4.3l.4 .1l8.1 -7.4l0 -.2l-1.8 -1.6l-9.8 1.9l-.2 .5zM333.4 334.9l-2.2 -4.1l-4.4 -.1l.2 5.1l3.2 1l1.2 0l1.7 -1.1zM394.3 352.9l.8 -5.9l-3.4 .6l-.6 .9l.9 4.5zM408.1 260.2l3.1 3.9l2.1 -3.5l-4.3 -.7l-.9 .3zM381.8 327.4l-2.4 2.7l2.1 2l2.6 -2.7l-.1 -.9l-.8 -.7zM357.2 199.5l-.3 .2l-.2 .5l.2 .5l1.2 -.9zM368.5 334.6l-1.6 2.4l.7 2.9l3.9 .2l-.8 -3.7zM409.5 307.7l1.2 .3l1.4 -.7l.4 -4l-3.8 0l-.2 1.2zM367.5 270.4l1.7 -.1l1.4 -2.2l-3.4 -1.9l-.5 .7zM285 358.8l-2.7 -4.1l-1.7 2.4l.4 3.3l1.3 1.6l1.4 -.5zM233.3 180.9l8.1 -5.8l-2.3 -8.4l-3.6 -2.2l-8.3 2.2l-3.1 7l8.8 7.3zM378.8 312.6l2.2 3.1l.5 .1l2.5 -2.1l-2.5 -3.2l-2 -.4l-.7 1.3zM369.6 187.1l-2.6 1.4l.3 5.6l2.1 -.1l1.2 -5.2zM308.1 342.4l2.4 -3.5l-.1 -.3l-1.8 -1.5l-2.9 2.6l2.3 2.7zM386.6 265.1l3 -1.5l.7 -1.3l-2.1 -3.2l-.8 -.1l-1.6 1l-.4 4.6zM282 363.8l-2.9 2.1l2.8 4.3l2 0l2.1 -1.5l.2 -.4l-.4 -1zM396.6 267.2l3 -3.3l-.1 0l-1.5 -2.9l-.5 0l-3.7 2.9l.2 1.4zM72.8 292.9l5.5 -1.1l1.4 -5.7l-3.2 -.3l-4.6 5zM285.9 181.6l3.7 6.9l2.7 -.7l.4 -5.2l-4.9 -1.6zM308.5 225.8l1.2 .8l6 -2.6l0 -4.6l-1.1 -.4l-1.1 .2l-5 6.5zM330.5 287l5 1l1.5 -2.7l-2 -.9l-5.1 2.3zM378.3 337.4l-.2 -3.7l-1.6 -1.2l-1.7 .4l-.3 2.5l.8 1.9zM391.1 248.1l-1.2 4.5l2.7 2l2.6 -1l1.2 -1.1l0 -.1l-2.4 -3.7zM265.8 317.8l-4.2 1.1l-1.1 4l4.9 1.3l1.6 -1.1zM433.4 318.4l6 .9l.1 -.1l-1.2 -6l-3.2 .5l-1.2 1.4zM331.8 266.7l1 5l2.9 -.5l3.3 -4l-2.9 -3.3zM285 311.7l2.5 .1l1.2 -1.8l-4.1 -4.9l-2.9 2zM310.2 346.1l-1.1 5.6l2.1 0l3 -2.2l-.7 -3.8zM414.4 326.1l1.8 5.5l1.9 -1.1l.1 -4.6l-1.7 -.6l-.7 0zM351.9 291.4l-2.7 -.6l-3.3 5.4l0 0l4.7 .8l1 -1.2l.6 -4.3zM42.2 156.4l3.3 -.8l0 -.4l-4.3 0zM365.7 216.1l2.4 -4.5l0 -.1l-2.7 -1.4l-1.2 5.2zM372.5 241.3l3 3.8l2.3 -2.6l0 -.3l-1.1 -3.3l-1.4 -.3l-.2 .1z"/>
<path fill="#ded86c" d="M73.6 254.1l-.3 0l-2.5 1.1l-1.2 1.6l1.5 7.7l.7 -.1l4.5 -3.2zM306.2 264.4l-3.3 -5.4l-3 .8l-.7 2.7l4.2 3.3l2.2 -.7zM474.3 232.2l4.2 .2l-1.9 -5.3l-.1 0l-2.7 2.7zM64.4 303.7l4.6 -2.1l-.9 -3.6l-5.3 .1l-.2 .4l.1 1.8zM121.8 265.8l-3.3 9.8l4.2 1.1l6 -9.6l-4.9 -1.6zM331.1 379.3l1.5 .7l1.3 -3.5l-.7 -1.7l-1 0l-2.7 2.1zM381.1 282.6l-1.3 -1l-2.3 0l-1.1 1.6l2.2 6.1l.3 .4l.5 .3l.2 -.1zM384.4 334.6l2.8 -1l.2 -.8l-3.3 -3.4l-2.6 2.7l0 .7zM365.8 188.5l-1.5 2.2l1.4 4.3l1.6 -.9l-.3 -5.6zM299.6 320.1l4.4 .9l.1 0l-1.7 -5.8l-3 -.3l-1.7 1.8zM368.5 344.1l-1.6 3.2l1.9 .8l3.2 -.9l-.4 -1.2l-2 -1.9zM294.4 286.5l3.7 .1l.2 -.3l.6 -2.6l-.9 -1.9l-2.4 -.7l-.3 0l-1.5 1zM132.3 164.1l-.4 -8.9l-15.4 0l-2.7 3.1l-.3 1.2l10.5 7.8l4.1 -.1zM516.4 215.3l-.9 .8l-.6 3.6l5.2 -.4l.7 -2.1l-1.3 -1.1l-2.7 -.8zM452.9 293.7l.7 -2.5l0 -.2l-2.6 -.7l-1.1 .2l-.3 .2l-.4 3l.8 1.1zM378.5 326.6l-1.2 1.9l.8 1.6l1.3 0l2.4 -2.7l-.9 -1.1zM262.6 205.4l-.8 .1l-1.8 1.8l.9 3.2l4.6 3.1l3.2 -5.5zM340.3 285.4l1.9 1.2l1.3 -5.5l-2.8 -2.1l-1.3 1zM456.5 293.5l-2.4 2.9l0 .2l2.3 .9l-.4 -1.5l.8 -2.5zM285.9 156l.8 3l3.5 .8l2.3 -2.2l0 -.1l-2 -.5l0 -2.4l-3.9 .4l-.1 .1l0 .1l-.1 0zM367.8 244.9l4 2.4l1.7 -1.2l-4.3 -4.1l-.7 -.1l-.8 2.6zM109.4 212.9l-3.4 -8.5l-1.4 -1l-9.4 4.2l4.6 12.9l3.5 .1zM236.3 223.9l-10.5 -1.9l-.9 .5l-3.7 5.9l2.6 10.3l4.3 3.7l11.4 -14zM386.1 220.7l-1.3 -1.9l-3.3 1.1l-1 2.2l4.8 1.2l.5 -.5zM287.8 181l4.9 1.6l3.2 -2.3l-1.2 -2.9l-4.5 -2.2zM41.1 211.9l-1.4 -3.4l-3.4 -2.7l-3.7 2l1.7 4.6l5.8 1zM395.4 358.3l1.6 0l.9 -4l-.3 -1.1l-2.9 -.1l.1 4.3zM344.5 319.6l-3.8 0l-.9 2.3l0 .3l1.8 1.8l.7 -.1l2.4 -2.3zM256.7 378.4l-1.5 -1.8l-4.9 0l-.7 1.7l1.6 2.3l4.1 1.1zM383.9 285.4l-.8 -2.6l-2 -.2l-1.5 7.3l1.5 -.4zM408.8 363.3l-2.7 1.3l.6 2.4l1.6 .2l.5 -3.9zM229.9 262.2l-20.1 -4l-2.2 1.4l2.5 9.2l12.3 4.7l4.3 -.1l1.6 -2.9zM351.8 341.9l.8 0l3 -2l-3.4 -2.1l-1.1 .8zM389.9 276.5l2.8 2.1l.1 0l1.6 -2.8l-1.6 -2.3l-.3 -.1l-1.8 .7zM247.1 396.1l-.8 1.5l.2 .2l8.8 3.8l1.9 -3.3l-4.8 -4.1zM412 286.6l.9 -3.8l-2.5 -.3l-1.9 3.7l3.1 .6zM62.1 260.3l-1.5 .4l-1.2 5.6l2.5 2l6.8 -1.7l-5.4 -6.2zM207.1 220.3l-.6 -6l-5.8 -2l-5.5 11.3l5.4 5.4zM320.7 300.5l2 2.5l3.7 -.5l1.1 -1.6l-2.9 -3.5l-2.2 .1zM447.2 269.4l-.9 3.7l3.6 .6l1.7 -4.7l-.4 -.4zM324.1 351.2l-.9 -.3l-3.6 4l2.5 2.7zM433.3 330.6l-1.1 4.2l.6 .9l.7 .3l2.5 -2l.2 -.1zM339.6 332.1l.2 -.5l-2.6 -4.6l-.3 -.1l-.4 .1l-1.2 1.3l-1 5.9zM408.7 303.3l-.4 -.5l-1.6 -.4l-3.5 2.8l1 2.6l4.3 -3.3zM386.9 277.4l-.6 1.5l.1 .8l2.3 1l4 -2.1l-2.8 -2.1zM485.3 227.1l1.1 -4.8l-2.2 -1l-2.9 .7l0 1zM268.9 263.7l4.1 -2.3l-.3 -3.3l-5 -3.7l-.1 0l-3.3 2.3l1.1 3.5zM356.8 363.5l.7 -.8l-3.9 -1.9l-1.5 .3l-1.6 2l1.4 2.7zM311.8 367.8l1.5 -2.9l-1.8 -2.6l-2.6 2.3zM359.8 293l3.2 -.9l1.4 -2.6l-.1 -.4l-2.1 -1.8l-3.4 1.6zM405.7 297.6l1.3 0l3.5 -3.9l0 -.2l-6.1 .7l-.1 .6zM280.1 386.4l2.6 -1.6l-.3 -.5l-1.6 -.1zM238.3 293l-3.3 -11.5l-5.9 -3.1l-2.4 5l1.1 16.9l7.2 -1.1zM311.4 290.1l-1.9 -2.5l-4.3 .9l0 .2l3 3.5zM255.2 405l0 -.3l-.1 -.6l-5.6 -.1l2.5 3.3z"/>
<path fill="#e4ba72" d="M46.5 165l-2.5 .5l-.4 .5l1.6 2.5l1.1 -.4l1 -2.5zM353.7 370.5l3.5 -.4l-.1 -1.6l-.4 -.3l-2.5 -.2zM308.1 375.4l-2.3 -.6l-3.5 2.9l5.7 -.7l.9 .2zM51 303.4l-.1 -2l-2 -2.3l-1 .1l2.1 4.1l.6 .8zM290 299.3l-3.3 .2l-1.4 2.1l0 .3l5.9 2.5l.4 -1.2zM348 342.1l3.4 .1l.4 -.3l-.7 -3.3l-1.8 -.3zM174.6 340.7l-15.3 -12.6l-2.6 1.6l-5 9.6l.7 2.4l5.1 4.1l7.1 .7z"/>
<path fill="#e4c06c" d="M409.7 403.5l.4 .4l3.6 1l2.8 -3.5l0 -1l-2.2 -.5l-4.6 3.4zM339 314.6l3.4 -2.5l-.7 -3l-4.5 2.1l0 1.8l.9 1.5zM383.9 227l-3.1 1.3l.1 2.9l2.2 .5l2.3 -.8l-.1 -3.5l-.2 -.2zM412.1 352.2l-1.2 1.1l-.7 2.4l.9 .8l.9 -2.5l1.1 -1.1zM331.4 240.8l5.6 -2.7l-7.6 -4.4l-2.5 4.3zM93.6 176l-2.7 .3l-1.9 .7l-4.1 4.2l3.2 7.6l16.5 6.1l1.3 -5.9l-.4 -1.1l-10.5 -11.5zM327.5 300.9l.6 -.1l3.1 -1.6l-.3 -4.1l-2.7 -1.4l-3.6 3.7zM394.3 329l-4.1 -1.7l-.3 .3l-.6 3.8l3.1 1l2.3 -2.5zM351.9 365.8l-1.4 -2.7l-4.1 -1.2l-.8 1.4l1.4 4.2l2.7 .9l2.2 -2.4zM313.4 310.6l-.9 3.9l1.4 .8l4.8 -2.4l-1.2 -3.7zM384.4 247.4l0 -.3l-3.3 -.9l-4.8 1.1l0 .2l3.1 3.3l3.9 -1.8zM65.7 319l-2.7 -2.4l-.3 -.1l-.5 1l1.1 .8l2.5 3zM307.4 364.6l-1.2 2.1l.8 2.1l3 2.1l1.9 -2.1l-.1 -1l-2.9 -3.2zM198.6 255.9l2 -10l-9.2 -9.9l-.4 0l-6.1 7.4l1 5.9l7.9 7.7zM336.3 357.9l.1 -2.7l-4.3 -.3l-.2 1.3l2.3 3.2zM406.8 328.8l-.2 2.8l5.3 .7l-2 -3.5zM332.2 374.8l1 0l2.3 -3l-4.2 -.8l-1.3 1.7zM383.1 337l.7 2l4.1 .6l1.6 -1.1l-2.3 -4.9l-2.8 1z"/>
<path fill="#e4c072" d="M348.2 278.7l-.7 1l-.1 5.8l5.3 -1.5l1.6 -1.9l-.7 -1.3zM441 272.7l-.2 -1.6l-5.5 -1.4l.8 4zM226.7 283.4l-15.7 8.1l2.7 3l12.9 6.4l1.2 -.6zM336 262.7l-1.9 -2.3l-5.9 1.9l2.4 4.2l1.2 .2l4.3 -2.8zM413.8 388.1l-.3 .3l-.4 6l.1 .3l3 -.1l-.2 -.6l-2 -5.9zM286.5 296.3l.2 3.2l3.3 -.2l1.2 -2.9zM327.1 306.6l-1.2 1.7l2.9 2.6l2.4 -1.7l.7 -3.4l-1 -.2zM244.5 316.9l2.2 2.7l1.9 -.4l6.9 -12.1l-1 -1.7l-3.9 -2.6l-4.2 1.1zM307.3 359.9l.6 -.3l1.3 -2.9l-1.7 -4.2l-1 -.2l-2.9 2.6l-1.3 2.5zM407.4 397.3l-2.1 -1.9l-2 .4l-1.7 1.7l.6 2.7l1.8 1zM384.6 307.9l-3.1 2.6l2.5 3.2l.5 0l3.1 -5l-.1 -.3zM416.6 250.9l1.7 .3l2 -2.9l-1.7 -.7l-2.7 1.4zM357.2 343.7l-2.4 .7l-1.5 2.2l3.2 3l1.8 0l.1 -.2l-.3 -4.7zM278.5 296.8l-6.1 3.5l1 2.4l2 .9l3.9 -3.2l1 -2.3l-.1 -.4zM71.8 205.6l6.6 -5.1l-5.7 -7.3l-8.9 7.1l0 .2l3.4 5zM263.7 403.4l-3.9 2.2l3.1 2.8l1.6 .1l1.2 -2.3l-.3 -1.1zM365.6 195l-3.3 -.9l-2.2 2.3l.9 1.1l0 0l4.5 -1.4zM256.5 323.4l-.7 5l1.8 2.2l3.3 -3l-1.3 -4.1zM320.5 343.3l2.1 .5l2.5 -.5l.4 -.7l-1 -4.2l-3.4 .1l-1.1 4.2zM425.9 317.5l.2 -.6l-3.1 -2.4l-2.7 2l-.5 1.2l2.9 1.2zM158.9 232.7l-.3 -1.1l-14.5 -3.1l-1.2 2.9l2.2 12.8l6.5 .1l6.4 -7.5zM330.5 199.4l-4.6 5.6l2.4 4.1l8.3 -3.7l-.7 -6l-1.2 -1.1zM326.2 380.3l1.4 -3.9l-4.5 -2.5l-.7 .9l-.7 3.2l.8 2.2zM512.6 220.5l-.7 -.5l-1.2 .2l-1.3 4.2l3.3 -.4l.2 -.2zM394 265.3l-.2 -1.4l-2.7 -1.6l-.8 0l-.7 1.3l1.5 3.7zM273.9 350.4l3.9 -5l-.5 -2.2l-6.9 1.9l1.1 2.5zM370 303.6l-1 2.4l.5 2.1l.8 .4l3.9 -2.7l-.9 -1.7l-1.9 -1.2zM250.6 302.8l1.4 -5.8l-.3 -.6l-9.8 -4.7l-3.6 1.3l-3.3 6.2l.5 .4l10.9 4.3zM125.7 310l-7.1 -14.5l-12.6 2l7 18.9l7 -.8zM242 357l-3.4 .3l-5.3 7.3l-.1 1l1 1.3l3.4 0l6.7 -5.1zM376.3 274.8l-2.3 4l2.7 1.6l1.5 -4.6zM345 313.9l-2.6 -1.8l-3.4 2.5l1.7 1.5l4.8 0zM390 345.2l2.8 -4.2l-.3 -1.2l-2.7 -1.2l-.3 -.1l-1.6 1.1l-1.5 4.9zM285 311.7l-2 .9l-2.9 2.8l1.3 2.6l3.6 .3l2.3 -1.6l.4 -4.3l-.2 -.6zM351.2 350l1.3 1.7l1.1 0l2.9 -2.1l-3.2 -3l-1.2 0zM292.7 325.7l3.1 -2.2l.1 -.3l-2.1 -3.4l-.6 -.2l-2.9 .8l-.6 .9l-.2 3.7zM151.6 198l-2.9 -7.7l-16.6 4.6l1.2 9.2l4.7 4.5zM342.3 323.9l-.7 .1l-1.2 1.9l2.6 2.8l1.6 -1.8zM295.4 376.5l-2.4 -2l-1.2 4.8l.7 .6l3.5 -.9zM350.4 272.8l.8 -.3l-.5 -6.5l-2.7 .6l0 4.2zM274.7 359.5l-3.2 -1.2l-1.7 .6l-1.4 2.2l.2 1l4.8 1l1.5 -2.3zM318.8 272.3l.7 -2l-.9 -2.6l-.8 -.7l-2 .2l-2.1 2l1.1 2.2zM424.7 311.8l-1.7 -2.8l-1.1 -.4l0 0l-1.5 3l3 1.6zM313.3 305.9l-1.7 2.5l.1 .8l1.7 1.4l4.1 -1.4l.7 -1.2l-.9 -1.8zM339.9 332.5l-.3 -.4l-5.3 2.1l-.9 .7l-.3 .8l.3 .3l7 2.7zM289.6 291.4l-3 2.3l-.1 2.5l0 .1l4.7 .1l.2 -.1l-.2 -3.4l-.9 -1.6zM405.9 368.1l.8 -1.1l-.6 -2.4l-.1 -.1l-3.5 .2l-.8 3l1 .8zM462.6 239l4.8 1l1 -1.1l-1.9 -3.3l-3 -.1zM391.8 356.6l-1.1 1.2l.4 2.9l2.2 .3l2.1 -2.7l-.6 -.9zM345.3 351.6l.4 1.1l2.5 .3l.6 -.5l-.3 -2.8l-1.9 -1.6l-.4 .1zM273.8 322.6l2.5 .4l1.3 -1.3l-1.6 -2.8l-2 -.7l-1.8 .7l-.1 1zM279.9 165.3l2.6 2.1l3.6 -1.9l.6 -1.6l-1.7 -2.5l-2.9 0l-2.4 3.5zM416.3 255.6l-2.2 2.6l.2 2.1l1.6 1.1l2.3 -.7l.1 0l-.5 -3.8zM400.9 256.8l-.4 1.9l3.3 1.4l2.9 -1.3l-.1 -.8l-1.6 -2.1zM42.6 171.3l1.6 1.6l2 .6l1.4 -1.5l-.3 -.8l-2.4 -1.7zM385.3 372.2l-3.5 -.9l-2 1.1l.3 1.4l2.5 .8l2.6 -.5zM246.8 345.5l-4.8 -4.5l-9.7 6.8l3.5 3.2l10.6 -1.4zM381.4 262.9l0 -2l-3.4 -1.9l-1.2 .1l-1.2 1.3l.1 1.5l3.6 3.8zM297.5 229.8l-3 -2.1l-2 .8l-1.9 3.7l5.1 1.9l1.8 -.2l.6 -.6zM289.2 374.5l-3.2 -5.8l-2.1 1.5l.4 3.5l3 2.9zM180.5 316.2l-16.9 -.8l-.4 6.4l13.4 7.1l4.3 -10.2zM358.9 260.6l3.2 -1.7l-2.9 -3.2l-2.9 .9l-.7 .6l1.8 2.9z"/>
<path fill="#e4c66c" d="M350.1 258.9l-6.4 1.5l-.2 .2l1 3.2l.6 .2l5.4 -2.8l.4 -1.2l0 -.3zM371.5 353.7l.7 -.2l1.2 -1.6l.1 -1.3l-4.6 0l-1.4 1.6l.1 .2zM393.7 300.4l2.1 2.8l1.8 .4l1 -1.6l-.3 -3.5zM375.2 204.6l.6 .5l.6 -.2l1 -1.1l-.5 -5.4l-2.6 1.5l-.7 .8zM221.5 333.4l8 3.1l2 -2.1l-.2 -7.5l-9.3 -.1l-1.8 2zM366 245.1l-3.1 3.8l.6 1.5l1.4 0l2.9 -1.8l0 -3.7l-.1 -.4zM56.4 237.6l.8 5.8l8.1 1l1.5 -.6l.8 -.7l.6 -4.8l-6.2 -3zM421.9 248.7l-.7 -.4l-.5 -.1l-.4 .1l-2 2.9l.8 2.1l2.7 .9zM406.6 331.6l-2 2.2l5 1.8l2.6 -3l-.2 -.2l-.1 -.1zM308.6 284l.1 -1.2l-3.8 -2.5l-1.4 4.2l1 1.5zM130.4 223.2l-3.1 6.3l8.5 7.3l7.1 -5.4l1.2 -2.9l-.1 -.1l-11 -7.1zM364.8 346.4l0 -2.5l-1.7 -1.2l-1.2 .5l-.4 .7l.7 2.1zM352.3 225.5l-.2 .8l.5 .8l.2 -1.7zM419.2 267.1l-.3 -.6l-3.1 -1.2l-.3 4.2l1.7 .1zM409.1 409.6l.1 .7l1.7 1.6l2.4 -.9l.9 -2.5l-3.7 -.7zM320.3 337.3l2 -3.5l-.3 -.9l-3.8 .4l-1.5 2.1l.8 1.1zM272 377l3.4 -3.1l-1.4 -3.6l-.8 -.4l-3.7 4.4l.6 2.2zM349.5 322.8l-2.2 -5.7l-1.2 -.2l-1.6 2.7l.2 2l2.2 2zM249.6 378.3l-3.9 1.8l.5 4.2l1.6 1.6l2.7 0l.7 -5.3zM340.8 342.4l1.8 1.2l4.5 -.4l.3 -.8l-2.6 -3.3l-1.2 -.6l-2.5 1l-.4 1.1zM273.4 251.4l-1.4 -.6l-4.3 3.6l5 3.7l3.6 -2.6zM335 284.4l-.6 -2.7l-4.7 -1.4l-.4 .3l0 5.9l.6 .2zM305.8 374.8l-1.6 -1.4l-3.2 .3l-1.4 1.2l.8 3.1l1.9 -.3zM291 262.4l.5 -1l-6.4 -1.1l-2.4 4.1l1.5 1.5l2.9 .7zM299.2 275.6l1.3 1.3l4.6 -4.3l-2.7 -1.4l-3.6 .3l-.3 1.3zM404.5 299.9l-1.4 .2l-1.2 1.9l1.1 3.1l.2 .1l3.5 -2.8zM174 260.4l-.4 -8.5l-4.2 -2.2l-2.6 .8l-6 6.6l12.5 3.9zM209.5 310.7l-.4 -.2l-.9 0l-10.3 10.5l.1 2.1l10.6 3.2l3.3 -6zM379.5 321.8l-2.1 3.3l1.1 1.5l2.4 -.3l.1 -3.9l-.2 -.4zM269.5 374.3l-3.6 -3l-3.8 .7l.1 2.3l4.6 3.8l2.6 -.9l.7 -.7zM409.3 255.4l2.4 .8l.9 -2.1l-2.7 -2l-1.2 .5zM330.2 336.8l-3.4 5.2l3.6 .5l1.1 -1.9l-.1 -3.8zM271.5 211.2l-1.2 -3.2l-1.6 .1l-3.2 5.5l.1 .2l1.8 2l1.6 .4zM387.4 272.6l-1 3.1l.5 1.7l3 -.9l.8 -2.4l-2.8 -1.7zM320.6 320.8l-1.3 2.6l.4 2.1l7.3 -.7l1.6 -1.8l0 -.3l-1.3 -2.2zM240.5 377.8l5.2 2.3l3.9 -1.8l.7 -1.7l-1.1 -3.9l-5.2 1.2zM326 279.5l3.3 1.1l.4 -.3l2.3 -3.8l-.7 -3.1l-2.5 -.9l-2.8 1l-.9 4l.5 1.6zM407.6 348.9l0 -3.9l-4.2 .7l-1.3 3.5l1 .8l3.5 .3zM393.3 380.4l-.6 -3.4l-2.5 -1.1l-1.6 .3l3.4 2.8l1.1 1.4zM303.5 339l1.5 -3.7l-1 -1l-4.4 .5l-.2 .3l3.2 4.2zM242.7 187.8l4.6 -2.8l-1.1 -5.6l-3.7 -4.1l-1.1 -.2l-8.1 5.8zM416.4 273.8l2.3 -.9l.3 -.5l-1.8 -2.8l-1.7 -.1l-1 .7l-.5 1l1.7 2.3zM314.1 334.7l-.3 -3.7l-2.9 -2.4l-.8 .1l-.8 5.5l4.3 .6l.4 -.1zM316.7 370.1l-.4 2.8l1.1 1.4l5 .5l.7 -.9l.3 -2zM287.7 358.8l-2.7 0l-1.3 2.7l3.6 .6l1.9 -1.1l.2 -.8zM305.2 288.5l-.8 -1.3l-3.1 1l-.4 1.8l2.1 2.2l2.2 -3.5zM253.9 343.2l-7.1 2.3l-.4 4.1l.9 3.8l3.1 2.1l6.4 -2.5l.8 -1.1l-2 -7.6l-.6 -.6zM386.9 287l1.4 -1.1l-3.3 -4.1l-1.9 1l.8 2.6zM317 303l.3 3.2l.9 1.8l4 -.5l.5 -4.5l-2 -2.5l-2.5 .6zM388.7 280.7l2.3 4l3.4 -3.8l-1.6 -2.3l-.1 0zM449.9 314.9l1.7 -.5l.6 -2l-1.4 -1.3l-2.2 .9zM294.3 346.2l-2.9 -.9l-2.3 4.2l.3 1.1l3.6 1.5l2.6 -.9l.7 -.9zM292.1 268.9l1.2 -1.8l-2.3 -4.7l-3.9 4.2l1 1.6zM410.4 266.5l.9 -.5l-.1 -1.9l-3.1 -3.9l-1.5 3.7l.1 .4zM97.8 321.2l1 6.1l8.7 1.6l1.3 -9.5l-7.6 0l-2.7 1.1zM228.3 270.5l-1.6 2.9l2.4 5l5.9 3.1l6.9 -2.3l2.5 -3.7l.1 -4.5zM99.8 220.5l-2.5 2.9l2.3 6.7l4.9 2.7l7 -2.5l0 -.9l-8.2 -8.8zM42.1 157.2l1.8 2.7l3.5 -1.8l-.9 -1.8l-1 -.7l-3.3 .8zM133 221.3l11 7.1l5.4 -12.1l-11.5 -5.4l-4.5 7.7zM488.4 236.3l-3.9 -2.4l-.5 .4l.5 2.7l3.5 3.9l.1 0l.3 -.6zM163.2 212l-.4 -.3l-13.4 4.6l-5.4 12.1l.1 .1l14.5 3.1l5 -10.3zM403 305.1l-4.8 .5l-.3 1.6l5.5 2.9l.8 -1.2l0 -1.1l-1 -2.6zM410.3 312.6l-1.3 -.9l-3.8 .9l.9 2.4l.6 .3l3.6 -1.9zM357.1 333.6l5.1 -1.3l-.3 -.9l-3.8 -1.7l-1.8 1.2zM341.1 339.5l-.7 -.8l-7 -2.7l2.4 4.7l4.9 -.1zM272.1 243.6l1.3 -.9l-.2 -4.1l-5.1 -5.2l-3.6 2.9l.5 4.3l6.4 3zM55 285.8l-3.1 -1.2l-1.8 .1l-.3 .3l2.3 4.7l2.4 -1.9zM215.8 343.1l5.7 -9.7l-1.3 -4.6l-10.2 -.2l-1.5 14.2l3.1 2.6zM423.3 255.8l-5.5 1.1l.5 3.8l5.4 -2.3l-.2 -2.5zM343.6 338.5l1.2 -3.3l-4.9 -2.7l.5 6.2l.7 .8zM281.7 307.1l2.9 -2l.2 -2.1l-3.9 .8l-.9 2.4l.4 .6zM289.2 361l1.5 1.9l1.9 .4l3.6 -2.2l-.8 -1.7l-1.7 -.6l-3.7 .8l-.6 .6zM271.4 286.4l-2.8 -3l-4.5 .9l3.4 5.4zM380.1 373.8l-.6 1.3l.1 0l.4 -.1l2.6 -.4zM369.9 358.7l2 1l1.3 -3.2l-1 -3l-.7 .2l-2.6 3.3zM396.8 272.1l3.9 .1l.4 -1.6l-4.5 -3l-1.2 1.7l.5 2.1zM368.1 322.8l3.1 -2.8l-.8 -2.6l-2.4 -1.3l-2.6 1.1l-.5 .9l1.6 4.4l.9 .3zM503 228l-2.6 3l3 2.1l2.1 -4zM359.9 349.3l-.1 0l-1.4 .1l-.1 .2l.3 3.5l0 0l3.8 1.9l1.1 -.6l.6 -1.6zM250.6 368.5l.7 0l6 -4.7l.1 -1.3l-6.6 -4.4l-2.5 5.7l.5 3.1zM357.2 370.1l.8 -.1l3.5 1.3l-.6 -4l-3.8 1.2zM305.8 329.8l.3 -.5l-2.9 -1.6l-1.8 .5l-.2 3.1l2.3 .2zM366.2 229.2l1.3 1.8l3.7 -1.1l.3 -2.5l-5.6 .1zM328.4 365.1l-.8 -.9l-4.1 3.7l.8 2.4l1.1 0l3 -1.6zM373.1 266l-1.4 -1.1l-4.4 -.3l-.1 1.6l3.4 1.9l2.4 -.7l.2 -.8zM420.5 264.3l-1.6 2.2l.3 .6l2.4 2.1l3.1 -2.9l-3.8 -2.1zM283.9 370.2l-2 0l-1.9 1.4l-.8 2l2.6 1.9l2.5 -1.8zM369.5 308.1l-.5 -2.1l-3.7 -.4l-2.6 2.2l1.1 1.8l2.1 .5zM393.8 263.9l3.7 -2.9l-3.6 -1.3l-2.8 2.6zM371.5 340.1l.2 .2l1.9 .2l1.7 -3.2l-.8 -1.9l-3.8 1z"/>
<path fill="#e4cc6c" d="M318.6 267.7l5.5 -1.6l-.2 -3.9l-4.5 0l-1.6 4.8zM368.5 371.9l-2.1 -3l-.2 0l-2.9 3.1l2.7 1l1.8 .9zM411.2 264.1l.1 1.9l.9 .1l3.3 -1.1l.4 -3.6l-1.6 -1.1l-1 .3zM300 253l-2.6 3.5l0 1.4l2.5 1.9l3 -.8l.6 -.8l.5 -3.3zM357.2 270l0 -2.2l-.5 -.8l-2.1 -.9l-.3 .1l-.6 4.5zM430.6 289.3l-2.1 1.4l1.3 2.5l1.3 -.5l.7 -2.8zM254.8 286.7l3.9 4.2l2 -1.2l2.8 -5.6l-.3 -.5l-.4 -.1l-7.1 1.3zM265.3 380.9l.2 1.5l3.1 1.1l1.4 -.4l-.6 -5.9l-2.6 .9zM340.6 240.5l-3.4 -2.4l-.2 0l-5.6 2.7l-1.6 5.2l2.1 2.5l1 -.4zM406.6 374.9l1.6 -2.2l-1 -.8l-4 -.6l-1.5 2.1l-.2 .6zM132.1 194.9l16.6 -4.6l.2 -2.6l-4.1 -6.1l-9.5 -1.6l-2.3 2l-2.1 12.1zM285.2 346.6l-1.3 1.1l2.6 4.5l2.9 -1.6l-.3 -1.1l-2.5 -3zM366.5 322.5l-3.5 2.2l-.3 2.1l3.3 1.1l1.2 -.5l.2 -4.6zM274.2 379.5l3.7 -2.7l-.3 -2.2l-2.2 -.7l-3.4 3.1zM359 339.7l.3 -.3l-.3 -2.2l-2.2 -2.2l-1.2 1.2l.1 3.7l1.6 .8zM219.9 156.7l3.7 1.8l5.3 -3.3l-8.8 0zM393.3 380.4l.5 .5l3 .5l.4 -.2l2.7 -5.4l-3.4 -1.7l-1.8 .6l-2 2.3zM452.2 234.1l1.7 2.4l1.2 .1l2.2 -1.2l.6 -1l-2.9 -3l-2.4 .6zM265.4 324.2l-4.9 -1.3l-.9 .6l1.3 4.1l3.4 .8zM263.5 398.9l.2 4.5l1.7 1.7l2.3 -2.3l.1 -1.1zM273.3 175l2.2 -2.5l-2.4 -3.1l-6.6 2.6l0 .5zM95.5 317.9l3 2.6l2.7 -1.1l-4.3 -5.1zM336 363.1l4.4 -3.9l.1 -.2l-.6 -.4l-3.6 -.7l-2.1 1.5l0 2.6zM464.9 272.3l.8 1.4l2.7 -.1l.8 -.6l-1.3 -3.7l-2.8 2.2zM307.9 328l-4.4 -5.2l-.5 .5l.2 4.4l2.9 1.6l1.9 -1.2zM380.8 353.3l.7 3.8l3.3 .3l1.7 -1.7zM389.9 327.6l.3 -.3l.3 -1l-2.8 -4.5l-1.7 1.9l.4 3.4zM392.7 377l2 -2.3l-2.1 -3.3l-2.7 .7l.3 3.8zM270.5 296.4l-7.6 1.5l0 1l2.3 3.9l6.9 -2.8zM382.6 360.6l-1.6 -2.1l-2.3 2.2l1 2.4l3 -1.3zM287.8 335.2l-.1 -.6l-4.3 -2.3l-.7 0l-.9 .7l0 3.2l4.6 3.2zM328 376.3l1.5 .6l2.7 -2.1l-2.2 -2.1l-.6 .1zM375.9 299.8l.3 1.5l1.4 .8l2.9 -1.7l-2 -1.8zM350.7 266l.5 -.4l-.7 -4.4l-5.4 2.8l1.9 2.3l1 .3zM271.9 386l.1 -2.4l-2 -.5l-1.4 .4l-.8 4.3l.9 1.6l.4 -.1zM388.3 285.9l2.6 -.5l.1 -.7l-2.3 -4l-2.3 -1l-1.4 2.1zM368.4 333.1l-1.9 -.8l-4.3 .1l0 1.9l1.5 2.9l3.2 -.2l1.6 -2.4zM379.5 310.1l-.1 -.3l-4.2 -1.5l-1.1 2.9l4.7 .2zM342.5 221.6l1 -2.9l-.1 -.2l-2.4 -1.6l-2 -.1l-2.2 .6l-1.2 1.7l2.1 6.2zM268.4 323.5l2.4 2.6l3 -3.5l-1.7 -2.7zM372.9 289.6l-2.9 .2l-1.5 2.4l.1 .3l.2 .2l4.2 -.3l.3 -2.4zM322 169.7l-.2 .5l.1 1.8l3.6 2.2l2 -1.3l2.2 -1.8l-.8 -1.9l-3.9 .3l-1.4 -.2zM327.7 268.2l2.9 -1.7l-2.4 -4.2l-1.8 -.6l-2.5 .4l0 .1l.2 3.9l.5 1.1zM374.5 335.4l.3 -2.5l-3.3 -2.5l-3.1 2.7l.1 1.5l2.2 1.8zM69.6 256.8l1.2 -1.6l-3.7 -4l-5.2 1.6l1.3 1.9l6.1 2.1zM262.4 167.9l-2.3 -4.6l-4.4 2.8l.8 4.8l1 -.1zM295.6 351.2l1.8 4.5l4.8 1.8l.1 -.1l1.3 -2.5l-6.9 -4.8l-.4 .2zM232.2 347.8l-5.5 5.7l6.6 11.1l5.3 -7.3l-2.8 -6.3l-3.5 -3.2zM387.1 355.7l4.5 -2.4l-5.1 -2.8l.4 5.1zM246.2 384.3l-.5 -4.2l-5.2 -2.3l-4.8 .4l-.2 1.6l.5 .2l3.9 6.5zM369.6 257.9l-2.4 -2.8l-2.9 .3l-1.4 3.7l2.1 2.3l1 .2l3.5 -2.5zM235.5 299.6l-.5 -.4l-7.2 1.1l-1.2 .6l-.7 2.3l5.2 13.8l7.8 -2.1zM290.9 344.8l.5 .5l2.9 .9l.2 -.5l-.6 -4.9l-2 -.5l-1.3 .7zM383.6 366.5l3.7 -.3l-.4 -3.6l-3.3 0l-.6 3.1zM268.7 367.4l-1.4 -2.5l-3 -.3l-3.3 2.4l.4 4.3l.7 .7l3.8 -.7zM404.9 263.6l1.7 .3l1.5 -3.7l0 0l-1.4 -1.4l-2.9 1.3l-.4 1.5zM352.7 284l-5.3 1.5l-1.6 2.4l.2 .3l3.2 2.6l2.7 .6zM346 288.2l-2.9 5.5l1.3 2l1.5 .5l3.3 -5.4zM328.3 361.2l-.8 1.8l.1 1.2l.8 .9l2.8 .6l1.8 -3.4zM416.5 400.4l0 1l1.7 2.1l0 0l-.2 -1.5l-.6 -2.5zM356 298.4l1 -3.8l-3.9 -3.1l-.9 0l-.6 4.3l3.4 2.8zM411 292.3l1.3 -.1l3.4 -2.7l-1 -1.7l-2.7 -1.2l-.4 .2l-.8 5.1zM447.6 247.2l-1.7 3.3l3.5 2.2l1.2 -3.4l-.1 -.4l-2.1 -2zM125.6 254.6l-3.3 1l-1.9 3.4l.3 .5l3.9 .7l1 -.8zM441.3 283.9l-.5 .4l-.1 .5l1.2 2.1l3.3 1.6l1.1 -1.7l-.5 -2.2zM341.8 207.8l.8 1.4l2.2 .8l1.6 -.8l-.4 -.2l1.9 -2.2l-.5 -.7zM269.4 377.2l.6 5.9l2 .5l.2 -.1l2.1 -3.3l-.1 -.7l-2.2 -2.5l-1.9 -.5zM267 323.1l-1.6 1.1l-1.1 4.2l.7 1.2l.3 .1l3.5 -1l2 -2.6l0 0l-2.4 -2.6zM410.2 355.7l-2.3 .6l-1 1.1l.1 1.9l.6 .5l2.2 0l1.3 -3.3zM385.9 289.9l1 -2.9l-3 -1.6l-2.8 4.1zM309.8 189.6l3.8 7.5l1.1 -.2l1.7 -2.9l-.4 -2zM427 339.5l.1 -3.3l0 -.1l-3.8 2.5l1.8 2.6zM39.8 160.3l.2 1.7l-.2 .2l1.1 1.5l2.8 -2.2zM272.7 166.6l.4 2.8l2.4 3.1l.5 0l3.9 -7.2l-.2 -.4l-.1 0zM267.2 334.8l1.3 -.8l1.6 -2.9l-1.3 -2.4l-3.5 1zM411 344l0 0l-2.8 .2l-.6 .8l0 3.9l4.2 1.3l1.2 -3.2zM469.5 239l1.6 3.6l1.9 -.2l1.1 -1.6l-.7 -1.9l-2.6 -.8zM266.2 273.3l-2.5 2.5l1.2 3.3l4 .4l.6 -1.7l-.8 -2.5zM407.5 275.2l1.4 -.5l-.7 -5.4l-2.7 .1l.4 4.4l1 1.2zM246 321.8l5 6.5l4.8 .1l.7 -5l-4.8 -3.9l-3.1 -.3l-1.9 .4zM345.8 334.4l-1 .8l-1.2 3.3l1.2 .6l4 -1.3l-.5 -3.5zM40.9 171.2l-.4 1.3l1 5.1l.5 .2l1.2 -.8l1 -4.1l-1.6 -1.6zM275.2 334.8l4.6 4.2l2 -2.8l0 -3.2l-5.8 -.8l-.6 1.3zM312.7 359.4l0 1.4l6.1 1.3l.3 -.2l-3.3 -6.1l-.2 0zM300.9 362.5l1.8 4.2l3.5 0l1.2 -2.1l-1 -1.9zM276.1 357.4l-1.4 2.1l.2 1.3l2.1 .8l4 -1.2l-.4 -3.3zM341.6 274l-1.9 -.3l-1.8 .7l.1 1.2l2.9 2.8l.6 -.8zM250.8 358.1l6.6 4.4l2.5 -3l-3.1 -6.5l-6.4 2.5zM402.1 339.1l-.7 2.4l5.9 1l-.4 -2.5zM88.5 234.4l11.1 -4.3l-2.3 -6.7l-6.2 .1l-1.4 1.2zM351.2 333l-1.6 .3l-1.3 1l.5 3.5l.5 .5l1.8 .3l1.1 -.8l.4 -1.6l-1.4 -3.1zM396.9 382l-.7 3.4l.6 3.3l0 0l3.2 -1.7zM98.3 307.7l3 -7.8l-9.3 -3l-4.8 4.4l-.6 7.6l3.9 2.1l5.1 -1.3zM351.4 342.2l-.1 3.9l.8 .5l1.2 0l1.5 -2.2l-2.2 -2.5l-.8 0zM403.5 387.5l3.3 -3l.5 -1.1l-3.4 -3l-2.6 1.5l.5 5.1l1 .6zM286.4 339.4l-4.6 -3.2l-2 2.8l-.2 1.8l.4 .2l6 -.6l.5 -.3zM407.3 342.5l-5.9 -1l-1 1.4l3 2.8l4.2 -.7l.6 -.8zM262.8 347.3l3.4 -1.3l1.6 -2.2l-1.8 -2.6l-5.5 3.4zM333.1 291.2l3.1 -1.6l-.7 -1.6l-5 -1zM56.2 167.5l-1.1 3.6l1.5 2l7.1 .7l-.4 -2.1zM345.9 355.9l2.7 -.2l-.4 -2.7l-2.5 -.3l-.7 2.3zM334.7 317.9l-3 -3.7l-2.3 0l-2.4 2.5l.3 3.8l1.3 2.2l3.3 -1.3zM303.9 371l.3 2.4l1.6 1.4l2.3 .6l1.9 -3.7l0 -.8l-3 -2.1zM378.8 337.7l-.5 -.3l-3 -.1l-1.7 3.2l.8 1.1l2.1 1.2l2.7 -.2l.6 -.6zM290 359.6l.4 -3.9l-3.9 -.6l1.2 3.7l1.7 1.4zM82.2 270.6l0 -1.6l-10.4 -4.6l-.7 .1l-2 2.2l1.3 4.5l2.9 1.7zM228.3 341.8l1.2 -5.3l-8 -3.1l-5.7 9.7zM419.7 295.7l.2 -1.1l-1.8 -4.8l-2.4 -.3l-3.4 2.7l6.5 5zM323.1 314.5l1 -5.9l-1.9 -1.1l-4 .5l-.7 1.2l1.2 3.7l2 2.1zM397.5 339.8l1.4 -2.8l-3 -1.6l-2.9 4.1zM398.2 359l3.1 -2.3l-3.4 -2.4l-.9 4zM490.7 222.8l-.1 3.3l5.7 1.7l0 0l1 -2.3l-.3 -.8l-4.7 -2.3zM349.8 370.4l-.1 -2l-2.7 -.9l-3 2l.1 1.1l2 1.4l3.2 -.8zM392.4 332.4l.5 .9l2.9 1.7l2.3 -3.9l-.4 -.5l-3 -.7zM287.4 287.3l-2.6 .7l-.1 1.4l4.9 2l.7 -.1l.1 -.4zM358.3 349.6l-1.8 0l-2.9 2.1l1.6 3.3l.1 0l3.3 -1.9zM427 339.5l-1.9 1.7l-.1 1.6l1 -.8l2.1 -1.7zM418.4 405.3l-.2 -1.8l-1.7 -2.1l-2.8 3.5l1 2zM365.8 347.6l-1 -1.2l-2.6 -.4l-2.4 3.3l.1 0l5.5 -.9zM366.2 368.9l.2 0l2.6 -3.1l.1 -.2l-3.1 -2.5l-2.9 3.9zM380.8 352.7l0 .5l0 .1l5.7 2.4l.4 -.1l-.4 -5.1l-.3 -.5l-.3 -.2l-3.3 1zM244.6 157.2l3.5 -2l-5.8 0zM343.4 303.3l-.6 -3.2l-1.2 -.5l-2.8 1.6l-.4 1.7l3.9 2.5zM403.2 371.3l4 .6l-1.3 -3.8l-3.2 .4zM390.7 274.1l1.8 -.7l-.9 -4l-.9 -.6l-1.2 .3l-1.6 3.3zM355.4 257.2l-2.7 -3.8l-2 .2l-2.1 1.9l1.5 3.4l.8 .8zM149.9 275.6l-14.9 5l-3.6 3.3l-.6 3.3l2.1 2.3l15.7 4.2l2.8 -3.5l2.8 -10.3zM414.2 416.1l-.9 -.1l-2.5 1.4l3.2 .6l.4 -.2zM239.3 245.5l-9.6 .3l-.9 2.7l2.2 12l7.4 .1l5.8 -7.6l-.9 -3.4zM45.9 210.8l-4.8 1.1l-1 1.5l0 1.9l4.2 4.9l2.8 1l2.2 -6.8l-.9 -2.7zM372 347.2l2.2 1.8l2.3 -6.2l-2.1 -1.2l-2.8 4.4zM262.4 337.3l-3 -3.3l-1.7 -.8l-4.4 2.5l.6 7.5l1.1 .5zM352.7 284l-.8 7.4l.3 .1l.9 0l3.5 -2.9l-.8 -5.8l-1.5 -.7zM336.2 289.6l2.5 1.7l3.7 -4.4l-.2 -.3l-1.9 -1.2l-2.6 -.3l-.7 .2l-1.5 2.7zM374.2 349l-.7 1.6l-.1 1.3l3.6 3.1l3.8 -1.8l0 -.5l-4.1 -3.5zM266.2 346l-3.4 1.3l-1.1 4.2l3.3 1.4l.9 -1.7zM448 301.9l-3.3 -1.5l-2.4 1.6l.2 1.4l4.3 -.1zM395.9 335.4l-.1 -.4l-2.9 -1.7l-3.1 5.3l2.7 1.2l.5 -.3zM33.5 177.5l4.9 1.8l2.5 -1.6l-4.4 -2.7l-3 .3l-.3 .7zM387.4 226.9l-2.1 .5l.1 3.5l.1 0l6.2 -1.2l.1 -.4zM345.5 255l-5 -1.5l-.4 .3l.6 5.8l2.8 1l.2 -.2zM239.9 386.5l2.1 3.5l.1 .3l3.9 0l1.8 -4.4l-1.6 -1.6zM387 319.8l-5.1 -2.8l-.8 4.7l6 -1.7zM378.1 333.7l.2 3.7l.5 .3l1.9 -1.1l-.2 -3zM380.1 345.9l-3.4 3.3l4.1 3.5l1.8 -1.9l-2.3 -4.8zM49.3 257l3.1 -1.6l.6 -3.7l-3 -2l-4 2zM349.8 370.4l-.5 .8l.7 -.2l1.2 -.1zM359.4 264.1l-2.7 2.9l.5 .8l3.1 -.2l.7 -2.9z"/>
<path fill="#e4d266" d="M107.4 174.1l4.7 -14.1l-8.2 -.5l-10.3 16.5l1.4 .4zM412.2 351.5l-.1 .7l1 .7l2.4 -2.4zM327.6 364.2l-.1 -1.2l-6.8 .2l1.4 3.3l1.4 1.4zM220.7 319l1.3 7.8l9.3 .1l.7 -.9l-1.1 -8.7zM449.9 301l0 0l-.8 -4l-2.3 -.3l-.4 1.7zM385.8 222.8l-.5 .5l-.2 3.9l.2 .2l2.1 -.5l2.2 -2.9l0 -.1zM267 161.3l1.6 2.3l1.6 .2l4.4 -3.9l-2.2 -4.7l-3.4 0l-2 4.7zM129 245.3l-12.8 -9.1l-.8 2.7l2.6 5.9l7.7 3.6zM164 158.4l1.9 -3.2l-8.2 0zM476.3 258.7l.1 .7l1.5 -1zM327 224l-2.7 -4.9l-1 .3l-3.7 6l1.9 3.7l3.9 -1.4l1.6 -3.1zM320.3 204.7l2.2 -1.2l-.6 -1.7l-7.2 -4.9l-1.1 .2l-2.1 1.6l4.6 6.2zM408.4 280.8l2.9 -2.5l-1.3 -3.5l0 0l-1.1 -.1l-1.4 .5l-.3 2.8l1.2 2.8zM185.9 249.3l-1 -5.9l-9.7 -5.2l-.9 .4l-4.9 11.1l4.2 2.2l2.9 .2zM45 275.7l1.8 1.3l4.2 -.2l.7 -3.1l-5.4 -1zM265 329.6l-5.6 4.4l3 3.3l3.1 .9l.9 -.9l.8 -2.5l-1.9 -5.1zM132.5 343.4l.3 -1.4l-1.4 -.9l-2.6 -.4l-2.5 2.5l3.3 3.3zM297.5 229.8l.6 3.5l1.3 .4l5.5 -3.4l.5 -2l-5.2 -.9zM443.4 293.8l0 -.4l-2.8 -2.1l-1.8 -.1l-2.3 4.3l1 1l3.3 .4l1.4 -1.1zM396.9 390.9l-.5 2.4l2.7 2l1.7 -2.3l0 -.8zM402.3 356.5l.4 4.3l2.5 0l1.8 -1.5l-.1 -1.9l-3.9 -1.5zM313.3 364.9l3.5 -.5l2 -2.3l-6.1 -1.3l-1.1 1l-.1 .5zM275.4 333.5l.6 -1.3l-.5 -1.3l-5.4 .2l-1.6 2.9zM359.8 293l-1 1.4l2.5 2.8l.8 .2l2 -2l-1.1 -3.3zM43.2 189.5l2.8 -4.2l-4.4 -2.3l-3.3 .9l-.6 .6l-.1 .2l1.3 4.4l4.1 .5zM291.6 303.2l-.4 1.2l.3 1l2.6 .6l3.1 -1.2l2 -2.7l-4 -2.1zM272.1 300l-6.9 2.8l.5 2.5l3 2.1l4.7 -4.7l-1 -2.4zM355.2 325.7l-4 -2.2l-1.6 4l3.2 2.2l.7 -.4zM296.3 296.2l.3 -1.3l-.4 -1.8l-5 -.2l.2 3.4l3.4 1.4zM272.8 277.1l-3.3 .7l-.6 1.7l.7 1.2l4.8 .4l.3 -.2zM340 293.2l-.2 2.8l1.9 1.5l2.7 -1.8l-1.3 -2zM383.6 252.4l2.2 2.4l3.2 -2.3l-4.6 -5.1l-1.1 1.6zM401.3 356.7l1 -.2l.7 -.6l0 -1.3l-.1 -.2l-4.3 -2.3l-1 1.1l.3 1.1zM388.6 191.7l.4 -.5l-1 -1.2l-2.6 -2.1l0 .4l.6 .7l1.9 2.8zM347 367.5l-1.4 -4.2l-3 1.6l-.7 2.5l2.1 2.1zM82.5 201.6l3.7 -.8l1.9 -12l-3.2 -7.6l-10.6 .4l-1.6 11.6l5.7 7.3zM446.1 255.1l-1.3 -.3l-1.7 3.2l.4 .9l1.6 .6l.8 -.1l1 -.9zM309.5 287.6l1.9 2.5l1.3 .2l1.4 -5.3l-4.4 .7z"/>
<path fill="#e4d26c" d="M409.6 337.5l0 -1.9l-5 -1.8l-.9 .4l3.6 4.7zM324.3 370.3l-.8 -2.4l-1.4 -1.4l-5.6 3.1l.2 .5l6.7 1.8zM322 332.9l.3 .9l4.3 2.1l.4 -.1l-.2 -5.1l-1.1 -1.3l-2.2 .7l-1.3 1.6zM274.8 273.8l-1.4 .4l-.1 .2l-.5 2.7l1.9 3.8l2.1 -.5l.6 -4.5zM261.6 318.9l-3.5 -2.6l-6.4 3.2l4.8 3.9l3.1 .1l.9 -.6zM324.2 185.8l.1 .4l0 .1l5.8 1.7l2.6 -4.3l-3.5 -1.2l-4.4 .3zM414.6 252.7l-.1 .6l1.8 1.7l2.8 -1.7l-.8 -2.1l-1.7 -.3zM263.5 398.9l-.4 -.7l-4.3 -.9l-1.6 1l-1.9 3.3l-.2 2.5l.1 .6l4.6 .9l3.9 -2.2zM363.7 276.4l2.3 .4l2.7 -1.6l-2.3 -3.5l-2.7 0l-1 2.6zM84.7 329.4l.3 -1.4l-1.3 -2l-6.3 2.1l-.6 1.1l.5 .5l1 .3l1.2 .9zM90.1 316.2l-6.8 2l-.1 3.2l.6 1.1l2.2 -.4l2.1 -1.4l2.1 -4zM409.6 378.8l-2.2 4.6l2.6 .4l1.4 -1l-1.4 -2.8l-.2 -1.2zM244.5 316.9l-5.6 -2l-7.8 2.1l-.2 .3l1.1 8.7l10.4 -.1l3.6 -4.1l.7 -2.2zM377.6 320.6l-3.6 3.5l0 .8l3.4 .2l2.1 -3.3zM91.8 341.7l2.7 .1l1.1 -.9l-3.5 -2.2l-.8 1.8zM225.8 222l.8 -9.3l-.4 -.6l-9.7 -8l-6.8 8.8l15.2 9.6zM52.5 262.9l4.7 -4.7l-.1 -.5l-4.7 -2.3l-3.1 1.6l0 .1l.6 5.2zM367.5 352.2l-1.8 -.5l-1.6 1.1l-.6 1.6l2.4 2.3l2 -.2l-.3 -4.1zM332.9 248.1l-1 .4l-.1 .8l4.7 5.2l3.6 -.7l.4 -.3l.3 -3.7zM457.7 317.9l-.9 2.2l2.7 -1.7zM294.2 314.3l-2 1l1 4.3l.6 .2l3.7 -3.1zM215.9 186.6l1.4 -8.9l-7.9 -1.9l-6.7 10.1l12.7 1zM366 363.1l-.5 -1l-5.2 1.9l.8 3l2 0zM402.7 325.2l-2.6 -2.6l-.5 .3l-.6 3.3l2.6 .6zM385.9 242.9l5.8 -.9l.4 -.9l-2.9 -4.7l-1.5 1.5zM296.3 296.2l4.8 1.9l.6 -.7l.9 -2.8l-1.1 -.4l-4.9 .7zM461.2 240l-5.4 4.6l.2 1.2l.1 .1l4 -.2l2.6 -3l-.9 -2.6zM344.8 339.1l2.6 3.3l.6 -.3l1.3 -3.8l-.5 -.5zM308.7 282.8l1.5 -1.1l-1.3 -3.7l-3.6 .9l-.6 .7l.2 .7zM386 215.6l1.6 -.4l1.6 -2.4l-1.6 -2.4l-3.3 -.1l-1.1 1.7l.6 2.3zM304.4 287.2l.1 -1.2l-1 -1.5l-4.6 -.8l-.6 2.6l3 1.9zM292 337.5l1.7 -2.3l-2.6 -2.1l-1.8 .1l-1.6 1.4l.1 .6zM401.6 336.6l.5 2.5l4.8 .9l.4 -1.1l-3.6 -4.7l-.6 0zM397.9 307.2l-1.8 1.7l1 3.2l4.8 -.2l1.4 -1.2l.1 -.6zM368.1 322.8l-.7 0l-.2 4.6l4.4 1.4l.9 -1.7l0 -.1zM65.7 319l4.6 1.2l2.1 -3.1l.3 -2.4l-3.3 -3.2l-6.4 5.1zM333.7 344.8l-3 -.2l-1.1 1.4l1.1 5.1l.3 .1l2.1 -.9l1.7 -3.8zM404.2 249.8l-2.5 -1l-2.2 4l3.1 -.2l1.8 -2zM347.3 317.1l2.2 5.7l1.4 .2l.7 -1.4l-.9 -5.3zM397 296.5l-4.9 -1.2l-1.3 4l2.9 1.1l4.6 -1.9l0 -.1zM277 361.6l1.8 4.3l.3 0l2.9 -2.1l.3 -1.8l-1.3 -1.6zM273.9 387.9l2.4 -.2l-.4 -2.5l-3.7 -1.7l-.2 .1l-.1 2.4zM368.8 348.1l.1 2.5l4.6 0l.7 -1.6l0 0l-2.2 -1.8zM408.8 363.3l-1.2 -3.5l-.6 -.5l-1.8 1.5l.8 3.7l.1 .1zM291.1 333.1l2.6 2.1l2.6 -.3l-.6 -4l-.9 -1l-1.1 -.3l-.3 .1zM273.2 391.4l2.8 -2.4l.9 -.6l-.6 -.7l-2.4 .2l-1.6 2.3zM370.4 317.4l.8 2.6l.9 .3l4.5 -1.6l.1 -1l-1.8 -2.6l-.5 -.3zM402.1 349.2l-2.8 .3l-.7 2.6l4.3 2.3l.2 -4.4zM310.5 338.9l-2.4 3.5l4.7 .1l-.2 -2.5zM310.2 346.1l3.3 -.4l.4 -.7l.2 -.9l-1.3 -1.6l-4.7 -.1l-.1 0l-.5 1.9zM32.6 207.8l3.7 -2l.6 -2.7l-2.5 -5l-1.5 .6l-.9 8.9zM411.7 256.2l.1 .2l2.3 1.8l2.2 -2.6l0 -.6l-1.8 -1.7l-1.9 .8zM338.8 301.2l2.8 -1.6l.1 -2.1l-1.9 -1.5l-2.9 1.7zM366.8 284l.5 1l2.9 -.2l1 -2l-.8 -1.9l-3 .1zM413.8 388.1l-3.8 -4.3l-2.6 -.4l-.1 0l-.5 1.1l3.1 5.3l3.6 -1.4zM237.6 366.9l-3.4 0l.5 9.7l1 1.6l4.8 -.4l3.5 -3.9l-1.5 -5.8zM96.5 327.8l-1.7 -3.3l-2.8 -.3l.2 3.3l1.2 1.1zM335.7 309.3l1.5 1.9l4.5 -2.1l.2 -.6l-5.4 -1.5l-.8 .7zM268.2 268.5l.7 -4.8l-3.5 -3.5l-3.5 4.6l3.6 3.9l1.6 .5l1 -.6zM476.5 227.1l.1 0l3.1 -.4l1.6 -3.7l0 -1l-.2 -.1l-6.1 2.7zM493 247l0 2.2l.7 .6l4.5 -2.4l-1.7 -3l-.6 0zM427.4 252.9l0 -.1l-4.3 -4.1l-1.2 0l-.1 5.5l1.5 1.6l.2 .1zM282.9 156.2l3 -.2l.5 -.8l-4.2 0zM406.6 350.3l-3.5 -.3l-.2 4.4l.1 .2l3.5 -1.9l.4 -1.2zM272.2 383.5l3.7 1.7l3.1 -2.9l-4.7 -2.1zM287.3 345.4l3.6 -.6l-.3 -3.8l-3.8 -.7zM406.5 288.7l1.5 -2.3l-1.4 -2.4l-3.1 -.4l-.6 2.4l1.6 3.1zM322.5 359l-.4 -1.4l-2.5 -2.7l-2.9 -.1l-.9 1l3.3 6.1l.7 .1zM473.2 209.4l0 3l3.8 2.5l1.1 -.3l.5 -2.3l-5.2 -3zM78 320.6l5.2 .8l.1 -3.2l-.5 -.8l-4.8 .2l-.8 2.3zM331.2 365.7l.5 1.8l4.8 .7l-.1 -4.3l-.4 -.8l-1.8 -1.1l-1.2 .3zM291.8 379.3l-3.1 -.3l-.4 2.7l.1 .1l3.6 -1.8l.5 -.1zM350.2 248.3l4.2 3l1.4 -.2l.8 -.6l-.8 -4l-1.8 -1.5l0 0l-.7 -.3l-2.9 2.2l-.3 1.1zM375.5 245.1l-.2 .7l1 1.5l4.8 -1.1l-3.3 -3.7zM406.5 352.7l1.4 3.6l2.3 -.6l.7 -2.4l-4 -1.8zM92.7 329.7l1.4 3.7l.7 -.2l1.7 -3.1l.1 -2.2l-.1 -.1l-3.1 .8zM289.5 367.8l4.8 2.1l.6 -.2l.7 -.7l-3 -5.7l-1.9 -.4zM286.9 326.5l1.8 -.7l.8 -.8l.2 -3.7l-4.4 .4l-.5 .6l1.3 3.8zM392.5 339.8l.3 1.2l3.7 4.6l3.2 -2.6l-2.2 -3.2l-4.5 -.3zM374 324.9l0 -.8l-1.9 -3.8l-.9 -.3l-3.1 2.8l4.4 4.2zM352.6 336.2l3 0l1.2 -1.2l.1 -.9l-5.7 -1zM330 251.6l-3.7 0l-3.4 3.7l.3 .4l6.4 .1zM407.5 275.2l-.6 -.2l-5 2.5l.9 2l4.4 -1.5zM399.8 290.8l-3 -3.3l-3.5 .9l-.2 .7l.1 3.4l5.5 .4l.1 0zM395.4 269.3l1.2 -1.7l0 -.4l-2.6 -1.9l-2.9 2l-.4 1.5l.9 .6zM305.2 288.5l4.3 -.9l.2 -1.9l-1.1 -1.7l-4.1 2l-.1 1.2zM365.5 362.1l0 -.2l-1.1 -2l-2.3 -.8l-3.2 3.7l1.4 1.2zM419 319.4l.4 -1.4l-2.1 -.8l-1.8 .4l-2 2.9l1 .7l3.7 -1.1zM135 280.6l-3.6 -14.1l-2.7 .6l-6 9.6l8.7 7.2zM273.2 369.9l-1.1 -2l-3.4 -.5l-2.8 3.9l3.6 3zM354.7 358.3l-1.1 2.5l3.9 1.9l.3 -.2l-.1 -1.5l-2.1 -3.1zM297 326.6l-2.2 3.3l.9 1l2.8 -.7l.7 -2.8zM318.1 276.9l1 3.6l6.5 -1.4l-.5 -1.6l-5.5 -2.7zM257.6 330.6l-1.8 -2.2l-4.8 -.1l-.1 6.1l2.4 1.3l4.4 -2.5zM122.1 345.8l3.7 3.2l3.4 -.8l.4 -1.7l-3.3 -3.3l-3.3 .6zM363.7 271.7l-.9 -1.5l-1.4 -.4l-2.5 1.2l1.1 3.3l2.7 0zM267.5 179.1l-3.6 1l-.9 5.3l2.2 2l.4 .1l4.5 -2.3l.3 -4.6zM54.5 287.8l-2.4 1.9l-.4 1l2.6 1.1l3.2 -.8z"/>
<path fill="#e4d866" d="M352.2 337.8l3.4 2.1l.1 0l-.1 -3.7l-3 0zM236.1 155.2l-7.2 0l-5.3 3.3l3.6 8.2l8.3 -2.2zM474.3 244.9l2 .3l2.4 -1.7l-.5 -2.2l-.8 -.4l-3.3 -.1l-1.1 1.6zM346.8 307.4l4.3 -2.1l.4 -2.8l-.2 -.5l-1.1 -.6l-2.2 0l-2.2 5.8zM288.9 172.6l7.5 -1.9l0 -5.5l-3.7 0l-3.4 3.8l-.6 3.5zM265.3 380.9l1.5 -2.8l-4.6 -3.8l-1.9 4l.2 .3zM290.2 175.2l4.5 2.2l2.7 -5.3l-1 -1.4l-7.5 1.9zM426.8 311l.2 -4.2l-.5 -.5l-3.5 2.7l1.7 2.8l.8 0zM402.9 268.6l1.4 .1l2.4 -4.4l-.1 -.4l-1.7 -.3l-3.6 1.8zM424.1 291.3l-.9 -2.5l-3.8 -.6l-1.3 1.6l1.8 4.8zM310.1 301.9l.7 .8l.7 0l1 -.4l1.3 -3.7l-2.6 -2.1l-2.3 .4l-.1 .4zM235.7 378.2l-1 -1.6l-5 .2l5.8 3zM269.1 395.5l-1.4 -.6l-4.6 3.3l.4 .7l4.3 2.8l.2 -1.7l1.3 -3.9zM421.9 308.6l.6 -4.8l-1.6 -2.3l-.2 -.1l-2.7 6.1l3.9 1.1zM272.7 258.1l.3 3.3l2.4 1.2l3.6 -.8l.7 -5.9l-3.4 -.4zM316.2 298.5l2 2.6l2.5 -.6l1.7 -3l-.3 -.6l-2.7 -1.5l-2.8 1.2zM399.6 263.9l1.7 1.5l3.6 -1.8l-1.5 -2l-3.9 2.3zM331.9 321.4l-3.3 1.3l0 .3l1.5 1.7l6.4 2.3l.4 -.1l-.1 -2.1l-1.1 -1.9zM33.2 176l.3 -.7l-.1 -2.5l-.3 -1.1l-2.2 -1.1l.8 5.4zM393.7 316.5l-1.2 3.9l2.2 2.8l1.5 -.9l1.4 -3.2l-2.6 -3.3zM261.8 385.8l1.6 4.6l3.8 1.6l1.5 -2.6l-.9 -1.6l-5.2 -2.3zM259.1 394.1l-.3 3.2l4.3 .9l4.6 -3.3l-.5 -2.9l-3.8 -1.6zM380.8 255l.2 .6l1.5 .8l3.1 -.8l.2 -.8l-2.2 -2.4zM54 177.4l-2.3 -2.5l-1.2 .1l-2.2 1.9l.2 1.5l4.4 2.3zM158.5 203l-6.9 -5l-13.6 10.6l-.1 2.3l11.5 5.4l13.4 -4.6zM260 385.5l-1 .2l-2.1 3.2l2.2 5.2l4.3 -3.7l-1.6 -4.6zM366.2 368.9l-3.1 -1.9l-2 0l-.2 .3l.6 4l1.8 .7zM412 315.6l-1.7 -2.2l-3.6 1.9l2 3.4l.9 .2l.7 -.1zM401 320.9l-.1 -1.7l-.1 -.2l-3.2 .1l-1.4 3.2l3.4 .6l.5 -.3zM397.9 285.6l-.1 -2.9l-1.2 -1.4l-2.2 -.4l-3.4 3.8l-.1 .7l2.4 3l3.5 -.9zM297.1 290.7l.9 .2l2.9 -.9l.4 -1.8l-3 -1.9l-.2 .3l-1 4zM421 341.9l1.6 -3.4l-2.4 -2.5l-1.6 .4l-1.4 1.6l1.4 3.6l1.6 .5zM209.5 310.7l2.4 9.6l8.4 -1.7l-.9 -8.4zM314.8 355.5l-5.1 1.3l3 2.6l2.9 -3.6zM253.3 335.7l-2.4 -1.3l-7.9 .7l-1.3 2.2l.3 3.7l4.8 4.5l7.1 -2.3zM248.8 366.9l-.5 -3.1l-4 -2l-6.7 5.1l4.9 1.2zM401.9 302l-3.3 0l-1 1.6l.6 2l4.8 -.5zM427.1 336.2l-.1 3.3l1.1 .8l2.3 -1.8l-.2 -.4zM88.6 290.2l.1 -4l-5.6 -1.8l-3.4 1.7l-1.4 5.7l3.3 2.3zM288.2 285.6l-.5 -2.2l-4.2 1.7l0 .9l1.3 2l2.6 -.7zM333.5 302.2l-1.5 3.5l3.7 2l.8 -.7l1.8 -4.1zM368.8 292.7l-.2 -.2l-2.1 3.1l1.3 2.8l1.3 0l1.9 -2.7zM314.2 349.5l3 1l1.8 -1l-.2 -2.3l-4.9 -2.2l-.4 .7zM385.6 255.6l1.8 3.4l.8 .1l3.9 -3.4l.5 -1.1l-2.7 -2l-.9 -.1l-3.2 2.3zM405 412.3l-.7 -.4l-.3 .1l.8 1.6zM294 252.4l.5 -.8l-2.6 -3.8l-2.3 .4l-1.3 5.2l1.3 1.3zM309.2 273.8l2.6 -4.9l-.1 -.2l-4.9 .3l-1.4 3.6l.1 .1zM409.9 389.8l-3.1 -5.3l-3.3 3l3.5 3.6l2 -.2zM409.4 299.3l-2.4 -1.7l-1.3 0l-1.2 2.3l2.2 2.5l1.6 .4zM329.4 192.1l1.5 -1.2l-.8 -2.9l-5.8 -1.7l1.5 5.4zM349 202.7l-.2 -.2l-1.1 .8l-.3 2.8l.5 .7l2.2 -2.5zM321.7 193.5l1 .9l3.1 -2.7l-1.5 -5.4l0 -.1l-3.4 3.3zM267.3 364.9l1.3 -2.8l-.2 -1l-4.8 -2.4l-1.1 .7l1.8 5.2zM89.4 335.7l-3.6 -.2l3 2zM337 285.3l.7 -.2l-1.1 -4.3l-2.2 .9l.6 2.7zM338.1 345.9l.8 -.9l.2 -.6l-4 -2l-.7 .4l-.7 2l1.1 1.7zM124.6 260.2l-.8 5.3l4.9 1.6l2.7 -.6l1.1 -1.4l-2 -3.5l-4.9 -2.2zM297.7 316.7l1.7 -1.8l-.9 -2.3l-2.6 -1.4l-1.1 .3l-.6 2.8l3.3 2.4zM91.3 340.5l.8 -1.8l-.1 -2.6l-.2 -.2l-1.5 -.6l-.9 .4l-.6 1.8l1.2 .8l1.1 2.3zM267.5 289.7l-3.4 -5.4l-.6 -.2l-2.8 5.6l5.5 1l1.3 -.7zM314.3 180.3l3.5 1.3l1.2 -.6l0 0l2.5 -2.5l-2 -3.5l-.7 0l-4.4 4.5zM38.2 165.5l2.7 -.8l0 -1l-1.1 -1.5l-2.4 2zM386.3 344.6l.1 -.1l1.5 -4.9l-4.1 -.6l-2.3 2.6zM276.6 231.4l3.6 -.6l-1.5 -4.5l-5.8 -1.4l-.5 .2l-.7 .7l-.4 2.3zM449.2 315.6l1.2 3.2l3.3 -1.8l.2 -.3l-2.3 -2.3l-1.7 .5zM248.3 363.8l2.5 -5.7l-.4 -2.6l-3.1 -2.1l-5.3 3.6l2.3 4.8zM253.4 246.2l-8.2 -7.7l-.1 0l-5.8 7l4 4.1zM341.2 266.5l3.3 -2.7l-1 -3.2l-2.8 -1l-4.7 3.1l.1 1.2l2.9 3.3l.1 0l.2 .1zM309.1 351.7l-1.6 .8l1.7 4.2l.5 .1l5.1 -1.3l-3.6 -3.8zM401.4 296l-2.6 -3.1l-.1 0l-1.7 3.6l1.3 1.9l2.1 -.6zM381 358.3l-4.1 -.7l-.9 2.3l2.7 .8l2.3 -2.2zM412 332.4l.2 .2l0 0l3.7 -.6l.3 -.4l-1.8 -5.5l-.5 .1zM308.7 202.5l.7 -3.2l-1.2 -.9l-6.1 1.5l.7 3.5l3.5 1.1zM272.3 390.2l1.6 -2.3l-2 -1.9l-2.8 3.3zM296.6 246.3l-.8 4.5l3.7 .8l2 -3.5l-2.3 -1.9zM144.8 181.6l3 -16.2l0 -.1l-1 -1.9l-14.5 .7l-4.2 3.1l7.2 12.8zM395.1 363.4l-2.7 2.3l.6 2.9l.3 .2l3 -.2l-.8 -5zM384.3 210.3l3.3 .1l.2 -3l-4.6 -.4zM446.9 283.3l-1.1 -3.2l-1 -.6l-1.2 .2l-.7 .3l-1.6 3.9l4.5 .7zM343.1 371.6l-3.5 .3l.8 2l2.5 -.9zM374.8 193.9l-2 -1.1l-2.4 1.6l.1 .1l1.5 -.5l2.8 0zM290.3 291.3l.9 1.6l5 .2l.9 -2.4l0 -.1l-5 -1.8l-1.7 2.1zM378.9 194.3l-.3 2.7l2.4 -1l3.4 -.2l-.8 -2.6l-.9 -.5zM394.1 219.1l.8 -.4l.1 0l-1.2 -.7l-1.2 .6zM374 278.8l2.3 -4l-.9 -1.2l-1.6 .3l-2.7 2.7l.7 1.9zM402.9 281.3l-.1 -1.8l-.9 -2l-1.6 -1.2l-1.6 .6l-2.1 4.4l1.2 1.4l5 -1.4zM308.9 278l1.3 3.7l.6 -.1l2.3 -2.8l0 -.1l-2.8 -2.5zM373.5 252.6l.2 -.9l-2 -3.8l-2.5 1.5l.9 2.4l2.9 1.3zM71.9 218.8l2.5 4l1.9 1.2l5.4 -2.2l3.2 -7.3l-6.3 -3l-1.6 .5zM356.6 288.6l2.2 .3l3.4 -1.6l-.2 -1.4l-3.5 -3.6l-2.7 .5zM79.7 286.1l3.4 -1.7l-2.8 -5.3l-6.5 .3l-.1 .1l.5 3.6l2.3 2.7zM463.7 280.9l-2.2 1.8l-.1 2.2l.6 -.9l2 -3zM392.1 295.3l0 -.1l-5.2 -2.3l-2.1 2.3l.9 5.1l2.4 .8l.6 -.2l2.1 -1.6zM46.5 156.3l.9 1.8l.3 .2l2 -.5l1.6 -2.6l0 0l-3.4 0zM413.5 320.5l-1.1 -.1l-1.2 4.8l.2 .2l2.5 .8l.5 -.1l1.4 -.8l-1.3 -4.1zM326 273.5l2.8 -1l-1.1 -4.3l-3.1 -1l-1 2.3l.5 2.7zM393.7 309.6l1.9 -.8l-2.5 -2.9l-3.5 2.2zM275 312.7l-5.3 -.9l-.5 4.7l.1 0zM43 189.6l-4.1 -.5l-3.6 3.8l-.4 1.1l.4 1.8l6.6 1l.8 -.7zM327.6 376.4l-1.4 3.9l1 .9l3.9 -1.9l-1.6 -2.4l-1.5 -.6zM419 410.1l0 -.1l-.6 -4.7l0 0l-3.7 1.6l-.2 1.3zM381.6 277.4l-1.8 4.2l1.3 1l2 .2l1.9 -1l1.4 -2.1l-.1 -.8zM414.5 280.1l6 -.9l-4 -3.4l-2 2.2l-.3 1.5zM380.9 202.1l1 -.9l.4 -1.3l-3.8 -1.9zM283.3 207.7l-1.3 3.7l3.1 3.5l4.3 -3.4l-2.6 -3.6zM371.7 271.6l2.1 2.3l1.6 -.3l.9 -2.5l-2.8 -2zM248.6 319.2l3.1 .3l6.4 -3.2l1.7 -5.2l-.8 -1.8l-3.5 -2.2zM409.6 318.9l-.9 4.5l2 1.7l.5 .1l1.2 -4.8l-2.1 -1.6zM452.4 321.7l-2 -1.2l-2.2 3.1l1.3 1.8l2.5 -1.9zM299.1 197l.1 -1l-4.8 -3l-3.9 2.9l5.2 3zM448.6 312l2.2 -.9l.1 -2.9l-1.9 -.9l-.9 .1l-.9 1.1l1.1 3.4zM97.3 223.4l2.5 -2.9l-4.6 -12.9l-.9 .1l-4.3 5.1l1.1 10.7zM295.3 281.1l.3 0l.6 -4.4l-1.8 -1.8l-2.2 -.4l-1 .7l.1 .4zM388.7 300.9l4.4 4.2l2.7 -1.9l-2.1 -2.8l-2.9 -1.1zM336.3 317.7l1.8 -3.2l-.9 -1.5l-4.9 .7l-.6 .5l3 3.7zM334.4 342.8l-2.9 -2.2l-1.1 1.9l.3 2.1l3 .2zM330 372.7l1.3 -1.7l-.9 -2.2l-2 -.1l-3 1.6l4 2.5zM380.8 353.2l-3.8 1.8l-.3 1l.2 1.6l4.1 .7l.5 -1.2l-.7 -3.8zM404.9 403.9l-2.7 2.2l-.2 1.2l2 2.6l3.1 -1.9l-.6 -3.7zM97.3 346.1l-2.3 .6l-.7 1.3l4.3 -.1zM365 244.8l0 .2l-2.5 2.5l-.1 0l.3 1.2l.2 .2l3.1 -3.8zM403.4 345.7l-3 -2.8l-.7 .1l-3.2 2.6l-.1 .6l2.9 3.3l2.8 -.3zM188.7 277.8l.9 1.9l14.9 8.4l1.5 -12.9l-14.8 -3.7zM509.7 199.1l2.7 1.2l1 -.9l-3.4 -1.1l-.9 -.3zM407.4 383.4l2.2 -4.6l-3.1 -2.2l-2.6 2.6l0 1.2l3.4 3zM308.4 237.8l4.5 2.5l1.8 -3.3l-2.1 -5.7l-4.7 3.5zM417.2 338l-1.7 .1l-2 4.8l3.4 .5l1.7 -1.8zM281.8 230.7l-1.5 .1l-.6 5.7l2.9 3l2.5 -2.6zM316.7 354.8l2.9 .1l3.6 -4l-.1 -.1l-4.1 -1.3l-1.8 1zM174 188.9l8.6 19.2l.3 .1l9.5 -3.7l4.1 -8.8l-.7 -7.2l-5.5 -7.1l-10.9 -1.1zM355.2 355l-1.6 -3.3l-1.1 0l-.9 1.1l-.3 3.6zM255.3 381.7l-4.1 -1.1l-.7 5.3l.3 .1l4.9 -3zM266 341.2l1.8 2.6l2.1 .8l4 -5.2l-.4 -1.6l-7.1 -.5l-.9 .9zM412.5 303.3l.4 -.2l-.9 -5l-.1 -.1l-2.5 1.3l-1.1 3.5l.4 .5zM482.9 210.6l.2 0l4.3 -2.1l-1.7 -2.5l-1.8 0l-1.9 4.1zM335.8 340.7l-.7 1.7l4 2l1.7 -2l-.1 -1.8zM367.1 219.8l-1.3 -.8l-1.8 .6l0 5.4l.2 1.8l1.4 .3l3 -5.3zM374.9 315.1l3.9 -2.5l0 -1.2l-4.7 -.2l-.8 .7l1.1 2.9zM276.6 289.2l3.1 -6.3l-.8 -1.6l-2.1 -.9l-2.1 .5l-.3 .2l-1.2 5.2l3.2 2.9zM331.7 367.5l-.5 -1.8l-2.8 -.6l0 3.6l2 .1zM372.5 370.9l-.2 -.1l-3.8 1.1l-.7 2l3.1 1.5l1.3 -1zM296.2 293.1l.4 1.8l4.9 -.7l-3.5 -3.3l-.9 -.2zM415 248.4l-1 .2l-1.3 1.2l1.9 2.9l2 -1.8l-.7 -1.9zM367.9 235l.6 .4l3.8 -4l-1.1 -1.5l-3.7 1.1zM389.3 331.4l-1.9 1.4l-.2 .8l2.3 4.9l.3 .1l3.1 -5.3l-.5 -.9zM265.6 187.5l-.4 -.1l-5.2 4.3l1 2l6.6 1.6zM313.1 278.8l-2.3 2.8l3.9 2.7l1.2 -1.9zM457.7 317.9l-1.4 -2.2l-2.4 1l-.2 .3l.9 4.3l.3 .1l1.9 -1.3zM265 352.9l.7 1l.5 .1l5.5 -.9l2.5 -1.9l-.3 -.8l-2.4 -2.8l-5.6 3.6zM410.7 413.3l2.6 2.7l.9 .1l2.2 -1.8l-3.1 -3.3l-2.4 .9zM297.5 222.4l-2.8 2.9l-.2 2.4l3 2.1l2.7 -2.4l-.6 -4.3zM61.8 315.8l-1.2 -8.1l-3.6 -.9l-2.8 2.7l2.5 3.8l2.9 2.2zM423.2 288.8l1.1 -1.4l.3 -3.8l-.1 0l-5.1 3.6l0 1zM280.7 222.7l-1.1 -1.8l-2.6 .1l-4.1 3.9l5.8 1.4zM404.3 411.9l.7 .4l.7 .1l3.5 -2.1l-.1 -.7l-2 -1.6l-3.1 1.9zM69.3 159l5.3 1.4l3.8 -1.3l1.4 -3.9l-13.2 0l.1 .4zM449.5 285.8l-.7 .9l1.1 3.8l1.1 -.2l1 -4.5zM368.4 241.8l.6 -5.1l-.4 -1.1l-.1 -.2l-.6 -.4l-2.5 .3l.6 3.7l-.3 2zM325.1 277.5l.9 -4l-1.9 -1.3l-4.4 2.2l-.1 .4zM298.5 362.7l-2.9 6.2l2.8 .3l4.2 -2.3l.1 -.2l-1.8 -4.2l-.2 -.2zM330.9 295.1l2 -1l.2 -2.9l-2.6 -4.2l-.6 -.3l-.6 -.2l-2.1 1.7l-.5 1.9l1.5 3.6zM277.4 275.9l-.6 4.5l2.1 .9l3.5 -3l-.9 -3.8zM101.2 319.4l7.6 0l.3 -.4l-10.8 -11.3l-2.7 2l1.3 4.6zM321.7 378l.7 -3.2l-5 -.5l-.9 2.9l.3 1.2zM33.1 179.2l4.6 5.3l.6 -.6l.1 -4.6l-4.9 -1.8zM316.4 194l5.3 -.5l-.8 -4l-3.5 -.9l-1.4 3.4zM347 249.5l-.1 5.2l1.7 .8l2.1 -1.9l-.5 -5.3l-.1 -.3zM304.8 162.9l3 -.8l-1.8 -1.4l-1.7 -.3zM29.3 165.4l3.9 .1l.8 -1.3l-2 -.2l-3 -1.5zM341.3 349.8l1.2 2.1l2.8 -.3l.9 -3.4l-1.9 -.5l-1.9 .6zM289 281.7l-.4 .1l-.9 1.6l.5 2.2l3.2 1.5l.3 -4.6zM75.5 329.3l1.8 .4l-.5 -.5zM387.6 308.4l.5 -7.3l-2.4 -.8l-2.3 .6l-.1 .3l-.3 5.4l1.6 1.3l2.9 .5zM283.2 242.9l.6 3.8l4.8 .3l1.2 -4.7zM292.6 218.9l-1.2 .7l.2 3.4l3.1 2.3l2.8 -2.9l-1.5 -3.2zM404.9 324.3l.4 -.7l-.2 -.6l-4.1 -2.1l-.9 1.7l2.6 2.6zM336.2 371.4l-.7 .4l-2.3 3l.7 1.7l2.4 .3l1.4 -1.1zM337.2 321l-.6 -2.9l-.3 -.4l-1.6 .2l-2.8 3.5l3.8 1.5zM381.4 262.9l-2.1 2.8l0 1l.8 1.6l2 .4l3 -4.1zM378.8 337.7l1 4.3l1.7 -.4l2.3 -2.6l-.7 -2l-2.4 -.4zM369.1 365.6l-.1 .2l3.3 5l.2 .1l2.5 -.8l-.3 -3.5l-2.8 -2.8zM302.9 259l3.3 5.4l1.5 -.5l1.3 -3.7l-.9 -1.4l-4.6 -.6zM347.4 329.8l-2.8 1.1l1.2 3.5l2.5 -.1l1.3 -1zM44.3 161.9l-.3 3.6l2.5 -.5l-.1 -2.7zM411.4 338.7l-1.8 -1.2l-2.3 1.4l-.4 1.1l.4 2.5l.9 1.7l2.8 -.2zM249.2 372.7l1.1 3.9l4.9 0l1.6 -4.6l-5.5 -3.5l-.7 0z"/>
<path fill="#eaa27e" d="M425.8 329.8l1.5 1.2l4.4 -2l-.8 -3l-1.1 -.9l-4.3 -.3zM355.3 355l-.1 0l-3.9 1.4l-.1 .2l3.5 1.7l.9 -.4l.5 -.9z"/>
<path fill="#eaa284" d="M356.7 302.9l-1.2 .7l.2 1.7l3.8 2.6l2.1 -.7l-.3 -1.1z"/>
<path fill="#eaa87e" d="M403.3 395.8l-2.5 -2.8l-1.7 2.3l.1 1.2l2.4 1zM389.9 372.1l2.7 -.7l.7 -2.6l-.3 -.2l-3.5 .1l-.6 2.7zM274.4 281.1l-4.8 -.4l-1 2.7l2.8 3l1.8 -.1zM309.7 356.8l-.5 -.1l-1.3 2.9l3.7 2.2l1.1 -1l0 -1.4z"/>
<path fill="#eaae78" d="M362.4 355l-1.1 2.6l.8 1.5l2.3 .8l1.5 -3.2l-2.4 -2.3zM281.1 326.2l.3 .2l4.7 -.3l-1.3 -3.8l-4 -.1zM388.6 191.7l.2 2.7l1.7 -1.4l-1.5 -1.8zM470.8 246.3l-1.8 1.4l5.4 2.9l-1.2 -4.3zM301 373.7l3.2 -.3l-.3 -2.4l-.8 -.8l-2.7 .5zM431.5 284.5l-.8 -2.2l-6.5 -.7l.3 2l.1 0l4.5 2.7l.2 0zM371.9 359.7l-2 -1l-4.4 3.2l0 .2l.5 1l3.1 2.5l2.8 -1.8l1.1 -2.6zM381.9 201.2l-1 .9l-.2 .5l2.5 2.8l3.8 -3.1l-.4 -.2zM326.8 342l3.4 -5.2l-3.2 -1l-.4 .1l-2.1 2.5l1 4.2zM282.1 181.1l-.9 -.2l-1.4 .6l-2.9 4.7l2 3.1l3 1.1l1.8 -2l-.9 -6.8zM318.8 329.9l-.9 1l.3 2.4l3.8 -.4l.2 -1.2zM475.2 251.8l-.3 .4l.6 6.1l.8 .4l1.6 -.3l.1 -.1l1.1 -2.4l-1.5 -3.5zM257.6 351.9l4.1 -.4l1.1 -4.2l-2.3 -2.7l-4.9 -.3zM46.9 202.2l-4.3 1.2l.3 1.4l2.5 1.7l1.7 -1.7l-.2 -2.6zM309.4 315.7l3.1 -1.2l.9 -3.9l-1.7 -1.4l-5.1 1.5l-.8 1.9zM387.3 360.6l.4 1l2.6 -.3l.8 -.6l-.4 -2.9l-3.1 -1.4zM202.7 185.9l-6.9 2.6l.7 7.2l15.4 2.7l3.5 -11.5zM343 328.7l-2.6 -2.8l-3.2 1.1l2.6 4.6l2.9 -1.8zM436.3 226.8l-1.6 0l-3.4 1.3l0 .2l.7 .7l-.4 .7l1.6 1.6l.1 0l2.9 -2.3l.5 -1.3zM370.1 251.8l-2.6 1.2l-.3 2.1l2.4 2.8l3.3 -4.2l.1 -.6zM314.8 271.4l-1.1 -2.2l-1.9 -.3l-2.6 4.9l1 1.1l3.6 -1zM393.7 316.5l-3.9 -1.3l-2.1 1.1l-.7 3.5l.1 .2l.7 1l4.7 -.6zM351.7 189.7l4.2 1.3l1.3 -5.8l-.1 -.3l-2.8 -1.3l-2.2 .2l-1.6 2.5l-.2 1.2zM265.3 413.7l-.1 -4l-.7 -1.2l-1.6 -.1l-4.5 4.5l1.6 1.1l4 .4zM41.2 269.5l-2.2 -5.4l-4.3 -1.7l-1.6 1.3l.5 2.6l3.2 4.8l1.9 .9zM295.6 368.9l0 .1l-.7 .7l4 4.9l.7 .3l1.4 -1.2l-.6 -3l-2 -1.5zM518.4 177.9l-1.5 3.6l2.1 .5l.6 1.3l0 -5.5l-.4 -.6zM445.9 273.4l.6 2.8l2.2 .7l2.3 -2.1l-1.1 -1.1l-3.6 -.6zM288.3 253.4l-6.1 -1.4l-1.6 3l4.5 4.3l4.5 -4.6l0 0zM375 375.8l0 .9l3.6 -1.2l-2.6 -.9zM247.7 266.5l.7 -.6l2.5 -5.7l-2.9 -5.1l-3.8 -2.1l-5.8 7.6l8.5 6.2zM424.2 281.6l6.5 .7l.1 -.3l-.6 -2l-3.7 -1.4l-2.5 2.6z"/>
<path fill="#eab472" d="M439.2 277.8l3.7 2.2l.7 -.3l-1.3 -6.4l-1 -.3zM382.5 256.4l-1.5 -.8l-3 3.4l3.4 1.9l1.5 -.9z"/>
<path fill="#eab478" d="M45.5 155.6l1 .7l1.4 -1.1l-2.4 0zM89.4 335.7l.9 -.4l-.6 -2.8l-4.8 -2.2l-.8 4l.9 .7l.8 .5zM358.6 353.1l-.1 3.8l.7 .7l2.1 0l1.1 -2.6zM407.6 348.9l-1 1.4l.3 1.2l4 1.8l1.2 -1.1l.1 -.7l-.4 -1.3zM296.5 340.1l-2.6 .7l.6 4.9l4.3 -3.8zM282.3 264.4l-3.3 -2.6l-3.6 .8l-.3 4.6l4 .3zM401.7 373.4l-3.4 -4.5l-.8 .3l-1 4.9l3.4 1.7l.3 -.1l1.3 -1.7zM76.3 224l3.3 10.6l6.3 3.9l2.6 -4.1l1.2 -9.7l-8 -2.9zM272.1 367.9l1.5 -2.4l-.2 -2.4l-4.8 -1l-1.3 2.8l1.4 2.5zM452 285.8l-1 4.5l2.6 .7l1.1 -1.2l.2 -1.9l-1.2 -2l-.9 -.6zM387.4 259l-1.8 -3.4l-3.1 .8l.4 3.6l2.9 0zM379.4 250.8l-.9 1.9l2.3 2.3l2.8 -2.6l-.3 -3.4zM409.7 403.5l0 -.2l-.6 -4.5l-.9 -1.4l-.8 -.1l-3.4 3.9l.9 2.7l1.6 .4zM347.6 224.5l-2.2 -4.8l-1.9 -1l-1 2.9l1.3 5.5l2 -.3zM356.9 334.1l.2 -.5l-.8 -2.7l-2.8 -1.6l-.7 .4l-1.6 3.3l0 .1zM495.3 235.2l-2.5 -.4l-1.3 2.8l.1 .7l1.5 .9l2.2 -.1l1.1 -2.5zM414.3 399.9l-.6 -.6l-4.6 -.5l.6 4.5zM392.3 311.6l3.1 3.5l.6 -.5l1.1 -2.5l-1 -3.2l-.5 -.1l-1.9 .8zM67.3 280.2l6.4 -.7l.1 -.1l-.5 -6.5l-2.9 -1.7l-3.9 4l-.6 2.9zM314.1 344.1l-.2 .9l4.9 2.2l1.7 -3.9l-.5 -.6l-2.8 -.6zM400.9 319.2l.1 1.7l4.1 2.1l.7 -3l-.7 -.6zM286.6 328.6l2.4 2.3l1.9 -1.7l-2.2 -3.4l-1.8 .7zM403 355.9l3.9 1.5l1 -1.1l-1.4 -3.6l-3.5 1.9zM428 247.4l-1.8 -1.3l-3.1 2.6l4.3 4.1zM277.6 374.6l1.6 -1l.8 -2l-3.3 -2l-2.7 .7l1.4 3.6zM326.4 358.5l.1 -6.7l-1.5 -.6l-.9 0l-2 6.4l.4 1.4zM340.9 206.9l-.5 0l-3 4.2l1.6 5.7l2 .1l1.6 -7.7l-.8 -1.4zM454 253.1l1.3 1.6l3.3 1.1l.7 -2.4l-.6 -1.3l-3.3 -1.6l-.7 .6zM299.3 342l2.6 -1.6l.7 -1.1l-3.2 -4.2l-2.5 .2l-.4 4.8l2.3 1.8zM414.3 399.9l2.2 .5l.9 -.9l-1.2 -4.9l-3 .1l-.6 .9l1.1 3.7zM56.8 303l-.3 2.3l.5 1.5l3.6 .9l3.6 -2.2l.2 -1.8l-1.7 -3.4zM472 218.7l2.8 .4l2 -4l-3.7 .6l-1.3 2zM463.5 267.4l-2.8 4.5l4.2 .4l.2 -.8zM525.2 179.4l1.3 1.3l2.3 -.1l0 -.6l-2.8 -3l-.2 .3zM426.5 278.6l3.7 1.4l1.8 -3.4l-1.5 -.8l-2.9 .2zM530.7 208.8l3 -3.9l-1.9 -2.7l-2.6 .2l-.5 3.8zM385.4 187.9l-1.2 -1l-.1 -.1l1.3 1.5zM317.2 342.1l2.8 .6l1.1 -4.2l-.8 -1.2l-2.8 -.8l-1.2 3.2zM414.2 408.5l.3 -.3l.2 -1.3l-1 -2l-3.6 -1l.4 3.9zM116.1 234.4l-4.6 -4.1l-7 2.5l-6 12.9l.5 1l6.8 2.4l9.6 -10.2l.8 -2.7zM342.6 209.2l-1.6 7.7l2.4 1.6l4.7 -4.9l-3.3 -3.6z"/>
<path fill="#eaba72" d="M338.9 345l-.8 .9l.5 4.3l2.7 -.4l1.1 -1.5zM52.2 200.6l-1.8 -4.6l-1.5 0l-2.9 4.2l.9 2l0 0l5.1 -1.1zM425.1 341.2l-1.8 -2.6l-.7 -.1l-1.6 3.4l3.4 1l.6 -.1l0 0zM397.6 319.1l3.2 -.1l.5 -2.7l-5.3 -1.7l-.6 .5l-.4 .7zM332.7 380.1l-.1 -.1l-1.5 -.7l-3.9 1.9l.1 .4l.4 .4l.3 0l4.7 -1.6zM387.5 268l2 1.1l1.2 -.3l.4 -1.5l-1.5 -3.7l-3 1.5zM405.4 393.4l-3.8 -1.9l-.8 .7l0 .8l2.5 2.8l2 -.4zM242.4 195.4l.4 .7l8.4 -6.1l-1.2 -3.5l-2.7 -1.5l-4.6 2.8zM439.4 319.3l-6 -.9l-.6 1.1l0 0l1.7 3.1l1.4 .7l2.6 -1.5zM259 309.3l.8 1.8l4.5 2.1l4.1 -3.9l.3 -1.8l0 -.1l-3 -2.1zM350.4 356.8l-1.8 -1.1l-2.7 .2l-.3 4.5l.6 .7zM318.7 184.7l5.5 1.1l.6 -3l-2.8 .2l-3.5 .9zM386.9 292.9l5.2 2.3l1.1 -2.7l-.1 -3.4l-6.4 1.9zM341.4 364l-1 -4.8l-4.4 3.9l.4 .8zM392.8 273.5l3.1 -2.1l-.5 -2.1l-3.8 .1l.9 4zM416.5 275.8l-.1 -2l-.7 -.3l-2.7 1.8l1.5 2.7zM414.9 308.3l-2.8 -1l-1.4 .7l1 3.2l1.9 -.2zM288.2 198.3l-7.5 -.8l-.9 .7l-1.1 3.5l2 1.3l7.1 .5l.1 0zM250.9 334.4l.1 -6.1l-5 -6.5l-3.6 4.1l.6 9.2zM282.3 354.6l-2 -2.7l-6.1 -.6l1.9 6.1l4.5 -.3l1.7 -2.4zM320.1 253.8l-.2 .1l-2 1.6l-2.2 4.3l3.7 2.4l4.5 0l0 -.1l-.7 -6.4l-.3 -.4zM413.5 388.4l-3.6 1.4l-.9 1.1l.5 1.2l3.6 2.3zM266.1 317.2l-1.8 -4l-4.5 -2.1l-1.7 5.2l3.5 2.6l4.2 -1.1zM326.3 344.9l-1.3 6.3l1.5 .6l4.2 -.7l-1.1 -5.1zM444.7 300.4l.3 -1.3l-2.8 -3.3l-1.4 1.1l.3 3.6l1.2 1.5zM424.5 272.9l.5 0l1.9 -4.5l-1.9 -2.2l-.3 .1l-3.1 2.9l.1 1.8zM392 353l-.9 -4.5l-4.9 1.5l.3 .5l5.1 2.8l.1 -.1zM421.2 277.7l3.3 -4.8l-2.8 -1.9l-2.7 1.4l-.3 .5zM344.1 370.6l-1 1l-.2 1.4l3.1 -1l.1 0zM365.9 310.1l-2.1 -.5l-1.4 3.5l3 4.1l2.6 -1.1l.5 -2.6zM367.6 339.9l-.6 .8l.1 2.2l1.4 1.2l1.1 0l2.1 -3.8l-.2 -.2zM400.2 375.7l3.7 3.5l2.6 -2.6l.1 -1.7l-5.1 -.9zM312 166.1l-7.4 .8l.1 2.9l5.1 1.8l.8 -.5zM287.2 377l.1 -.4l-3 -2.9l-2.5 1.8l.4 3.1l1.6 .3zM373.8 216.8l.3 .4l5 -2.3l-1.1 -2.8l-1.5 -.3l-2.5 2.1zM398 261l0 -.1l-2.8 -7.3l-2.6 1l-.5 1.1l1.8 4l3.6 1.3zM264.3 256.7l-.6 -.2l-5.6 3.1l1.3 5l2.5 .2l3.5 -4.6zM274.4 242.9l7.7 -1.5l.5 -1.9l-2.9 -3l-4.8 .3l-1.7 1.8l.2 4.1zM414.5 278l-1.5 -2.7l-3 -.5l1.3 3.5l2.9 1.2zM324.1 272.2l-.5 -2.7l-4.1 .8l-.7 2l.9 2.1zM413.9 282.4l2 1.6l2.3 .4l3.4 -4.3l-.6 -.8l-.5 -.1l-6 .9zM351.5 306l-.4 -.7l-4.3 2.1l3.6 2.7zM347 266.3l-1.9 -2.3l-.6 -.2l-3.3 2.7l4 2.3zM294 205.1l-6.1 -1.6l-.1 0l-1 4.4l2.6 3.6l2.3 -.3l4.5 -2.7zM374.7 366.6l.3 3.5l1.4 .7l.7 -.1l2.2 -2.7l.1 -2.3l-.7 -.9l-.2 0zM331 351.2l1.1 3.7l4.3 .3l1.1 -.8l.7 -1.3l-.6 -1.7l-4.5 -1.1z"/>
<path fill="#f06c72" d="M303.5 186.5l1.4 1.1l2.4 -.4l2.8 -1.9l1.6 -2.8l-3.9 -6.1l-4.3 -.1l-2.1 5.5zM120.7 259.5l-.5 5.1l1.6 1.2l2 -.3l.8 -5.3z"/>
<path fill="#f07278" d="M487.4 208.5l-4.3 2.1l2.8 2l2.7 -1.1l-.9 -2.9zM386 215.6l-2.2 -1.3l-3.9 1.4l0 1.2l1.6 3l3.3 -1.1z"/>
<path fill="#f07878" d="M471.9 262.1l-.3 -.7l-2.3 -.3l-4.4 2.6l2.8 1.3l3.7 0l.2 -.3zM337 382.3l1 .7l-.9 -2.7zM337.1 380.3l-.1 -.4l-2.9 .1l2.9 2.3z"/>
<path fill="#f07e78" d="M384.5 313.7l3.2 2.6l2.1 -1.1l.2 -3.3l-2.4 -3.2z"/>
<path fill="#f07e7e" d="M280.7 203l-2 -1.3l-2.8 1.9l2.5 7.5l3.6 .3l1.3 -3.7z"/>
<path fill="#f0847e" d="M361.5 343.9l-3.4 .8l.3 4.7l1.4 -.1l2.4 -3.3zM81.5 299.4l-.9 -1.2l-5.9 .2l-1.3 3.9l2 2l4.4 -.9zM483 216.1l2.2 .5l.6 -.2l.1 -3.8l-2.8 -2l-.2 0z"/>
<path fill="#f0907e" d="M371.7 271.6l-.9 .2l-1.7 3.4l2 1.4l2.7 -2.7z"/>
<path fill="#f09084" d="M291.9 340.3l2 .5l2.6 -.7l.4 -4.8l-.6 -.4l-2.6 .3l-1.7 2.3zM386.5 355.7l-1.7 1.7l0 1.7l2.5 1.5l.3 -4.2l-.5 -.7l-.2 -.1zM402.2 406.1l2.7 -2.2l-.9 -2.7l-1.8 -1l-3.5 1.3l.3 .5l1.6 3.1z"/>
<path fill="#f09c84" d="M259 385.7l1 -.2l.5 -6.9l-.2 -.3l-3.6 .1l-1.4 3.3l.4 1.3zM325.3 245.4l4.5 .6l1.6 -5.2l-4.5 -2.8l-2.2 .6l-1.7 2.6zM259.8 160.7l.5 .8l6.7 -.2l0 -1.4l-5.6 -4.7l-1.3 0zM383.6 269.8l.5 1.3l3.3 1.5l.5 -.2l1.6 -3.3l-2 -1.1zM280.9 303.8l-1.6 -3.4l-3.9 3.2l.9 1.7l3.7 .9z"/>
<path fill="#f0a284" d="M330.4 342.5l-3.6 -.5l-1.3 .6l-.4 .7l1.2 1.6l3.3 1.1l1.1 -1.4z"/>
<path fill="#f0f0f0" d="M38.1 235.2l6.7 -4.1l-4.4 -3.3l-3.1 6.3zM327.5 300.9l-1.1 1.6l.7 4.1l3.8 -1l-2.8 -4.8zM438.9 237.1l-2.4 2.9l1.1 2l.4 .2l2.7 -.9l.7 -.8l-2.2 -3.5zM44.4 263l-5.4 1.1l2.2 5.4l4.6 -.4l.7 -1l.3 -3.8zM242.5 175.3l2.1 -1.2l4.7 -5.4l-.4 -5.7l-2.7 -1l-7.1 4.7l2.3 8.4zM251.7 296.4l.3 .6l6.7 -2.8l0 -3.3l-3.9 -4.2l-3.8 1.1zM325.4 227.7l1.4 3.9l2.4 1l2.2 -2.5l-4.4 -5.5zM52.1 289.7l-2.3 -4.7l-1.8 1l.6 3.5l2 1.9l1.1 -.7zM45 251.5l1 .2l4 -2l.3 -2l-5.1 -4.5l-1.9 5.4l.8 2.1zM265.5 268.7l-6.8 1.9l-.7 4.8l5.7 .4l2.5 -2.5l.9 -4.1zM302.5 266.9l.9 -1.1l-4.2 -3.3l-2 2.1l-.1 1.3l.7 1.4zM252.8 160.8l7 -.1l.3 -5.5l-6.5 0zM43.1 284.7l-3.8 -1l.7 1.3l3.6 3.6zM45.3 281.9l-4.7 -4l-2.2 3.8l.9 2l3.8 1l2 -.7zM44.1 250.7l-.8 -2.1l-7.7 -1.7l-.4 .2l-1 6.4l1 1.2zM469.6 216l1.1 -2.3l-1.6 -2.1l-2.6 2l1.7 2.5zM332.1 354.9l-1.1 -3.7l-.3 -.1l-4.2 .7l-.1 6.7l1.1 .7l4.4 -3zM289 281.7l2.3 -6.1l-.1 -.4l-2 -.7l-1.8 .8l-1.8 4l3 2.5zM383.3 300.8l.1 .1l2.3 -.6l-.9 -5.1l-5.6 -2l-.1 .7zM46.5 268.1l7.2 2.1l1.8 -3.3l-3 -4l-2.6 -.6l-3.1 2zM30 263.7l1.7 4.6l.5 .9l1.4 -2.9l-.5 -2.6zM380.9 326.3l.9 1.1l1.4 .4l1 -3.5l-3.2 -1.9zM356.7 200.2l-2.6 1.4l-.2 1l.4 .2l2.6 -2.1zM56.1 244.8l1 5.2l2.6 1.9l.5 0l5.1 -7.5l-8.1 -1zM481.1 221.9l.2 .1l2.9 -.7l1 -4.7l-2.2 -.5l-2.9 .7l-.3 2.8zM196.3 161.2l7.3 6.4l2.7 -2.4l-.7 -10l-7.7 0zM241.9 291.7l9.8 4.7l-.7 -8.6l-3.4 -1.2zM377 355l-3.6 -3.1l-1.2 1.6l1 3l3.5 -.5zM30 234.3l-1.1 -.6l.5 2.8zM56 298.5l6.6 0l.2 -.4l-.1 -2.4l-4.9 -1.5l-2.6 2.3zM50.8 295.9l-1.9 3.2l2 2.3l4.6 -1.2l.5 -1.7l-.8 -2l-.5 -.2zM69.3 256.8l-6.1 -2.1l-1.1 5.6l1.2 .1zM267.9 414.5l-2.6 -.8l-1.3 .7l4.1 .5zM456.3 315.7l1.4 2.2l1.8 .5l.5 -.4l-.8 -4.6l-.7 -.6l0 0l-1.5 1.2zM49.4 281.4l2.8 -2.4l-1.2 -2.2l-4.2 .2l1 3.7zM267.9 220.6l1.9 -3.4l-.8 -1l-1.6 -.4l-4 4.2l.1 .8zM435.2 246.2l1.8 .3l1.2 -2.2l-.2 -2.1l-.4 -.2l-2.3 1.1l-.4 2.5zM408.5 286.2l1.9 -3.7l-2 -1.7l0 0l-.3 .2l-1.5 3l1.4 2.4zM256 182l2.3 3.1l4.7 .3l.9 -5.3l-2.8 -1.7l-5.1 1zM274.2 351.2l0 .1l6.1 .6l1.4 -3.8l-.8 -1.1l-3.1 -1.6l-3.9 5zM173.5 300.6l6.8 1.7l2.7 -12.9l-6.6 -3.3l-.6 .3zM46.8 277l-1.8 -1.3l-4.3 1.7l-.1 .5l4.7 4l2.5 -1.2zM33 245.4l1.1 -6.3l-4.4 -1.1l.3 2l.6 4.9zM134 352.8l-4.8 -4.6l-3.4 .8l-.4 2.4l1.3 .3l8.2 3.9zM470.9 242.8l-3.9 .5l-.9 1.1l.3 1.9l.9 1.2l.6 .4l1.1 -.2l1.8 -1.4zM63.6 293.8l6.9 1.4l2 -.8l.3 -1.5l-.9 -2.1l-3.6 -3.1l-2.5 -.9l-2 .8zM68.1 298l.9 3.6l3.9 .9l.5 -.2l1.3 -3.9l-2.2 -4l-2 .8zM172.8 264.4l.5 -3.4l-12.5 -3.9l-.2 .1l6.7 10l1.9 -.5zM351.6 321.6l3.1 -1.1l-.5 -4.7l-3.1 .2l-.4 .3zM36 257.4l7.5 2.2l.9 -1.6l-1.1 -2.6l-7.3 1.9zM43.3 255.4l1.7 -3.9l-.9 -.8l-8.9 4l.8 2.6zM39.5 275.8l-.8 -3.8l-1.9 -.9l-2.9 1.8l1.1 2.1l.5 1zM51.9 284.6l2.6 -5l-2.3 -.6l-2.8 2.4l.7 3.3zM51.7 290.7l-1.1 .7l-.8 1.9l1 2.6l3.9 .4l-.4 -4.5zM34.7 262.4l4.3 1.7l5.4 -1.1l-.9 -3.4l-7.5 -2.2z"/>
<path fill="#f66066" d="M362.2 334.3l0 -1.9l0 -.1l-5.1 1.3l-.2 .5l-.1 .9l2.2 2.2z"/>
<path fill="#f6666c" d="M454.6 321.3l-2.2 .4l-.4 1.8l2 -1.5l.9 -.6z"/>
</g>
<path d="M418 421 Q413 427 404 428" fill="none" stroke="#666" stroke-width="0.9"/>
<text x="210" y="444.4" font-family="Liberation Sans, Arial, sans-serif" font-size="12.5" fill="#9a9a9a">Mexico</text>
<rect x="4.5" y="461.5" width="188" height="16" fill="#fff" fill-opacity="0.75"/>
<text x="8" y="473" font-family="Liberation Sans, Arial, sans-serif" font-size="11.5" letter-spacing="0.1" fill="#555" style="white-space:pre">© 2025 Mapbox  © OpenStreetMap</text>
<rect x="4.5" y="97.5" width="547" height="380" fill="none" stroke="#e0e0e0" stroke-width="1"/>
</svg>

<div class="a lbl" style="top:28.5px">Select Measure</div>
<div class="dd" style="top:45px"><span>All Surgical Discharges per 1,000 Medi...</span><i></i></div>
<div class="a lbl" style="top:84.5px">Filter by HSA State</div>
<div class="dd" style="top:101px"><span>(All)</span><i></i></div>
<div class="a lbl" style="top:140.6px">Filter by HSA City</div>
<div class="dd" style="top:157px"><span>(All)</span><i></i></div>

<div class="a lbl" style="top:196.8px">Filter by Medicare Population Age 65+</div>
<div class="a val" style="left:564px;top:217.7px">344</div>
<div class="a val" style="right:8px;top:217.7px">175,781</div>
<svg class="a" style="left:560px;top:234px" width="240" height="20" viewBox="0 0 240 20">
<rect x="12" y="8.2" width="213" height="3.4" fill="#666"/>
<path d="M12.5 3.5 H8 A5 6.3 0 0 0 8 16.2 H12.5 Z" fill="#fff" stroke="#666" stroke-width="1"/>
<path d="M224.5 3.5 H229 A5 6.3 0 0 1 229 16.2 H224.5 Z" fill="#fff" stroke="#666" stroke-width="1"/>
</svg>

<div class="a lbl" style="top:266.8px">Filter by Adjusted Rate</div>
<div class="a val" style="left:564px;top:287.7px">29.57</div>
<div class="a val" style="right:8px;top:287.7px">127.91</div>
<svg class="a" style="left:560px;top:304px" width="240" height="20" viewBox="0 0 240 20">
<rect x="12" y="8.2" width="213" height="3.4" fill="#666"/>
<path d="M12.5 3.5 H8 A5 6.3 0 0 0 8 16.2 H12.5 Z" fill="#fff" stroke="#666" stroke-width="1"/>
<path d="M224.5 3.5 H229 A5 6.3 0 0 1 229 16.2 H224.5 Z" fill="#fff" stroke="#666" stroke-width="1"/>
</svg>

<div class="a lbl" style="left:5px;top:488px">Adjusted Rate (per 1,000 Medicare Enrollees)</div>
<div class="a" style="left:8px;top:510px;width:540px;height:16px;border:1px solid #b3a79a;background:linear-gradient(90deg,#64a696 0%,#80ad8b 17%,#b3c27b 36%,#e3d966 50%,#e8b874 63%,#ee9a85 76%,#f17478 88%,#ff3333 100%)"></div>
<div class="a" style="left:273px;top:525.5px;width:1.3px;height:24px;background:#111"></div>
<div class="a val" style="left:8.5px;top:528.8px;font-size:12.4px;letter-spacing:0.3px">29.57</div>
<div class="a val" style="right:253px;top:528.8px;font-size:12.4px;letter-spacing:0.3px">127.91</div>

<div id="tb"></div>
<svg class="a" style="left:30px;top:576px" width="24" height="22" viewBox="0 0 24 22">
<g stroke="#333" stroke-width="1.1" fill="none">
<path d="M11.5 7.1V13.6M8.2 10.5H14.8"/>
<path d="M7.5 4V9M5 6.5H10M15.5 4V9M13 6.5H18M7.5 11.9V16.9M5 14.4H10M15.5 11.9V16.9M13 14.4H18"/>
<path d="M11.5 1.8V4.8M10 3.3H13M11.5 16.1V19.1M10 17.6H13M4.4 9V12M2.9 10.5H5.9M18.5 9V12M17 10.5H20"/>
</g></svg>
<div class="a" style="left:55px;top:580px;font-size:12px;color:#666;font-weight:bold">View on Tableau Public</div>

<svg class="a" style="left:410px;top:575px" width="390" height="25" viewBox="410 575 390 25">
<g fill="none" stroke="#c3c3c3" stroke-width="1.4">
<path d="M421 581.3H429.5A6.4 6.4 0 0 1 429.5 594.1H421"/><path d="M423.5 578.8L421 581.3L423.5 583.8"/>
<path d="M475 581.3H466.5A6.4 6.4 0 0 0 466.5 594.1H475"/><path d="M472.5 578.8L475 581.3L472.5 583.8"/>
<path d="M500.5 579V583.5M502 581.3H509.5A6.4 6.4 0 0 1 509.5 594.1H501.5"/><path d="M504.5 578.8L502 581.3L504.5 583.8"/>
<path d="M548 582.8H539.5A3.8 3.8 0 0 0 539.5 590.4H547.5A3.8 3.8 0 0 0 551.3 586.6V585"/><path d="M546 580.3L548.5 582.8L546 585.3"/>
<path d="M595.7 580.2V592.7" stroke="#aaa" stroke-width="1.2"/>
</g>
<path d="M566.5 585.2H573.2L569.85 589.7Z" fill="#bcbcbc"/>
<g fill="none" stroke="#555" stroke-width="1.4">
<path d="M627 588.6H624A1.5 1.5 0 0 1 622.5 587.1V580.8A1.5 1.5 0 0 1 624 579.3H635.3A1.5 1.5 0 0 1 636.8 580.8V587.1A1.5 1.5 0 0 1 635.3 588.6H632.3"/>
<path d="M629.6 583.5V594"/><path d="M627.2 591.8L629.6 594.5L632 591.8"/>
<path d="M673.4 583.5V580.4A1 1 0 0 1 674.4 579.4H677.5M684.5 579.4H687.6A1 1 0 0 1 688.6 580.4V583.5M688.6 590.5V593.6A1 1 0 0 1 687.6 594.6H684.5M677.5 594.6H674.4A1 1 0 0 1 673.4 593.6V590.5"/>
<rect x="676.6" y="582.5" width="8.8" height="8.8" rx="1.2"/>
<circle cx="713.3" cy="587" r="2.4"/><circle cx="723" cy="581.8" r="2.4"/><circle cx="723" cy="592.3" r="2.4"/>
<path d="M715.4 585.9L720.9 582.9M715.4 588.1L720.9 591.2"/>
</g>
<path d="M642.4 585.1H649.2L645.8 589.7Z" fill="#555"/>
</svg>
<div class="a" style="left:733px;top:580px;font-size:12px;color:#555;font-weight:bold">Share</div>
</body></html>
